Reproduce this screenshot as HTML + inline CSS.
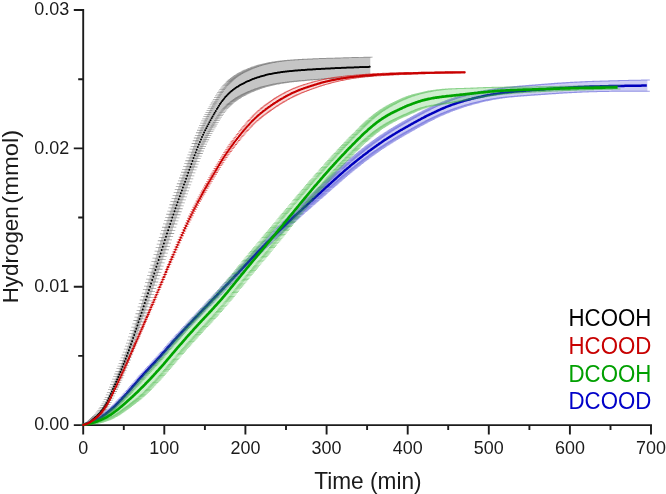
<!DOCTYPE html>
<html lang="en">
<head>
<meta charset="utf-8">
<title>Hydrogen evolution vs time</title>
<style>
html,body{margin:0;padding:0;background:#fff;}
body{width:666px;height:494px;overflow:hidden;font-family:"Liberation Sans",sans-serif;}
svg text{font-family:"Liberation Sans",sans-serif;}
</style>
</head>
<body>
<svg width="666" height="494" viewBox="0 0 666 494" style="display:block;font-family:'Liberation Sans',sans-serif">
<rect width="666" height="494" fill="#fff"/>
<g id="axes"><path d="M83.2 9V426.1" stroke="#1c1c1c" stroke-width="1.9" fill="none"/>
<path d="M82.2 425.1H652" stroke="#1c1c1c" stroke-width="1.9" fill="none"/>
<path d="M83.2 425.1v9.4M123.8 425.1v5M164.3 425.1v9.4M204.9 425.1v5M245.4 425.1v9.4M286 425.1v5M326.6 425.1v9.4M367.1 425.1v5M407.7 425.1v9.4M448.2 425.1v5M488.8 425.1v9.4M529.4 425.1v5M569.9 425.1v9.4M610.5 425.1v5M651 425.1v9.4M83.2 425.1h-9.4M83.2 355.9h-5M83.2 286.7h-9.4M83.2 217.5h-5M83.2 148.4h-9.4M83.2 79.2h-5M83.2 10h-9.4" stroke="#1c1c1c" stroke-width="1.9" fill="none"/></g>
<g id="s-black"><path d="M82.71 424.5h1.18v.6h-1.18zM83.77 424.29h1.18v.7h-1.18zM84.83 423.93h1.18v.83h-1.18zM85.89 423.46h1.18v.98h-1.18zM86.95 422.93h1.18v1.15h-1.18zM88.01 422.32h1.18v1.33h-1.18zM89.07 421.49h1.18v1.53h-1.18zM90.13 420.51h1.18v1.74h-1.18zM91.19 419.5h1.18v1.96h-1.18zM92.25 418.52h1.18v2.19h-1.18zM93.31 417.52h1.18v2.44h-1.18zM94.37 416.49h1.18v2.69h-1.18zM95.43 415.42h1.18v2.95h-1.18zM96.49 414.28h1.18v3.22h-1.18zM97.55 413.07h1.18v3.5h-1.18zM98.61 411.78h1.18v3.78h-1.18zM99.67 410.41h1.18v4.07h-1.18zM100.73 408.93h1.18v4.39h-1.18zM101.79 407.33h1.18v4.76h-1.18zM102.85 405.62h1.18v5.15h-1.18zM103.91 403.78h1.18v5.57h-1.18zM104.97 401.81h1.18v6.02h-1.18zM106.03 399.69h1.18v6.47h-1.18zM107.09 397.36h1.18v6.94h-1.18zM108.15 394.88h1.18v7.42h-1.18zM109.21 392.31h1.18v7.89h-1.18zM110.27 389.68h1.18v8.36h-1.18zM111.33 387.04h1.18v8.81h-1.18zM112.39 384.42h1.18v9.24h-1.18zM113.45 381.82h1.18v9.65h-1.18zM114.51 379.22h1.18v10.03h-1.18zM115.57 376.61h1.18v10.39h-1.18zM116.63 373.99h1.18v10.74h-1.18zM117.69 371.36h1.18v11.07h-1.18zM118.75 368.72h1.18v11.39h-1.18zM119.81 366.05h1.18v11.71h-1.18zM120.87 363.35h1.18v12.01h-1.18zM121.93 360.61h1.18v12.32h-1.18zM122.99 357.83h1.18v12.61h-1.18zM124.05 355h1.18v12.91h-1.18zM125.11 352.12h1.18v13.2h-1.18zM126.17 349.19h1.18v13.49h-1.18zM127.23 346.19h1.18v13.78h-1.18zM128.29 343.14h1.18v14.08h-1.18zM129.35 340.04h1.18v14.38h-1.18zM130.41 336.88h1.18v14.69h-1.18zM131.47 333.67h1.18v15h-1.18zM132.53 330.43h1.18v15.32h-1.18zM133.59 327.14h1.18v15.65h-1.18zM134.65 323.83h1.18v16h-1.18zM135.71 320.49h1.18v16.36h-1.18zM136.77 317.13h1.18v16.73h-1.18zM137.83 313.74h1.18v17.13h-1.18zM138.89 310.32h1.18v17.57h-1.18zM139.95 306.89h1.18v18.02h-1.18zM141.01 303.45h1.18v18.5h-1.18zM142.07 299.99h1.18v18.98h-1.18zM143.13 296.53h1.18v19.46h-1.18zM144.19 293.06h1.18v19.94h-1.18zM145.25 289.58h1.18v20.41h-1.18zM146.31 286.11h1.18v20.86h-1.18zM147.37 282.63h1.18v21.28h-1.18zM148.43 279.15h1.18v21.67h-1.18zM149.49 275.68h1.18v22.03h-1.18zM150.55 272.21h1.18v22.37h-1.18zM151.61 268.71h1.18v22.73h-1.18zM152.67 265.21h1.18v23.09h-1.18zM153.73 261.7h1.18v23.46h-1.18zM154.79 258.18h1.18v23.82h-1.18zM155.85 254.67h1.18v24.16h-1.18zM156.91 251.16h1.18v24.49h-1.18zM157.97 247.67h1.18v24.8h-1.18zM159.03 244.19h1.18v25.08h-1.18zM160.09 240.74h1.18v25.32h-1.18zM161.15 237.31h1.18v25.52h-1.18zM162.21 233.91h1.18v25.67h-1.18zM163.27 230.55h1.18v25.76h-1.18zM164.33 227.23h1.18v25.8h-1.18zM165.39 223.95h1.18v25.79h-1.18zM166.45 220.69h1.18v25.78h-1.18zM167.51 217.45h1.18v25.75h-1.18zM168.57 214.23h1.18v25.71h-1.18zM169.63 211.05h1.18v25.66h-1.18zM170.69 207.88h1.18v25.6h-1.18zM171.75 204.75h1.18v25.54h-1.18zM172.81 201.65h1.18v25.47h-1.18zM173.87 198.58h1.18v25.4h-1.18zM174.93 195.55h1.18v25.32h-1.18zM175.99 192.55h1.18v25.25h-1.18zM177.05 189.58h1.18v25.17h-1.18zM178.11 186.65h1.18v25.09h-1.18zM179.17 183.74h1.18v25.02h-1.18zM180.23 180.85h1.18v24.94h-1.18zM181.29 177.98h1.18v24.85h-1.18zM182.35 175.13h1.18v24.74h-1.18zM183.41 172.27h1.18v24.62h-1.18zM184.47 169.41h1.18v24.5h-1.18zM185.53 166.54h1.18v24.37h-1.18zM186.59 163.65h1.18v24.24h-1.18zM187.65 160.76h1.18v24.11h-1.18zM188.71 157.85h1.18v23.98h-1.18zM189.77 154.95h1.18v23.86h-1.18zM190.83 152.06h1.18v23.75h-1.18zM191.89 149.18h1.18v23.64h-1.18zM192.95 146.33h1.18v23.55h-1.18zM194.01 143.51h1.18v23.47h-1.18zM195.07 140.74h1.18v23.41h-1.18zM196.13 138.01h1.18v23.37h-1.18zM197.19 135.35h1.18v23.33h-1.18zM198.25 132.76h1.18v23.29h-1.18zM199.31 130.25h1.18v23.25h-1.18zM200.37 127.81h1.18v23.21h-1.18zM201.43 125.45h1.18v23.18h-1.18zM202.49 123.17h1.18v23.15h-1.18zM203.55 120.95h1.18v23.12h-1.18zM204.61 118.8h1.18v23.09h-1.18zM205.67 116.7h1.18v23.06h-1.18zM206.73 114.65h1.18v23.04h-1.18zM207.79 112.64h1.18v23.03h-1.18zM208.85 110.66h1.18v23.01h-1.18zM209.91 108.71h1.18v23h-1.18zM210.97 106.78h1.18v23h-1.18zM212.03 104.87h1.18v23h-1.18zM213.09 103h1.18v23h-1.18zM214.15 101.15h1.18v23h-1.18zM215.21 99.35h1.18v23h-1.18zM216.27 97.59h1.18v23h-1.18zM217.33 95.88h1.18v23h-1.18zM218.39 94.22h1.18v23h-1.18zM219.45 92.62h1.18v23h-1.18zM220.51 91.08h1.18v23h-1.18zM221.57 89.61h1.18v23h-1.18zM222.63 88.21h1.18v23h-1.18zM223.69 86.88h1.18v23h-1.18zM224.75 85.62h1.18v23h-1.18zM225.81 84.42h1.18v23h-1.18zM226.87 83.3h1.18v23.01h-1.18zM227.93 82.23h1.18v23.03h-1.18zM228.99 81.23h1.18v23.04h-1.18zM230.05 80.27h1.18v23.06h-1.18zM231.11 79.37h1.18v23.08h-1.18zM232.17 78.51h1.18v23.11h-1.18zM233.23 77.69h1.18v23.13h-1.18zM234.29 76.92h1.18v23.15h-1.18zM235.35 76.17h1.18v23.16h-1.18zM236.41 75.47h1.18v23.18h-1.18zM237.47 74.79h1.18v23.19h-1.18zM238.53 74.14h1.18v23.2h-1.18zM239.59 73.52h1.18v23.2h-1.18zM240.65 72.93h1.18v23.2h-1.18zM241.71 72.35h1.18v23.19h-1.18zM242.77 71.8h1.18v23.18h-1.18zM243.83 71.27h1.18v23.17h-1.18zM244.89 70.76h1.18v23.15h-1.18zM245.95 70.26h1.18v23.14h-1.18zM247.01 69.79h1.18v23.11h-1.18zM248.07 69.33h1.18v23.09h-1.18zM249.13 68.89h1.18v23.07h-1.18zM250.19 68.46h1.18v23.04h-1.18zM251.25 68.04h1.18v23.01h-1.18zM252.31 67.64h1.18v22.98h-1.18zM253.37 67.26h1.18v22.94h-1.18zM254.43 66.89h1.18v22.91h-1.18zM255.49 66.53h1.18v22.88h-1.18zM256.55 66.18h1.18v22.84h-1.18zM257.61 65.85h1.18v22.8h-1.18zM258.67 65.52h1.18v22.77h-1.18zM259.73 65.21h1.18v22.73h-1.18zM260.79 64.91h1.18v22.69h-1.18zM261.85 64.62h1.18v22.65h-1.18zM262.91 64.34h1.18v22.61h-1.18zM263.97 64.07h1.18v22.58h-1.18zM265.03 63.82h1.18v22.54h-1.18zM266.09 63.57h1.18v22.51h-1.18zM267.15 63.33h1.18v22.47h-1.18zM268.21 63.1h1.18v22.44h-1.18zM269.27 62.89h1.18v22.4h-1.18zM270.33 62.68h1.18v22.37h-1.18zM271.39 62.48h1.18v22.34h-1.18zM272.45 62.3h1.18v22.31h-1.18zM273.51 62.12h1.18v22.28h-1.18zM274.57 61.95h1.18v22.24h-1.18zM275.63 61.78h1.18v22.21h-1.18zM276.69 61.63h1.18v22.17h-1.18zM277.75 61.48h1.18v22.14h-1.18zM278.81 61.33h1.18v22.1h-1.18zM279.87 61.2h1.18v22.07h-1.18zM280.93 61.07h1.18v22.03h-1.18zM281.99 60.94h1.18v22h-1.18zM283.05 60.82h1.18v21.96h-1.18zM284.11 60.71h1.18v21.93h-1.18zM285.17 60.6h1.18v21.89h-1.18zM286.23 60.5h1.18v21.85h-1.18zM287.29 60.4h1.18v21.82h-1.18zM288.35 60.3h1.18v21.78h-1.18zM289.41 60.21h1.18v21.75h-1.18zM290.47 60.13h1.18v21.71h-1.18zM291.53 60.04h1.18v21.67h-1.18zM292.59 59.96h1.18v21.63h-1.18zM293.65 59.89h1.18v21.6h-1.18zM294.71 59.81h1.18v21.56h-1.18zM295.77 59.74h1.18v21.52h-1.18zM296.83 59.67h1.18v21.49h-1.18zM297.89 59.61h1.18v21.45h-1.18zM298.95 59.54h1.18v21.42h-1.18zM300.01 59.48h1.18v21.38h-1.18zM301.07 59.42h1.18v21.34h-1.18zM302.13 59.36h1.18v21.31h-1.18zM303.19 59.3h1.18v21.27h-1.18zM304.25 59.24h1.18v21.23h-1.18zM305.31 59.19h1.18v21.19h-1.18zM306.37 59.14h1.18v21.16h-1.18zM307.43 59.08h1.18v21.12h-1.18zM308.49 59.03h1.18v21.08h-1.18zM309.55 58.98h1.18v21.04h-1.18zM310.61 58.94h1.18v21h-1.18zM311.67 58.89h1.18v20.96h-1.18zM312.73 58.84h1.18v20.92h-1.18zM313.79 58.8h1.18v20.89h-1.18zM314.85 58.76h1.18v20.85h-1.18zM315.91 58.71h1.18v20.81h-1.18zM316.97 58.67h1.18v20.77h-1.18zM318.03 58.63h1.18v20.73h-1.18zM319.09 58.59h1.18v20.69h-1.18zM320.15 58.55h1.18v20.65h-1.18zM321.21 58.52h1.18v20.61h-1.18zM322.27 58.48h1.18v20.58h-1.18zM323.33 58.44h1.18v20.54h-1.18zM324.39 58.41h1.18v20.5h-1.18zM325.45 58.37h1.18v20.46h-1.18zM326.51 58.34h1.18v20.42h-1.18zM327.57 58.3h1.18v20.39h-1.18zM328.63 58.27h1.18v20.35h-1.18zM329.69 58.23h1.18v20.31h-1.18zM330.75 58.2h1.18v20.28h-1.18zM331.81 58.17h1.18v20.24h-1.18zM332.87 58.13h1.18v20.21h-1.18zM333.93 58.1h1.18v20.17h-1.18zM334.99 58.07h1.18v20.14h-1.18zM336.05 58.03h1.18v20.1h-1.18zM337.11 58h1.18v20.07h-1.18zM338.17 57.97h1.18v20.04h-1.18zM339.23 57.93h1.18v20.01h-1.18zM340.29 57.9h1.18v19.97h-1.18zM341.35 57.87h1.18v19.94h-1.18zM342.41 57.84h1.18v19.91h-1.18zM343.47 57.81h1.18v19.88h-1.18zM344.53 57.78h1.18v19.85h-1.18zM345.59 57.75h1.18v19.82h-1.18zM346.65 57.72h1.18v19.79h-1.18zM347.71 57.69h1.18v19.76h-1.18zM348.77 57.66h1.18v19.73h-1.18zM349.83 57.63h1.18v19.7h-1.18zM350.89 57.6h1.18v19.67h-1.18zM351.95 57.57h1.18v19.64h-1.18zM353.01 57.55h1.18v19.61h-1.18zM354.07 57.52h1.18v19.58h-1.18zM355.13 57.49h1.18v19.55h-1.18zM356.19 57.47h1.18v19.53h-1.18zM357.25 57.44h1.18v19.5h-1.18zM358.31 57.42h1.18v19.47h-1.18zM359.37 57.39h1.18v19.44h-1.18zM360.43 57.37h1.18v19.42h-1.18zM361.49 57.35h1.18v19.39h-1.18zM362.55 57.33h1.18v19.36h-1.18zM363.61 57.31h1.18v19.34h-1.18zM364.67 57.29h1.18v19.31h-1.18zM365.73 57.27h1.18v19.29h-1.18zM366.79 57.25h1.18v19.26h-1.18zM367.85 57.24h1.18v19.24h-1.18zM368.91 57.22h1.18v19.21h-1.18zM369.11 57.2h1.18v19.21h-1.18z" fill="#4c4c4c" fill-opacity="0.32"/>
<path d="M80.4 424.1h5.8v.8h-5.8zM80.4 424.7h5.8v.8h-5.8zM81.46 423.89h5.8v.8h-5.8zM81.46 424.58h5.8v.8h-5.8zM82.52 423.53h5.8v.8h-5.8zM82.52 424.36h5.8v.8h-5.8zM83.58 423.06h5.8v.8h-5.8zM83.58 424.05h5.8v.8h-5.8zM84.64 422.53h5.8v.8h-5.8zM84.64 423.68h5.8v.8h-5.8zM85.7 421.92h5.8v.8h-5.8zM85.7 423.25h5.8v.8h-5.8zM86.76 421.09h5.8v.8h-5.8zM86.76 422.61h5.8v.8h-5.8zM87.82 420.11h5.8v.8h-5.8zM87.82 421.85h5.8v.8h-5.8zM88.88 419.1h5.8v.8h-5.8zM88.88 421.06h5.8v.8h-5.8zM89.94 418.12h5.8v.8h-5.8zM89.94 420.31h5.8v.8h-5.8zM91 417.12h5.8v.8h-5.8zM91 419.56h5.8v.8h-5.8zM92.06 416.09h5.8v.8h-5.8zM92.06 418.78h5.8v.8h-5.8zM93.12 415.02h5.8v.8h-5.8zM93.12 417.97h5.8v.8h-5.8zM94.18 413.88h5.8v.8h-5.8zM94.18 417.1h5.8v.8h-5.8zM95.24 412.67h5.8v.8h-5.8zM95.24 416.17h5.8v.8h-5.8zM96.3 411.38h5.8v.8h-5.8zM96.3 415.17h5.8v.8h-5.8zM97.36 410.01h5.8v.8h-5.8zM97.36 414.08h5.8v.8h-5.8zM98.42 408.53h5.8v.8h-5.8zM98.42 412.92h5.8v.8h-5.8zM99.48 406.93h5.8v.8h-5.8zM99.48 411.69h5.8v.8h-5.8zM100.54 405.22h5.8v.8h-5.8zM100.54 410.37h5.8v.8h-5.8zM101.6 403.38h5.8v.8h-5.8zM101.6 408.95h5.8v.8h-5.8zM102.66 401.41h5.8v.8h-5.8zM102.66 407.42h5.8v.8h-5.8zM103.72 399.29h5.8v.8h-5.8zM103.72 405.76h5.8v.8h-5.8zM104.78 396.96h5.8v.8h-5.8zM104.78 403.9h5.8v.8h-5.8zM105.84 394.48h5.8v.8h-5.8zM105.84 401.9h5.8v.8h-5.8zM106.9 391.91h5.8v.8h-5.8zM106.9 399.8h5.8v.8h-5.8zM107.96 389.28h5.8v.8h-5.8zM107.96 397.63h5.8v.8h-5.8zM109.02 386.64h5.8v.8h-5.8zM109.02 395.45h5.8v.8h-5.8zM110.08 384.02h5.8v.8h-5.8zM110.08 393.27h5.8v.8h-5.8zM111.14 381.42h5.8v.8h-5.8zM111.14 391.08h5.8v.8h-5.8zM112.2 378.82h5.8v.8h-5.8zM112.2 388.85h5.8v.8h-5.8zM113.26 376.21h5.8v.8h-5.8zM113.26 386.61h5.8v.8h-5.8zM114.32 373.59h5.8v.8h-5.8zM114.32 384.33h5.8v.8h-5.8zM115.38 370.96h5.8v.8h-5.8zM115.38 382.04h5.8v.8h-5.8zM116.44 368.32h5.8v.8h-5.8zM116.44 379.71h5.8v.8h-5.8zM117.5 365.65h5.8v.8h-5.8zM117.5 377.35h5.8v.8h-5.8zM118.56 362.95h5.8v.8h-5.8zM118.56 374.96h5.8v.8h-5.8zM119.62 360.21h5.8v.8h-5.8zM119.62 372.52h5.8v.8h-5.8zM120.68 357.43h5.8v.8h-5.8zM120.68 370.04h5.8v.8h-5.8zM121.74 354.6h5.8v.8h-5.8zM121.74 367.51h5.8v.8h-5.8zM122.8 351.72h5.8v.8h-5.8zM122.8 364.92h5.8v.8h-5.8zM123.86 348.79h5.8v.8h-5.8zM123.86 362.28h5.8v.8h-5.8zM124.92 345.79h5.8v.8h-5.8zM124.92 359.58h5.8v.8h-5.8zM125.98 342.74h5.8v.8h-5.8zM125.98 356.82h5.8v.8h-5.8zM127.04 339.64h5.8v.8h-5.8zM127.04 354.02h5.8v.8h-5.8zM128.1 336.48h5.8v.8h-5.8zM128.1 351.16h5.8v.8h-5.8zM129.16 333.27h5.8v.8h-5.8zM129.16 348.27h5.8v.8h-5.8zM130.22 330.03h5.8v.8h-5.8zM130.22 345.35h5.8v.8h-5.8zM131.28 326.74h5.8v.8h-5.8zM131.28 342.4h5.8v.8h-5.8zM132.34 323.43h5.8v.8h-5.8zM132.34 339.43h5.8v.8h-5.8zM133.4 320.09h5.8v.8h-5.8zM133.4 336.45h5.8v.8h-5.8zM134.46 316.73h5.8v.8h-5.8zM134.46 333.46h5.8v.8h-5.8zM135.52 313.34h5.8v.8h-5.8zM135.52 330.47h5.8v.8h-5.8zM136.58 309.92h5.8v.8h-5.8zM136.58 327.49h5.8v.8h-5.8zM137.64 306.49h5.8v.8h-5.8zM137.64 324.52h5.8v.8h-5.8zM138.7 303.05h5.8v.8h-5.8zM138.7 321.54h5.8v.8h-5.8zM139.76 299.59h5.8v.8h-5.8zM139.76 318.57h5.8v.8h-5.8zM140.82 296.13h5.8v.8h-5.8zM140.82 315.59h5.8v.8h-5.8zM141.88 292.66h5.8v.8h-5.8zM141.88 312.6h5.8v.8h-5.8zM142.94 289.18h5.8v.8h-5.8zM142.94 309.59h5.8v.8h-5.8zM144 285.71h5.8v.8h-5.8zM144 306.56h5.8v.8h-5.8zM145.06 282.23h5.8v.8h-5.8zM145.06 303.51h5.8v.8h-5.8zM146.12 278.75h5.8v.8h-5.8zM146.12 300.42h5.8v.8h-5.8zM147.18 275.28h5.8v.8h-5.8zM147.18 297.31h5.8v.8h-5.8zM148.24 271.81h5.8v.8h-5.8zM148.24 294.18h5.8v.8h-5.8zM149.3 268.31h5.8v.8h-5.8zM149.3 291.04h5.8v.8h-5.8zM150.36 264.81h5.8v.8h-5.8zM150.36 287.9h5.8v.8h-5.8zM151.42 261.3h5.8v.8h-5.8zM151.42 284.75h5.8v.8h-5.8zM152.48 257.78h5.8v.8h-5.8zM152.48 281.6h5.8v.8h-5.8zM153.54 254.27h5.8v.8h-5.8zM153.54 278.43h5.8v.8h-5.8zM154.6 250.76h5.8v.8h-5.8zM154.6 275.26h5.8v.8h-5.8zM155.66 247.27h5.8v.8h-5.8zM155.66 272.07h5.8v.8h-5.8zM156.72 243.79h5.8v.8h-5.8zM156.72 268.87h5.8v.8h-5.8zM157.78 240.34h5.8v.8h-5.8zM157.78 265.65h5.8v.8h-5.8zM158.84 236.91h5.8v.8h-5.8zM158.84 262.42h5.8v.8h-5.8zM159.9 233.51h5.8v.8h-5.8zM159.9 259.18h5.8v.8h-5.8zM160.96 230.15h5.8v.8h-5.8zM160.96 255.91h5.8v.8h-5.8zM162.02 226.83h5.8v.8h-5.8zM162.02 252.63h5.8v.8h-5.8zM163.08 223.55h5.8v.8h-5.8zM163.08 249.34h5.8v.8h-5.8zM164.14 220.29h5.8v.8h-5.8zM164.14 246.06h5.8v.8h-5.8zM165.2 217.05h5.8v.8h-5.8zM165.2 242.8h5.8v.8h-5.8zM166.26 213.83h5.8v.8h-5.8zM166.26 239.54h5.8v.8h-5.8zM167.32 210.65h5.8v.8h-5.8zM167.32 236.3h5.8v.8h-5.8zM168.38 207.48h5.8v.8h-5.8zM168.38 233.09h5.8v.8h-5.8zM169.44 204.35h5.8v.8h-5.8zM169.44 229.89h5.8v.8h-5.8zM170.5 201.25h5.8v.8h-5.8zM170.5 226.72h5.8v.8h-5.8zM171.56 198.18h5.8v.8h-5.8zM171.56 223.58h5.8v.8h-5.8zM172.62 195.15h5.8v.8h-5.8zM172.62 220.47h5.8v.8h-5.8zM173.68 192.15h5.8v.8h-5.8zM173.68 217.39h5.8v.8h-5.8zM174.74 189.18h5.8v.8h-5.8zM174.74 214.35h5.8v.8h-5.8zM175.8 186.25h5.8v.8h-5.8zM175.8 211.34h5.8v.8h-5.8zM176.86 183.34h5.8v.8h-5.8zM176.86 208.35h5.8v.8h-5.8zM177.92 180.45h5.8v.8h-5.8zM177.92 205.39h5.8v.8h-5.8zM178.98 177.58h5.8v.8h-5.8zM178.98 202.43h5.8v.8h-5.8zM180.04 174.73h5.8v.8h-5.8zM180.04 199.47h5.8v.8h-5.8zM181.1 171.87h5.8v.8h-5.8zM181.1 196.5h5.8v.8h-5.8zM182.16 169.01h5.8v.8h-5.8zM182.16 193.51h5.8v.8h-5.8zM183.22 166.14h5.8v.8h-5.8zM183.22 190.51h5.8v.8h-5.8zM184.28 163.25h5.8v.8h-5.8zM184.28 187.5h5.8v.8h-5.8zM185.34 160.36h5.8v.8h-5.8zM185.34 184.47h5.8v.8h-5.8zM186.4 157.45h5.8v.8h-5.8zM186.4 181.44h5.8v.8h-5.8zM187.46 154.55h5.8v.8h-5.8zM187.46 178.41h5.8v.8h-5.8zM188.52 151.66h5.8v.8h-5.8zM188.52 175.4h5.8v.8h-5.8zM189.58 148.78h5.8v.8h-5.8zM189.58 172.42h5.8v.8h-5.8zM190.64 145.93h5.8v.8h-5.8zM190.64 169.48h5.8v.8h-5.8zM191.7 143.11h5.8v.8h-5.8zM191.7 166.59h5.8v.8h-5.8zM192.76 140.34h5.8v.8h-5.8zM192.76 163.75h5.8v.8h-5.8zM193.82 137.61h5.8v.8h-5.8zM193.82 160.98h5.8v.8h-5.8zM194.88 134.95h5.8v.8h-5.8zM194.88 158.28h5.8v.8h-5.8zM195.94 132.36h5.8v.8h-5.8zM195.94 155.65h5.8v.8h-5.8zM197 129.85h5.8v.8h-5.8zM197 153.1h5.8v.8h-5.8zM198.06 127.41h5.8v.8h-5.8zM198.06 150.62h5.8v.8h-5.8zM199.12 125.05h5.8v.8h-5.8zM199.12 148.23h5.8v.8h-5.8zM200.18 122.77h5.8v.8h-5.8zM200.18 145.91h5.8v.8h-5.8zM201.24 120.55h5.8v.8h-5.8zM201.24 143.67h5.8v.8h-5.8zM202.3 118.4h5.8v.8h-5.8zM202.3 141.49h5.8v.8h-5.8zM203.36 116.3h5.8v.8h-5.8zM203.36 139.37h5.8v.8h-5.8zM204.42 114.25h5.8v.8h-5.8zM204.42 137.3h5.8v.8h-5.8zM205.48 112.24h5.8v.8h-5.8zM205.48 135.27h5.8v.8h-5.8zM206.54 110.26h5.8v.8h-5.8zM206.54 133.27h5.8v.8h-5.8zM207.6 108.31h5.8v.8h-5.8zM207.6 131.31h5.8v.8h-5.8zM208.66 106.38h5.8v.8h-5.8zM208.66 129.38h5.8v.8h-5.8zM209.72 104.47h5.8v.8h-5.8zM209.72 127.47h5.8v.8h-5.8zM210.78 102.6h5.8v.8h-5.8zM210.78 125.6h5.8v.8h-5.8zM211.84 100.75h5.8v.8h-5.8zM211.84 123.75h5.8v.8h-5.8zM212.9 98.95h5.8v.8h-5.8zM212.9 121.95h5.8v.8h-5.8zM213.96 97.19h5.8v.8h-5.8zM213.96 120.19h5.8v.8h-5.8zM215.02 95.48h5.8v.8h-5.8zM215.02 118.48h5.8v.8h-5.8zM216.08 93.82h5.8v.8h-5.8zM216.08 116.82h5.8v.8h-5.8zM217.14 92.22h5.8v.8h-5.8zM217.14 115.22h5.8v.8h-5.8zM218.2 90.68h5.8v.8h-5.8zM218.2 113.68h5.8v.8h-5.8zM219.26 89.21h5.8v.8h-5.8zM219.26 112.21h5.8v.8h-5.8zM220.32 87.81h5.8v.8h-5.8zM220.32 110.81h5.8v.8h-5.8zM221.38 86.48h5.8v.8h-5.8zM221.38 109.48h5.8v.8h-5.8zM222.44 85.22h5.8v.8h-5.8zM222.44 108.22h5.8v.8h-5.8zM223.5 84.02h5.8v.8h-5.8zM223.5 107.03h5.8v.8h-5.8zM224.56 82.9h5.8v.8h-5.8zM224.56 105.91h5.8v.8h-5.8zM225.62 81.83h5.8v.8h-5.8zM225.62 104.86h5.8v.8h-5.8zM226.68 80.83h5.8v.8h-5.8zM226.68 103.87h5.8v.8h-5.8zM227.74 79.87h5.8v.8h-5.8zM227.74 102.94h5.8v.8h-5.8zM228.8 78.97h5.8v.8h-5.8zM228.8 102.05h5.8v.8h-5.8zM229.86 78.11h5.8v.8h-5.8zM229.86 101.22h5.8v.8h-5.8zM230.92 77.29h5.8v.8h-5.8zM230.92 100.42h5.8v.8h-5.8zM231.98 76.52h5.8v.8h-5.8zM231.98 99.66h5.8v.8h-5.8zM233.04 75.77h5.8v.8h-5.8zM233.04 98.94h5.8v.8h-5.8zM234.1 75.07h5.8v.8h-5.8zM234.1 98.25h5.8v.8h-5.8zM235.16 74.39h5.8v.8h-5.8zM235.16 97.58h5.8v.8h-5.8zM236.22 73.74h5.8v.8h-5.8zM236.22 96.94h5.8v.8h-5.8zM237.28 73.12h5.8v.8h-5.8zM237.28 96.32h5.8v.8h-5.8zM238.34 72.53h5.8v.8h-5.8zM238.34 95.72h5.8v.8h-5.8zM239.4 71.95h5.8v.8h-5.8zM239.4 95.14h5.8v.8h-5.8zM240.46 71.4h5.8v.8h-5.8zM240.46 94.58h5.8v.8h-5.8zM241.52 70.87h5.8v.8h-5.8zM241.52 94.04h5.8v.8h-5.8zM242.58 70.36h5.8v.8h-5.8zM242.58 93.51h5.8v.8h-5.8zM243.64 69.86h5.8v.8h-5.8zM243.64 93h5.8v.8h-5.8zM244.7 69.39h5.8v.8h-5.8zM244.7 92.5h5.8v.8h-5.8zM245.76 68.93h5.8v.8h-5.8zM245.76 92.02h5.8v.8h-5.8zM246.82 68.49h5.8v.8h-5.8zM246.82 91.55h5.8v.8h-5.8zM247.88 68.06h5.8v.8h-5.8zM247.88 91.09h5.8v.8h-5.8zM248.94 67.64h5.8v.8h-5.8zM248.94 90.65h5.8v.8h-5.8zM250 67.24h5.8v.8h-5.8zM250 90.22h5.8v.8h-5.8zM251.06 66.86h5.8v.8h-5.8zM251.06 89.8h5.8v.8h-5.8zM252.12 66.49h5.8v.8h-5.8zM252.12 89.4h5.8v.8h-5.8zM253.18 66.13h5.8v.8h-5.8zM253.18 89h5.8v.8h-5.8zM254.24 65.78h5.8v.8h-5.8zM254.24 88.62h5.8v.8h-5.8zM255.3 65.45h5.8v.8h-5.8zM255.3 88.25h5.8v.8h-5.8zM256.36 65.12h5.8v.8h-5.8zM256.36 87.89h5.8v.8h-5.8zM257.42 64.81h5.8v.8h-5.8zM257.42 87.54h5.8v.8h-5.8zM258.48 64.51h5.8v.8h-5.8zM258.48 87.2h5.8v.8h-5.8zM259.54 64.22h5.8v.8h-5.8zM259.54 86.87h5.8v.8h-5.8zM260.6 63.94h5.8v.8h-5.8zM260.6 86.56h5.8v.8h-5.8zM261.66 63.67h5.8v.8h-5.8zM261.66 86.25h5.8v.8h-5.8zM262.72 63.42h5.8v.8h-5.8zM262.72 85.96h5.8v.8h-5.8zM263.78 63.17h5.8v.8h-5.8zM263.78 85.67h5.8v.8h-5.8zM264.84 62.93h5.8v.8h-5.8zM264.84 85.4h5.8v.8h-5.8zM265.9 62.7h5.8v.8h-5.8zM265.9 85.14h5.8v.8h-5.8zM266.96 62.49h5.8v.8h-5.8zM266.96 84.89h5.8v.8h-5.8zM268.02 62.28h5.8v.8h-5.8zM268.02 84.65h5.8v.8h-5.8zM269.08 62.08h5.8v.8h-5.8zM269.08 84.42h5.8v.8h-5.8zM270.14 61.9h5.8v.8h-5.8zM270.14 84.2h5.8v.8h-5.8zM271.2 61.72h5.8v.8h-5.8zM271.2 83.99h5.8v.8h-5.8zM272.26 61.55h5.8v.8h-5.8zM272.26 83.79h5.8v.8h-5.8zM273.32 61.38h5.8v.8h-5.8zM273.32 83.59h5.8v.8h-5.8zM274.38 61.23h5.8v.8h-5.8zM274.38 83.4h5.8v.8h-5.8zM275.44 61.08h5.8v.8h-5.8zM275.44 83.22h5.8v.8h-5.8zM276.5 60.93h5.8v.8h-5.8zM276.5 83.04h5.8v.8h-5.8zM277.56 60.8h5.8v.8h-5.8zM277.56 82.87h5.8v.8h-5.8zM278.62 60.67h5.8v.8h-5.8zM278.62 82.7h5.8v.8h-5.8zM279.68 60.54h5.8v.8h-5.8zM279.68 82.54h5.8v.8h-5.8zM280.74 60.42h5.8v.8h-5.8zM280.74 82.39h5.8v.8h-5.8zM281.8 60.31h5.8v.8h-5.8zM281.8 82.24h5.8v.8h-5.8zM282.86 60.2h5.8v.8h-5.8zM282.86 82.09h5.8v.8h-5.8zM283.92 60.1h5.8v.8h-5.8zM283.92 81.95h5.8v.8h-5.8zM284.98 60h5.8v.8h-5.8zM284.98 81.82h5.8v.8h-5.8zM286.04 59.9h5.8v.8h-5.8zM286.04 81.69h5.8v.8h-5.8zM287.1 59.81h5.8v.8h-5.8zM287.1 81.56h5.8v.8h-5.8zM288.16 59.73h5.8v.8h-5.8zM288.16 81.44h5.8v.8h-5.8zM289.22 59.64h5.8v.8h-5.8zM289.22 81.32h5.8v.8h-5.8zM290.28 59.56h5.8v.8h-5.8zM290.28 81.2h5.8v.8h-5.8zM291.34 59.49h5.8v.8h-5.8zM291.34 81.09h5.8v.8h-5.8zM292.4 59.41h5.8v.8h-5.8zM292.4 80.97h5.8v.8h-5.8zM293.46 59.34h5.8v.8h-5.8zM293.46 80.87h5.8v.8h-5.8zM294.52 59.27h5.8v.8h-5.8zM294.52 80.76h5.8v.8h-5.8zM295.58 59.21h5.8v.8h-5.8zM295.58 80.66h5.8v.8h-5.8zM296.64 59.14h5.8v.8h-5.8zM296.64 80.56h5.8v.8h-5.8zM297.7 59.08h5.8v.8h-5.8zM297.7 80.46h5.8v.8h-5.8zM298.76 59.02h5.8v.8h-5.8zM298.76 80.36h5.8v.8h-5.8zM299.82 58.96h5.8v.8h-5.8zM299.82 80.26h5.8v.8h-5.8zM300.88 58.9h5.8v.8h-5.8zM300.88 80.17h5.8v.8h-5.8zM301.94 58.84h5.8v.8h-5.8zM301.94 80.07h5.8v.8h-5.8zM303 58.79h5.8v.8h-5.8zM303 79.98h5.8v.8h-5.8zM304.06 58.74h5.8v.8h-5.8zM304.06 79.89h5.8v.8h-5.8zM305.12 58.68h5.8v.8h-5.8zM305.12 79.8h5.8v.8h-5.8zM306.18 58.63h5.8v.8h-5.8zM306.18 79.71h5.8v.8h-5.8zM307.24 58.58h5.8v.8h-5.8zM307.24 79.62h5.8v.8h-5.8zM308.3 58.54h5.8v.8h-5.8zM308.3 79.54h5.8v.8h-5.8zM309.36 58.49h5.8v.8h-5.8zM309.36 79.45h5.8v.8h-5.8zM310.42 58.44h5.8v.8h-5.8zM310.42 79.37h5.8v.8h-5.8zM311.48 58.4h5.8v.8h-5.8zM311.48 79.28h5.8v.8h-5.8zM312.54 58.36h5.8v.8h-5.8zM312.54 79.2h5.8v.8h-5.8zM313.6 58.31h5.8v.8h-5.8zM313.6 79.12h5.8v.8h-5.8zM314.66 58.27h5.8v.8h-5.8zM314.66 79.04h5.8v.8h-5.8zM315.72 58.23h5.8v.8h-5.8zM315.72 78.96h5.8v.8h-5.8zM316.78 58.19h5.8v.8h-5.8zM316.78 78.88h5.8v.8h-5.8zM317.84 58.15h5.8v.8h-5.8zM317.84 78.81h5.8v.8h-5.8zM318.9 58.12h5.8v.8h-5.8zM318.9 78.73h5.8v.8h-5.8zM319.96 58.08h5.8v.8h-5.8zM319.96 78.65h5.8v.8h-5.8zM321.02 58.04h5.8v.8h-5.8zM321.02 78.58h5.8v.8h-5.8zM322.08 58.01h5.8v.8h-5.8zM322.08 78.51h5.8v.8h-5.8zM323.14 57.97h5.8v.8h-5.8zM323.14 78.43h5.8v.8h-5.8zM324.2 57.94h5.8v.8h-5.8zM324.2 78.36h5.8v.8h-5.8zM325.26 57.9h5.8v.8h-5.8zM325.26 78.29h5.8v.8h-5.8zM326.32 57.87h5.8v.8h-5.8zM326.32 78.22h5.8v.8h-5.8zM327.38 57.83h5.8v.8h-5.8zM327.38 78.15h5.8v.8h-5.8zM328.44 57.8h5.8v.8h-5.8zM328.44 78.08h5.8v.8h-5.8zM329.5 57.77h5.8v.8h-5.8zM329.5 78.01h5.8v.8h-5.8zM330.56 57.73h5.8v.8h-5.8zM330.56 77.94h5.8v.8h-5.8zM331.62 57.7h5.8v.8h-5.8zM331.62 77.87h5.8v.8h-5.8zM332.68 57.67h5.8v.8h-5.8zM332.68 77.8h5.8v.8h-5.8zM333.74 57.63h5.8v.8h-5.8zM333.74 77.74h5.8v.8h-5.8zM334.8 57.6h5.8v.8h-5.8zM334.8 77.67h5.8v.8h-5.8zM335.86 57.57h5.8v.8h-5.8zM335.86 77.61h5.8v.8h-5.8zM336.92 57.53h5.8v.8h-5.8zM336.92 77.54h5.8v.8h-5.8zM337.98 57.5h5.8v.8h-5.8zM337.98 77.48h5.8v.8h-5.8zM339.04 57.47h5.8v.8h-5.8zM339.04 77.41h5.8v.8h-5.8zM340.1 57.44h5.8v.8h-5.8zM340.1 77.35h5.8v.8h-5.8zM341.16 57.41h5.8v.8h-5.8zM341.16 77.29h5.8v.8h-5.8zM342.22 57.38h5.8v.8h-5.8zM342.22 77.23h5.8v.8h-5.8zM343.28 57.35h5.8v.8h-5.8zM343.28 77.17h5.8v.8h-5.8zM344.34 57.32h5.8v.8h-5.8zM344.34 77.1h5.8v.8h-5.8zM345.4 57.29h5.8v.8h-5.8zM345.4 77.05h5.8v.8h-5.8zM346.46 57.26h5.8v.8h-5.8zM346.46 76.99h5.8v.8h-5.8zM347.52 57.23h5.8v.8h-5.8zM347.52 76.93h5.8v.8h-5.8zM348.58 57.2h5.8v.8h-5.8zM348.58 76.87h5.8v.8h-5.8zM349.64 57.17h5.8v.8h-5.8zM349.64 76.81h5.8v.8h-5.8zM350.7 57.15h5.8v.8h-5.8zM350.7 76.76h5.8v.8h-5.8zM351.76 57.12h5.8v.8h-5.8zM351.76 76.7h5.8v.8h-5.8zM352.82 57.09h5.8v.8h-5.8zM352.82 76.65h5.8v.8h-5.8zM353.88 57.07h5.8v.8h-5.8zM353.88 76.59h5.8v.8h-5.8zM354.94 57.04h5.8v.8h-5.8zM354.94 76.54h5.8v.8h-5.8zM356 57.02h5.8v.8h-5.8zM356 76.49h5.8v.8h-5.8zM357.06 56.99h5.8v.8h-5.8zM357.06 76.44h5.8v.8h-5.8zM358.12 56.97h5.8v.8h-5.8zM358.12 76.39h5.8v.8h-5.8zM359.18 56.95h5.8v.8h-5.8zM359.18 76.34h5.8v.8h-5.8zM360.24 56.93h5.8v.8h-5.8zM360.24 76.29h5.8v.8h-5.8zM361.3 56.91h5.8v.8h-5.8zM361.3 76.24h5.8v.8h-5.8zM362.36 56.89h5.8v.8h-5.8zM362.36 76.2h5.8v.8h-5.8zM363.42 56.87h5.8v.8h-5.8zM363.42 76.16h5.8v.8h-5.8zM364.48 56.85h5.8v.8h-5.8zM364.48 76.11h5.8v.8h-5.8zM365.54 56.84h5.8v.8h-5.8zM365.54 76.07h5.8v.8h-5.8zM366.6 56.82h5.8v.8h-5.8zM366.6 76.03h5.8v.8h-5.8zM366.8 56.8h5.8v.8h-5.8zM366.8 76h5.8v.8h-5.8z" fill="#505050" fill-opacity="0.55"/>
<path d="M83.3 424.8h0M84.4 424.6h0M85.4 424.3h0M86.5 424h0M87.5 423.5h0M88.6 423h0M89.7 422.2h0M90.7 421.4h0M91.8 420.5h0M92.8 419.6h0M93.9 418.7h0M95 417.8h0M96 416.9h0M97.1 415.9h0M98.1 414.8h0M99.2 413.7h0M100.3 412.4h0M101.3 411.1h0M102.4 409.7h0M103.4 408.2h0M104.5 406.6h0M105.6 404.8h0M106.6 402.9h0M107.7 400.8h0M108.7 398.6h0M109.8 396.3h0M110.9 393.9h0M111.9 391.4h0M113 389h0M114 386.6h0M115.1 384.2h0M116.2 381.8h0M117.2 379.4h0M118.3 376.9h0M119.3 374.4h0M120.4 371.9h0M121.5 369.4h0M122.5 366.8h0M123.6 364.1h0M124.6 361.5h0M125.7 358.7h0M126.8 355.9h0M127.8 353.1h0M128.9 350.2h0M129.9 347.2h0M131 344.2h0M132.1 341.2h0M133.1 338.1h0M134.2 335h0M135.2 331.8h0M136.3 328.7h0M137.4 325.5h0M138.4 322.3h0M139.5 319.1h0M140.5 315.9h0M141.6 312.7h0M142.7 309.5h0M143.7 306.3h0M144.8 303h0M145.8 299.8h0M146.9 296.5h0M148 293.3h0M149 290h0M150.1 286.7h0M151.1 283.4h0M152.2 280.1h0M153.3 276.8h0M154.3 273.4h0M155.4 270.1h0M156.4 266.8h0M157.5 263.4h0M158.6 260.1h0M159.6 256.7h0M160.7 253.4h0M161.7 250.1h0M162.8 246.7h0M163.9 243.4h0M164.9 240.1h0M166 236.8h0M167 233.6h0M168.1 230.3h0M169.2 227.1h0M170.2 223.9h0M171.3 220.7h0M172.3 217.5h0M173.4 214.4h0M174.5 211.3h0M175.5 208.2h0M176.6 205.2h0M177.6 202.2h0M178.7 199.2h0M179.8 196.2h0M180.8 193.3h0M181.9 190.4h0M182.9 187.5h0M184 184.6h0M185.1 181.7h0M186.1 178.7h0M187.2 175.8h0M188.2 172.8h0M189.3 169.8h0M190.4 166.9h0M191.4 163.9h0M192.5 161h0M193.5 158.1h0M194.6 155.2h0M195.7 152.4h0M196.7 149.7h0M197.8 147h0M198.8 144.4h0M199.9 141.9h0M201 139.4h0M202 137h0M203.1 134.7h0M204.1 132.5h0M205.2 130.3h0M206.3 128.2h0M207.3 126.2h0M208.4 124.2h0M209.4 122.2h0M210.5 120.2h0M211.6 118.3h0M212.6 116.4h0M213.7 114.5h0M214.7 112.7h0M215.8 110.9h0M216.9 109.1h0M217.9 107.4h0M219 105.7h0M220 104.1h0M221.1 102.6h0M222.2 101.1h0M223.2 99.7h0M224.3 98.4h0M225.3 97.1h0M226.4 95.9h0M227.5 94.8h0M228.5 93.7h0M229.6 92.7h0M230.6 91.8h0M231.7 90.9h0M232.8 90.1h0M233.8 89.3h0M234.9 88.5h0M235.9 87.8h0M237 87.1h0M238.1 86.4h0M239.1 85.7h0M240.2 85.1h0M241.2 84.5h0M242.3 83.9h0M243.4 83.4h0M244.4 82.9h0M245.5 82.3h0M246.5 81.8h0M247.6 81.3h0M248.7 80.9h0M249.7 80.4h0M250.8 80h0M251.8 79.5h0M252.9 79.1h0M254 78.7h0M255 78.3h0M256.1 78h0M257.1 77.6h0M258.2 77.2h0M259.3 76.9h0M260.3 76.6h0M261.4 76.3h0M262.4 75.9h0M263.5 75.7h0M264.6 75.4h0M265.6 75.1h0M266.7 74.8h0M267.7 74.6h0M268.8 74.3h0M269.9 74.1h0M270.9 73.9h0M272 73.7h0M273 73.5h0M274.1 73.3h0M275.2 73.1h0M276.2 72.9h0M277.3 72.7h0M278.3 72.5h0M279.4 72.4h0M280.5 72.2h0M281.5 72.1h0M282.6 71.9h0M283.6 71.8h0M284.7 71.7h0M285.8 71.5h0M286.8 71.4h0M287.9 71.3h0M288.9 71.2h0M290 71.1h0M291.1 71h0M292.1 70.9h0M293.2 70.8h0M294.2 70.7h0M295.3 70.6h0M296.4 70.5h0M297.4 70.4h0M298.5 70.3h0M299.5 70.2h0M300.6 70.2h0M301.7 70.1h0M302.7 70h0M303.8 69.9h0M304.8 69.9h0M305.9 69.8h0M307 69.7h0M308 69.6h0M309.1 69.6h0M310.1 69.5h0M311.2 69.4h0M312.3 69.4h0M313.3 69.3h0M314.4 69.2h0M315.4 69.2h0M316.5 69.1h0M317.6 69.1h0M318.6 69h0M319.7 68.9h0M320.7 68.9h0M321.8 68.8h0M322.9 68.8h0M323.9 68.7h0M325 68.7h0M326 68.6h0M327.1 68.5h0M328.2 68.5h0M329.2 68.4h0M330.3 68.4h0M331.3 68.3h0M332.4 68.3h0M333.5 68.2h0M334.5 68.2h0M335.6 68.1h0M336.6 68.1h0M337.7 68h0M338.8 68h0M339.8 67.9h0M340.9 67.9h0M341.9 67.8h0M343 67.8h0M344.1 67.7h0M345.1 67.7h0M346.2 67.7h0M347.2 67.6h0M348.3 67.6h0M349.4 67.5h0M350.4 67.5h0M351.5 67.4h0M352.5 67.4h0M353.6 67.4h0M354.7 67.3h0M355.7 67.3h0M356.8 67.2h0M357.8 67.2h0M358.9 67.2h0M360 67.1h0M361 67.1h0M362.1 67h0M363.1 67h0M364.2 67h0M365.3 66.9h0M366.3 66.9h0M367.4 66.9h0M368.4 66.9h0M369.5 66.8h0M369.7 66.8h0" fill="none" stroke="#000000" stroke-width="2.0" stroke-linecap="round"/></g>
<g id="s-blue"><path d="M82.71 424.6h1.18v.4h-1.18zM83.77 424.26h1.18v.42h-1.18zM84.83 423.91h1.18v.45h-1.18zM85.89 423.55h1.18v.48h-1.18zM86.95 423.18h1.18v.5h-1.18zM88.01 422.79h1.18v.53h-1.18zM89.07 422.4h1.18v.56h-1.18zM90.13 421.99h1.18v.58h-1.18zM91.19 421.58h1.18v.61h-1.18zM92.25 421.16h1.18v.63h-1.18zM93.31 420.73h1.18v.66h-1.18zM94.37 420.28h1.18v.68h-1.18zM95.43 419.81h1.18v.71h-1.18zM96.49 419.3h1.18v.73h-1.18zM97.55 418.77h1.18v.76h-1.18zM98.61 418.19h1.18v.78h-1.18zM99.67 417.57h1.18v.8h-1.18zM100.73 416.88h1.18v.83h-1.18zM101.79 416.14h1.18v.85h-1.18zM102.85 415.36h1.18v.87h-1.18zM103.91 414.54h1.18v.89h-1.18zM104.97 413.7h1.18v.91h-1.18zM106.03 412.84h1.18v.94h-1.18zM107.09 411.97h1.18v.96h-1.18zM108.15 411.07h1.18v.98h-1.18zM109.21 410.15h1.18v1h-1.18zM110.27 409.2h1.18v1.02h-1.18zM111.33 408.23h1.18v1.03h-1.18zM112.39 407.25h1.18v1.05h-1.18zM113.45 406.24h1.18v1.07h-1.18zM114.51 405.21h1.18v1.09h-1.18zM115.57 404.17h1.18v1.11h-1.18zM116.63 403.11h1.18v1.12h-1.18zM117.69 402.03h1.18v1.14h-1.18zM118.75 400.93h1.18v1.16h-1.18zM119.81 399.82h1.18v1.17h-1.18zM120.87 398.69h1.18v1.19h-1.18zM121.93 397.54h1.18v1.21h-1.18zM122.99 396.38h1.18v1.22h-1.18zM124.05 395.22h1.18v1.24h-1.18zM125.11 394.04h1.18v1.25h-1.18zM126.17 392.85h1.18v1.27h-1.18zM127.23 391.65h1.18v1.28h-1.18zM128.29 390.44h1.18v1.3h-1.18zM129.35 389.23h1.18v1.31h-1.18zM130.41 388h1.18v1.33h-1.18zM131.47 386.77h1.18v1.34h-1.18zM132.53 385.54h1.18v1.36h-1.18zM133.59 384.31h1.18v1.37h-1.18zM134.65 383.08h1.18v1.39h-1.18zM135.71 381.85h1.18v1.4h-1.18zM136.77 380.62h1.18v1.42h-1.18zM137.83 379.4h1.18v1.43h-1.18zM138.89 378.19h1.18v1.45h-1.18zM139.95 376.99h1.18v1.46h-1.18zM141.01 375.79h1.18v1.48h-1.18zM142.07 374.61h1.18v1.49h-1.18zM143.13 373.43h1.18v1.51h-1.18zM144.19 372.26h1.18v1.52h-1.18zM145.25 371.1h1.18v1.54h-1.18zM146.31 369.95h1.18v1.55h-1.18zM147.37 368.8h1.18v1.57h-1.18zM148.43 367.65h1.18v1.58h-1.18zM149.49 366.51h1.18v1.6h-1.18zM150.55 365.37h1.18v1.62h-1.18zM151.61 364.23h1.18v1.63h-1.18zM152.67 363.09h1.18v1.65h-1.18zM153.73 361.94h1.18v1.67h-1.18zM154.79 360.79h1.18v1.68h-1.18zM155.85 359.63h1.18v1.7h-1.18zM156.91 358.47h1.18v1.71h-1.18zM157.97 357.29h1.18v1.73h-1.18zM159.03 356.11h1.18v1.74h-1.18zM160.09 354.93h1.18v1.76h-1.18zM161.15 353.73h1.18v1.77h-1.18zM162.21 352.53h1.18v1.79h-1.18zM163.27 351.33h1.18v1.8h-1.18zM164.33 350.12h1.18v1.82h-1.18zM165.39 348.91h1.18v1.83h-1.18zM166.45 347.7h1.18v1.85h-1.18zM167.51 346.49h1.18v1.86h-1.18zM168.57 345.27h1.18v1.88h-1.18zM169.63 344.07h1.18v1.89h-1.18zM170.69 342.86h1.18v1.91h-1.18zM171.75 341.66h1.18v1.92h-1.18zM172.81 340.46h1.18v1.94h-1.18zM173.87 339.27h1.18v1.96h-1.18zM174.93 338.08h1.18v1.97h-1.18zM175.99 336.91h1.18v1.99h-1.18zM177.05 335.73h1.18v2h-1.18zM178.11 334.56h1.18v2.02h-1.18zM179.17 333.4h1.18v2.04h-1.18zM180.23 332.24h1.18v2.05h-1.18zM181.29 331.09h1.18v2.07h-1.18zM182.35 329.94h1.18v2.09h-1.18zM183.41 328.8h1.18v2.1h-1.18zM184.47 327.65h1.18v2.12h-1.18zM185.53 326.52h1.18v2.14h-1.18zM186.59 325.38h1.18v2.16h-1.18zM187.65 324.25h1.18v2.17h-1.18zM188.71 323.11h1.18v2.19h-1.18zM189.77 321.98h1.18v2.21h-1.18zM190.83 320.86h1.18v2.23h-1.18zM191.89 319.73h1.18v2.25h-1.18zM192.95 318.6h1.18v2.27h-1.18zM194.01 317.48h1.18v2.29h-1.18zM195.07 316.35h1.18v2.31h-1.18zM196.13 315.23h1.18v2.33h-1.18zM197.19 314.11h1.18v2.35h-1.18zM198.25 312.98h1.18v2.38h-1.18zM199.31 311.86h1.18v2.4h-1.18zM200.37 310.74h1.18v2.42h-1.18zM201.43 309.62h1.18v2.44h-1.18zM202.49 308.5h1.18v2.47h-1.18zM203.55 307.38h1.18v2.49h-1.18zM204.61 306.26h1.18v2.52h-1.18zM205.67 305.13h1.18v2.54h-1.18zM206.73 304.01h1.18v2.57h-1.18zM207.79 302.89h1.18v2.59h-1.18zM208.85 301.76h1.18v2.62h-1.18zM209.91 300.64h1.18v2.64h-1.18zM210.97 299.51h1.18v2.67h-1.18zM212.03 298.39h1.18v2.7h-1.18zM213.09 297.26h1.18v2.73h-1.18zM214.15 296.13h1.18v2.76h-1.18zM215.21 295h1.18v2.78h-1.18zM216.27 293.87h1.18v2.81h-1.18zM217.33 292.74h1.18v2.84h-1.18zM218.39 291.6h1.18v2.87h-1.18zM219.45 290.47h1.18v2.91h-1.18zM220.51 289.34h1.18v2.94h-1.18zM221.57 288.2h1.18v2.97h-1.18zM222.63 287.06h1.18v3h-1.18zM223.69 285.93h1.18v3.03h-1.18zM224.75 284.79h1.18v3.07h-1.18zM225.81 283.65h1.18v3.1h-1.18zM226.87 282.51h1.18v3.14h-1.18zM227.93 281.37h1.18v3.17h-1.18zM228.99 280.24h1.18v3.21h-1.18zM230.05 279.1h1.18v3.24h-1.18zM231.11 277.96h1.18v3.28h-1.18zM232.17 276.82h1.18v3.32h-1.18zM233.23 275.68h1.18v3.35h-1.18zM234.29 274.53h1.18v3.39h-1.18zM235.35 273.39h1.18v3.43h-1.18zM236.41 272.25h1.18v3.47h-1.18zM237.47 271.11h1.18v3.51h-1.18zM238.53 269.97h1.18v3.55h-1.18zM239.59 268.83h1.18v3.59h-1.18zM240.65 267.68h1.18v3.63h-1.18zM241.71 266.54h1.18v3.68h-1.18zM242.77 265.4h1.18v3.72h-1.18zM243.83 264.25h1.18v3.76h-1.18zM244.89 263.11h1.18v3.81h-1.18zM245.95 261.96h1.18v3.85h-1.18zM247.01 260.82h1.18v3.9h-1.18zM248.07 259.68h1.18v3.94h-1.18zM249.13 258.53h1.18v3.99h-1.18zM250.19 257.39h1.18v4.04h-1.18zM251.25 256.25h1.18v4.09h-1.18zM252.31 255.11h1.18v4.14h-1.18zM253.37 253.97h1.18v4.19h-1.18zM254.43 252.83h1.18v4.25h-1.18zM255.49 251.69h1.18v4.31h-1.18zM256.55 250.56h1.18v4.37h-1.18zM257.61 249.42h1.18v4.44h-1.18zM258.67 248.29h1.18v4.51h-1.18zM259.73 247.16h1.18v4.57h-1.18zM260.79 246.04h1.18v4.64h-1.18zM261.85 244.92h1.18v4.72h-1.18zM262.91 243.8h1.18v4.79h-1.18zM263.97 242.68h1.18v4.87h-1.18zM265.03 241.57h1.18v4.94h-1.18zM266.09 240.46h1.18v5.02h-1.18zM267.15 239.36h1.18v5.1h-1.18zM268.21 238.26h1.18v5.18h-1.18zM269.27 237.17h1.18v5.26h-1.18zM270.33 236.08h1.18v5.34h-1.18zM271.39 234.99h1.18v5.43h-1.18zM272.45 233.91h1.18v5.51h-1.18zM273.51 232.83h1.18v5.6h-1.18zM274.57 231.76h1.18v5.68h-1.18zM275.63 230.69h1.18v5.77h-1.18zM276.69 229.62h1.18v5.85h-1.18zM277.75 228.56h1.18v5.94h-1.18zM278.81 227.5h1.18v6.03h-1.18zM279.87 226.44h1.18v6.11h-1.18zM280.93 225.38h1.18v6.2h-1.18zM281.99 224.33h1.18v6.28h-1.18zM283.05 223.28h1.18v6.37h-1.18zM284.11 222.24h1.18v6.46h-1.18zM285.17 221.19h1.18v6.54h-1.18zM286.23 220.15h1.18v6.63h-1.18zM287.29 219.11h1.18v6.71h-1.18zM288.35 218.08h1.18v6.79h-1.18zM289.41 217.04h1.18v6.88h-1.18zM290.47 216.01h1.18v6.96h-1.18zM291.53 214.98h1.18v7.04h-1.18zM292.59 213.96h1.18v7.12h-1.18zM293.65 212.93h1.18v7.2h-1.18zM294.71 211.91h1.18v7.28h-1.18zM295.77 210.89h1.18v7.35h-1.18zM296.83 209.87h1.18v7.43h-1.18zM297.89 208.86h1.18v7.5h-1.18zM298.95 207.84h1.18v7.57h-1.18zM300.01 206.83h1.18v7.64h-1.18zM301.07 205.82h1.18v7.71h-1.18zM302.13 204.82h1.18v7.78h-1.18zM303.19 203.81h1.18v7.85h-1.18zM304.25 202.8h1.18v7.92h-1.18zM305.31 201.8h1.18v8h-1.18zM306.37 200.79h1.18v8.07h-1.18zM307.43 199.79h1.18v8.14h-1.18zM308.49 198.79h1.18v8.22h-1.18zM309.55 197.79h1.18v8.29h-1.18zM310.61 196.78h1.18v8.37h-1.18zM311.67 195.78h1.18v8.44h-1.18zM312.73 194.78h1.18v8.52h-1.18zM313.79 193.78h1.18v8.59h-1.18zM314.85 192.78h1.18v8.67h-1.18zM315.91 191.78h1.18v8.74h-1.18zM316.97 190.78h1.18v8.81h-1.18zM318.03 189.77h1.18v8.89h-1.18zM319.09 188.77h1.18v8.96h-1.18zM320.15 187.77h1.18v9.03h-1.18zM321.21 186.77h1.18v9.11h-1.18zM322.27 185.76h1.18v9.18h-1.18zM323.33 184.76h1.18v9.25h-1.18zM324.39 183.76h1.18v9.32h-1.18zM325.45 182.75h1.18v9.39h-1.18zM326.51 181.75h1.18v9.46h-1.18zM327.57 180.75h1.18v9.53h-1.18zM328.63 179.74h1.18v9.59h-1.18zM329.69 178.74h1.18v9.66h-1.18zM330.75 177.75h1.18v9.72h-1.18zM331.81 176.75h1.18v9.79h-1.18zM332.87 175.76h1.18v9.85h-1.18zM333.93 174.76h1.18v9.91h-1.18zM334.99 173.78h1.18v9.97h-1.18zM336.05 172.79h1.18v10.03h-1.18zM337.11 171.81h1.18v10.08h-1.18zM338.17 170.84h1.18v10.14h-1.18zM339.23 169.87h1.18v10.19h-1.18zM340.29 168.91h1.18v10.24h-1.18zM341.35 167.95h1.18v10.29h-1.18zM342.41 167h1.18v10.34h-1.18zM343.47 166.05h1.18v10.39h-1.18zM344.53 165.11h1.18v10.43h-1.18zM345.59 164.18h1.18v10.47h-1.18zM346.65 163.25h1.18v10.51h-1.18zM347.71 162.34h1.18v10.55h-1.18zM348.77 161.42h1.18v10.58h-1.18zM349.83 160.52h1.18v10.61h-1.18zM350.89 159.62h1.18v10.64h-1.18zM351.95 158.73h1.18v10.68h-1.18zM353.01 157.84h1.18v10.71h-1.18zM354.07 156.96h1.18v10.74h-1.18zM355.13 156.08h1.18v10.77h-1.18zM356.19 155.21h1.18v10.8h-1.18zM357.25 154.35h1.18v10.83h-1.18zM358.31 153.49h1.18v10.86h-1.18zM359.37 152.63h1.18v10.89h-1.18zM360.43 151.78h1.18v10.93h-1.18zM361.49 150.94h1.18v10.96h-1.18zM362.55 150.1h1.18v10.99h-1.18zM363.61 149.27h1.18v11.01h-1.18zM364.67 148.44h1.18v11.04h-1.18zM365.73 147.62h1.18v11.07h-1.18zM366.79 146.81h1.18v11.1h-1.18zM367.85 146h1.18v11.13h-1.18zM368.91 145.19h1.18v11.16h-1.18zM369.97 144.39h1.18v11.18h-1.18zM371.03 143.6h1.18v11.21h-1.18zM372.09 142.82h1.18v11.23h-1.18zM373.15 142.04h1.18v11.26h-1.18zM374.21 141.26h1.18v11.28h-1.18zM375.27 140.5h1.18v11.31h-1.18zM376.33 139.74h1.18v11.33h-1.18zM377.39 138.99h1.18v11.35h-1.18zM378.45 138.24h1.18v11.37h-1.18zM379.51 137.5h1.18v11.39h-1.18zM380.57 136.77h1.18v11.41h-1.18zM381.63 136.04h1.18v11.43h-1.18zM382.69 135.32h1.18v11.45h-1.18zM383.75 134.61h1.18v11.47h-1.18zM384.81 133.91h1.18v11.48h-1.18zM385.87 133.21h1.18v11.5h-1.18zM386.93 132.52h1.18v11.51h-1.18zM387.99 131.83h1.18v11.53h-1.18zM389.05 131.15h1.18v11.54h-1.18zM390.11 130.48h1.18v11.55h-1.18zM391.17 129.82h1.18v11.56h-1.18zM392.23 129.16h1.18v11.57h-1.18zM393.29 128.51h1.18v11.58h-1.18zM394.35 127.86h1.18v11.59h-1.18zM395.41 127.22h1.18v11.59h-1.18zM396.47 126.59h1.18v11.59h-1.18zM397.53 125.96h1.18v11.6h-1.18zM398.59 125.33h1.18v11.6h-1.18zM399.65 124.72h1.18v11.6h-1.18zM400.71 124.1h1.18v11.6h-1.18zM401.77 123.49h1.18v11.6h-1.18zM402.83 122.89h1.18v11.6h-1.18zM403.89 122.29h1.18v11.59h-1.18zM404.95 121.69h1.18v11.59h-1.18zM406.01 121.09h1.18v11.58h-1.18zM407.07 120.5h1.18v11.58h-1.18zM408.13 119.91h1.18v11.57h-1.18zM409.19 119.32h1.18v11.57h-1.18zM410.25 118.73h1.18v11.56h-1.18zM411.31 118.15h1.18v11.55h-1.18zM412.37 117.56h1.18v11.54h-1.18zM413.43 116.98h1.18v11.53h-1.18zM414.49 116.4h1.18v11.52h-1.18zM415.55 115.82h1.18v11.51h-1.18zM416.61 115.25h1.18v11.5h-1.18zM417.67 114.67h1.18v11.49h-1.18zM418.73 114.11h1.18v11.48h-1.18zM419.79 113.54h1.18v11.46h-1.18zM420.85 112.98h1.18v11.45h-1.18zM421.91 112.42h1.18v11.44h-1.18zM422.97 111.87h1.18v11.42h-1.18zM424.03 111.32h1.18v11.41h-1.18zM425.09 110.77h1.18v11.4h-1.18zM426.15 110.23h1.18v11.38h-1.18zM427.21 109.7h1.18v11.37h-1.18zM428.27 109.17h1.18v11.35h-1.18zM429.33 108.65h1.18v11.33h-1.18zM430.39 108.14h1.18v11.32h-1.18zM431.45 107.63h1.18v11.3h-1.18zM432.51 107.12h1.18v11.28h-1.18zM433.57 106.63h1.18v11.27h-1.18zM434.63 106.14h1.18v11.25h-1.18zM435.69 105.65h1.18v11.23h-1.18zM436.75 105.18h1.18v11.21h-1.18zM437.81 104.71h1.18v11.2h-1.18zM438.87 104.24h1.18v11.18h-1.18zM439.93 103.79h1.18v11.16h-1.18zM440.99 103.34h1.18v11.14h-1.18zM442.05 102.89h1.18v11.13h-1.18zM443.11 102.46h1.18v11.11h-1.18zM444.17 102.03h1.18v11.09h-1.18zM445.23 101.61h1.18v11.07h-1.18zM446.29 101.2h1.18v11.05h-1.18zM447.35 100.79h1.18v11.03h-1.18zM448.41 100.39h1.18v11.02h-1.18zM449.47 100h1.18v11h-1.18zM450.53 99.62h1.18v10.98h-1.18zM451.59 99.25h1.18v10.96h-1.18zM452.65 98.88h1.18v10.94h-1.18zM453.71 98.52h1.18v10.91h-1.18zM454.77 98.17h1.18v10.88h-1.18zM455.83 97.83h1.18v10.85h-1.18zM456.89 97.49h1.18v10.82h-1.18zM457.95 97.17h1.18v10.79h-1.18zM459.01 96.85h1.18v10.76h-1.18zM460.07 96.53h1.18v10.73h-1.18zM461.13 96.23h1.18v10.69h-1.18zM462.19 95.93h1.18v10.65h-1.18zM463.25 95.63h1.18v10.62h-1.18zM464.31 95.35h1.18v10.58h-1.18zM465.37 95.07h1.18v10.54h-1.18zM466.43 94.79h1.18v10.5h-1.18zM467.49 94.52h1.18v10.46h-1.18zM468.55 94.26h1.18v10.42h-1.18zM469.61 94h1.18v10.38h-1.18zM470.67 93.75h1.18v10.34h-1.18zM471.73 93.5h1.18v10.3h-1.18zM472.79 93.25h1.18v10.26h-1.18zM473.85 93.02h1.18v10.22h-1.18zM474.91 92.78h1.18v10.18h-1.18zM475.97 92.55h1.18v10.14h-1.18zM477.03 92.32h1.18v10.1h-1.18zM478.09 92.1h1.18v10.06h-1.18zM479.15 91.88h1.18v10.02h-1.18zM480.21 91.66h1.18v9.98h-1.18zM481.27 91.45h1.18v9.95h-1.18zM482.33 91.24h1.18v9.91h-1.18zM483.39 91.04h1.18v9.88h-1.18zM484.45 90.84h1.18v9.85h-1.18zM485.51 90.64h1.18v9.82h-1.18zM486.57 90.45h1.18v9.79h-1.18zM487.63 90.26h1.18v9.76h-1.18zM488.69 90.08h1.18v9.74h-1.18zM489.75 89.9h1.18v9.71h-1.18zM490.81 89.72h1.18v9.69h-1.18zM491.87 89.55h1.18v9.67h-1.18zM492.93 89.38h1.18v9.65h-1.18zM493.99 89.22h1.18v9.64h-1.18zM495.05 89.06h1.18v9.62h-1.18zM496.11 88.9h1.18v9.61h-1.18zM497.17 88.75h1.18v9.61h-1.18zM498.23 88.6h1.18v9.6h-1.18zM499.29 88.46h1.18v9.6h-1.18zM500.35 88.32h1.18v9.6h-1.18zM501.41 88.18h1.18v9.6h-1.18zM502.47 88.04h1.18v9.6h-1.18zM503.53 87.91h1.18v9.61h-1.18zM504.59 87.79h1.18v9.61h-1.18zM505.65 87.66h1.18v9.62h-1.18zM506.71 87.54h1.18v9.63h-1.18zM507.77 87.42h1.18v9.63h-1.18zM508.83 87.31h1.18v9.64h-1.18zM509.89 87.19h1.18v9.65h-1.18zM510.95 87.08h1.18v9.66h-1.18zM512.01 86.97h1.18v9.67h-1.18zM513.07 86.87h1.18v9.68h-1.18zM514.13 86.76h1.18v9.69h-1.18zM515.19 86.66h1.18v9.71h-1.18zM516.25 86.56h1.18v9.72h-1.18zM517.31 86.46h1.18v9.73h-1.18zM518.37 86.36h1.18v9.75h-1.18zM519.43 86.26h1.18v9.76h-1.18zM520.49 86.17h1.18v9.77h-1.18zM521.55 86.07h1.18v9.79h-1.18zM522.61 85.98h1.18v9.8h-1.18zM523.67 85.88h1.18v9.82h-1.18zM524.73 85.79h1.18v9.83h-1.18zM525.79 85.7h1.18v9.84h-1.18zM526.85 85.61h1.18v9.86h-1.18zM527.91 85.52h1.18v9.87h-1.18zM528.97 85.44h1.18v9.89h-1.18zM530.03 85.35h1.18v9.9h-1.18zM531.09 85.26h1.18v9.91h-1.18zM532.15 85.18h1.18v9.93h-1.18zM533.21 85.09h1.18v9.94h-1.18zM534.27 85h1.18v9.95h-1.18zM535.33 84.92h1.18v9.96h-1.18zM536.39 84.84h1.18v9.97h-1.18zM537.45 84.75h1.18v9.98h-1.18zM538.51 84.67h1.18v9.99h-1.18zM539.57 84.59h1.18v10h-1.18zM540.63 84.5h1.18v10.01h-1.18zM541.69 84.42h1.18v10.02h-1.18zM542.75 84.34h1.18v10.03h-1.18zM543.81 84.26h1.18v10.03h-1.18zM544.87 84.17h1.18v10.04h-1.18zM545.93 84.09h1.18v10.05h-1.18zM546.99 84.01h1.18v10.06h-1.18zM548.05 83.93h1.18v10.06h-1.18zM549.11 83.85h1.18v10.07h-1.18zM550.17 83.77h1.18v10.08h-1.18zM551.23 83.69h1.18v10.08h-1.18zM552.29 83.61h1.18v10.09h-1.18zM553.35 83.53h1.18v10.1h-1.18zM554.41 83.45h1.18v10.1h-1.18zM555.47 83.38h1.18v10.11h-1.18zM556.53 83.3h1.18v10.12h-1.18zM557.59 83.22h1.18v10.12h-1.18zM558.65 83.15h1.18v10.13h-1.18zM559.71 83.07h1.18v10.13h-1.18zM560.77 83h1.18v10.14h-1.18zM561.83 82.93h1.18v10.15h-1.18zM562.89 82.86h1.18v10.15h-1.18zM563.95 82.79h1.18v10.16h-1.18zM565.01 82.72h1.18v10.16h-1.18zM566.07 82.65h1.18v10.17h-1.18zM567.13 82.59h1.18v10.18h-1.18zM568.19 82.52h1.18v10.18h-1.18zM569.25 82.46h1.18v10.19h-1.18zM570.31 82.39h1.18v10.19h-1.18zM571.37 82.33h1.18v10.2h-1.18zM572.43 82.27h1.18v10.2h-1.18zM573.49 82.22h1.18v10.21h-1.18zM574.55 82.16h1.18v10.22h-1.18zM575.61 82.1h1.18v10.22h-1.18zM576.67 82.05h1.18v10.23h-1.18zM577.73 82h1.18v10.24h-1.18zM578.79 81.94h1.18v10.24h-1.18zM579.85 81.89h1.18v10.25h-1.18zM580.91 81.85h1.18v10.26h-1.18zM581.97 81.8h1.18v10.26h-1.18zM583.03 81.75h1.18v10.27h-1.18zM584.09 81.71h1.18v10.28h-1.18zM585.15 81.66h1.18v10.28h-1.18zM586.21 81.62h1.18v10.29h-1.18zM587.27 81.57h1.18v10.3h-1.18zM588.33 81.53h1.18v10.31h-1.18zM589.39 81.49h1.18v10.31h-1.18zM590.45 81.45h1.18v10.32h-1.18zM591.51 81.41h1.18v10.33h-1.18zM592.57 81.37h1.18v10.34h-1.18zM593.63 81.34h1.18v10.35h-1.18zM594.69 81.3h1.18v10.36h-1.18zM595.75 81.26h1.18v10.37h-1.18zM596.81 81.23h1.18v10.38h-1.18zM597.87 81.2h1.18v10.39h-1.18zM598.93 81.16h1.18v10.4h-1.18zM599.99 81.13h1.18v10.41h-1.18zM601.05 81.1h1.18v10.42h-1.18zM602.11 81.06h1.18v10.43h-1.18zM603.17 81.03h1.18v10.44h-1.18zM604.23 81h1.18v10.45h-1.18zM605.29 80.97h1.18v10.46h-1.18zM606.35 80.94h1.18v10.48h-1.18zM607.41 80.91h1.18v10.49h-1.18zM608.47 80.88h1.18v10.5h-1.18zM609.53 80.85h1.18v10.52h-1.18zM610.59 80.82h1.18v10.53h-1.18zM611.65 80.79h1.18v10.55h-1.18zM612.71 80.77h1.18v10.56h-1.18zM613.77 80.74h1.18v10.58h-1.18zM614.83 80.71h1.18v10.6h-1.18zM615.89 80.68h1.18v10.61h-1.18zM616.95 80.65h1.18v10.63h-1.18zM618.01 80.63h1.18v10.65h-1.18zM619.07 80.6h1.18v10.66h-1.18zM620.13 80.57h1.18v10.68h-1.18zM621.19 80.54h1.18v10.7h-1.18zM622.25 80.52h1.18v10.72h-1.18zM623.31 80.49h1.18v10.74h-1.18zM624.37 80.46h1.18v10.76h-1.18zM625.43 80.44h1.18v10.78h-1.18zM626.49 80.41h1.18v10.8h-1.18zM627.55 80.39h1.18v10.82h-1.18zM628.61 80.36h1.18v10.84h-1.18zM629.67 80.34h1.18v10.86h-1.18zM630.73 80.31h1.18v10.88h-1.18zM631.79 80.29h1.18v10.9h-1.18zM632.85 80.27h1.18v10.92h-1.18zM633.91 80.24h1.18v10.94h-1.18zM634.97 80.22h1.18v10.96h-1.18zM636.03 80.2h1.18v10.98h-1.18zM637.09 80.18h1.18v11h-1.18zM638.15 80.16h1.18v11.03h-1.18zM639.21 80.14h1.18v11.05h-1.18zM640.27 80.12h1.18v11.07h-1.18zM641.33 80.1h1.18v11.09h-1.18zM642.39 80.08h1.18v11.11h-1.18zM643.45 80.06h1.18v11.14h-1.18zM644.51 80.04h1.18v11.16h-1.18zM645.57 80.02h1.18v11.18h-1.18zM646.21 80h1.18v11.2h-1.18z" fill="#4848d8" fill-opacity="0.27"/>
<path d="M80.3 424.15h6v.9h-6zM80.3 424.55h6v.9h-6zM81.36 423.81h6v.9h-6zM81.36 424.24h6v.9h-6zM82.42 423.46h6v.9h-6zM82.42 423.91h6v.9h-6zM83.48 423.1h6v.9h-6zM83.48 423.58h6v.9h-6zM84.54 422.73h6v.9h-6zM84.54 423.23h6v.9h-6zM85.6 422.34h6v.9h-6zM85.6 422.87h6v.9h-6zM86.66 421.95h6v.9h-6zM86.66 422.5h6v.9h-6zM87.72 421.54h6v.9h-6zM87.72 422.13h6v.9h-6zM88.78 421.13h6v.9h-6zM88.78 421.74h6v.9h-6zM89.84 420.71h6v.9h-6zM89.84 421.34h6v.9h-6zM90.9 420.28h6v.9h-6zM90.9 420.94h6v.9h-6zM91.96 419.83h6v.9h-6zM91.96 420.51h6v.9h-6zM93.02 419.36h6v.9h-6zM93.02 420.06h6v.9h-6zM94.08 418.85h6v.9h-6zM94.08 419.59h6v.9h-6zM95.14 418.32h6v.9h-6zM95.14 419.07h6v.9h-6zM96.2 417.74h6v.9h-6zM96.2 418.52h6v.9h-6zM97.26 417.12h6v.9h-6zM97.26 417.92h6v.9h-6zM98.32 416.43h6v.9h-6zM98.32 417.26h6v.9h-6zM99.38 415.69h6v.9h-6zM99.38 416.54h6v.9h-6zM100.44 414.91h6v.9h-6zM100.44 415.78h6v.9h-6zM101.5 414.09h6v.9h-6zM101.5 414.98h6v.9h-6zM102.56 413.25h6v.9h-6zM102.56 414.17h6v.9h-6zM103.62 412.39h6v.9h-6zM103.62 413.33h6v.9h-6zM104.68 411.52h6v.9h-6zM104.68 412.47h6v.9h-6zM105.74 410.62h6v.9h-6zM105.74 411.6h6v.9h-6zM106.8 409.7h6v.9h-6zM106.8 410.69h6v.9h-6zM107.86 408.75h6v.9h-6zM107.86 409.77h6v.9h-6zM108.92 407.78h6v.9h-6zM108.92 408.82h6v.9h-6zM109.98 406.8h6v.9h-6zM109.98 407.85h6v.9h-6zM111.04 405.79h6v.9h-6zM111.04 406.86h6v.9h-6zM112.1 404.76h6v.9h-6zM112.1 405.85h6v.9h-6zM113.16 403.72h6v.9h-6zM113.16 404.82h6v.9h-6zM114.22 402.66h6v.9h-6zM114.22 403.78h6v.9h-6zM115.28 401.58h6v.9h-6zM115.28 402.72h6v.9h-6zM116.34 400.48h6v.9h-6zM116.34 401.64h6v.9h-6zM117.4 399.37h6v.9h-6zM117.4 400.54h6v.9h-6zM118.46 398.24h6v.9h-6zM118.46 399.43h6v.9h-6zM119.52 397.09h6v.9h-6zM119.52 398.29h6v.9h-6zM120.58 395.93h6v.9h-6zM120.58 397.15h6v.9h-6zM121.64 394.77h6v.9h-6zM121.64 396h6v.9h-6zM122.7 393.59h6v.9h-6zM122.7 394.84h6v.9h-6zM123.76 392.4h6v.9h-6zM123.76 393.67h6v.9h-6zM124.82 391.2h6v.9h-6zM124.82 392.49h6v.9h-6zM125.88 389.99h6v.9h-6zM125.88 391.29h6v.9h-6zM126.94 388.78h6v.9h-6zM126.94 390.09h6v.9h-6zM128 387.55h6v.9h-6zM128 388.88h6v.9h-6zM129.06 386.32h6v.9h-6zM129.06 387.67h6v.9h-6zM130.12 385.09h6v.9h-6zM130.12 386.45h6v.9h-6zM131.18 383.86h6v.9h-6zM131.18 385.23h6v.9h-6zM132.24 382.63h6v.9h-6zM132.24 384.01h6v.9h-6zM133.3 381.4h6v.9h-6zM133.3 382.8h6v.9h-6zM134.36 380.17h6v.9h-6zM134.36 381.59h6v.9h-6zM135.42 378.95h6v.9h-6zM135.42 380.38h6v.9h-6zM136.48 377.74h6v.9h-6zM136.48 379.19h6v.9h-6zM137.54 376.54h6v.9h-6zM137.54 378h6v.9h-6zM138.6 375.34h6v.9h-6zM138.6 376.82h6v.9h-6zM139.66 374.16h6v.9h-6zM139.66 375.65h6v.9h-6zM140.72 372.98h6v.9h-6zM140.72 374.48h6v.9h-6zM141.78 371.81h6v.9h-6zM141.78 373.33h6v.9h-6zM142.84 370.65h6v.9h-6zM142.84 372.19h6v.9h-6zM143.9 369.5h6v.9h-6zM143.9 371.05h6v.9h-6zM144.96 368.35h6v.9h-6zM144.96 369.92h6v.9h-6zM146.02 367.2h6v.9h-6zM146.02 368.79h6v.9h-6zM147.08 366.06h6v.9h-6zM147.08 367.66h6v.9h-6zM148.14 364.92h6v.9h-6zM148.14 366.54h6v.9h-6zM149.2 363.78h6v.9h-6zM149.2 365.41h6v.9h-6zM150.26 362.64h6v.9h-6zM150.26 364.29h6v.9h-6zM151.32 361.49h6v.9h-6zM151.32 363.16h6v.9h-6zM152.38 360.34h6v.9h-6zM152.38 362.02h6v.9h-6zM153.44 359.18h6v.9h-6zM153.44 360.88h6v.9h-6zM154.5 358.02h6v.9h-6zM154.5 359.73h6v.9h-6zM155.56 356.84h6v.9h-6zM155.56 358.57h6v.9h-6zM156.62 355.66h6v.9h-6zM156.62 357.41h6v.9h-6zM157.68 354.48h6v.9h-6zM157.68 356.24h6v.9h-6zM158.74 353.28h6v.9h-6zM158.74 355.06h6v.9h-6zM159.8 352.08h6v.9h-6zM159.8 353.87h6v.9h-6zM160.86 350.88h6v.9h-6zM160.86 352.68h6v.9h-6zM161.92 349.67h6v.9h-6zM161.92 351.49h6v.9h-6zM162.98 348.46h6v.9h-6zM162.98 350.29h6v.9h-6zM164.04 347.25h6v.9h-6zM164.04 349.1h6v.9h-6zM165.1 346.04h6v.9h-6zM165.1 347.9h6v.9h-6zM166.16 344.82h6v.9h-6zM166.16 346.7h6v.9h-6zM167.22 343.62h6v.9h-6zM167.22 345.51h6v.9h-6zM168.28 342.41h6v.9h-6zM168.28 344.32h6v.9h-6zM169.34 341.21h6v.9h-6zM169.34 343.13h6v.9h-6zM170.4 340.01h6v.9h-6zM170.4 341.95h6v.9h-6zM171.46 338.82h6v.9h-6zM171.46 340.78h6v.9h-6zM172.52 337.63h6v.9h-6zM172.52 339.61h6v.9h-6zM173.58 336.46h6v.9h-6zM173.58 338.44h6v.9h-6zM174.64 335.28h6v.9h-6zM174.64 337.28h6v.9h-6zM175.7 334.11h6v.9h-6zM175.7 336.13h6v.9h-6zM176.76 332.95h6v.9h-6zM176.76 334.99h6v.9h-6zM177.82 331.79h6v.9h-6zM177.82 333.84h6v.9h-6zM178.88 330.64h6v.9h-6zM178.88 332.71h6v.9h-6zM179.94 329.49h6v.9h-6zM179.94 331.58h6v.9h-6zM181 328.35h6v.9h-6zM181 330.45h6v.9h-6zM182.06 327.2h6v.9h-6zM182.06 329.32h6v.9h-6zM183.12 326.07h6v.9h-6zM183.12 328.2h6v.9h-6zM184.18 324.93h6v.9h-6zM184.18 327.09h6v.9h-6zM185.24 323.8h6v.9h-6zM185.24 325.97h6v.9h-6zM186.3 322.66h6v.9h-6zM186.3 324.86h6v.9h-6zM187.36 321.53h6v.9h-6zM187.36 323.75h6v.9h-6zM188.42 320.41h6v.9h-6zM188.42 322.64h6v.9h-6zM189.48 319.28h6v.9h-6zM189.48 321.53h6v.9h-6zM190.54 318.15h6v.9h-6zM190.54 320.42h6v.9h-6zM191.6 317.03h6v.9h-6zM191.6 319.32h6v.9h-6zM192.66 315.9h6v.9h-6zM192.66 318.21h6v.9h-6zM193.72 314.78h6v.9h-6zM193.72 317.11h6v.9h-6zM194.78 313.66h6v.9h-6zM194.78 316.01h6v.9h-6zM195.84 312.53h6v.9h-6zM195.84 314.91h6v.9h-6zM196.9 311.41h6v.9h-6zM196.9 313.81h6v.9h-6zM197.96 310.29h6v.9h-6zM197.96 312.71h6v.9h-6zM199.02 309.17h6v.9h-6zM199.02 311.61h6v.9h-6zM200.08 308.05h6v.9h-6zM200.08 310.52h6v.9h-6zM201.14 306.93h6v.9h-6zM201.14 309.42h6v.9h-6zM202.2 305.81h6v.9h-6zM202.2 308.32h6v.9h-6zM203.26 304.68h6v.9h-6zM203.26 307.22h6v.9h-6zM204.32 303.56h6v.9h-6zM204.32 306.13h6v.9h-6zM205.38 302.44h6v.9h-6zM205.38 305.03h6v.9h-6zM206.44 301.31h6v.9h-6zM206.44 303.93h6v.9h-6zM207.5 300.19h6v.9h-6zM207.5 302.83h6v.9h-6zM208.56 299.06h6v.9h-6zM208.56 301.73h6v.9h-6zM209.62 297.94h6v.9h-6zM209.62 300.64h6v.9h-6zM210.68 296.81h6v.9h-6zM210.68 299.54h6v.9h-6zM211.74 295.68h6v.9h-6zM211.74 298.43h6v.9h-6zM212.8 294.55h6v.9h-6zM212.8 297.33h6v.9h-6zM213.86 293.42h6v.9h-6zM213.86 296.23h6v.9h-6zM214.92 292.29h6v.9h-6zM214.92 295.13h6v.9h-6zM215.98 291.15h6v.9h-6zM215.98 294.03h6v.9h-6zM217.04 290.02h6v.9h-6zM217.04 292.93h6v.9h-6zM218.1 288.89h6v.9h-6zM218.1 291.82h6v.9h-6zM219.16 287.75h6v.9h-6zM219.16 290.72h6v.9h-6zM220.22 286.61h6v.9h-6zM220.22 289.61h6v.9h-6zM221.28 285.48h6v.9h-6zM221.28 288.51h6v.9h-6zM222.34 284.34h6v.9h-6zM222.34 287.41h6v.9h-6zM223.4 283.2h6v.9h-6zM223.4 286.3h6v.9h-6zM224.46 282.06h6v.9h-6zM224.46 285.2h6v.9h-6zM225.52 280.92h6v.9h-6zM225.52 284.1h6v.9h-6zM226.58 279.79h6v.9h-6zM226.58 282.99h6v.9h-6zM227.64 278.65h6v.9h-6zM227.64 281.89h6v.9h-6zM228.7 277.51h6v.9h-6zM228.7 280.78h6v.9h-6zM229.76 276.37h6v.9h-6zM229.76 279.68h6v.9h-6zM230.82 275.23h6v.9h-6zM230.82 278.58h6v.9h-6zM231.88 274.08h6v.9h-6zM231.88 277.48h6v.9h-6zM232.94 272.94h6v.9h-6zM232.94 276.37h6v.9h-6zM234 271.8h6v.9h-6zM234 275.27h6v.9h-6zM235.06 270.66h6v.9h-6zM235.06 274.17h6v.9h-6zM236.12 269.52h6v.9h-6zM236.12 273.07h6v.9h-6zM237.18 268.38h6v.9h-6zM237.18 271.97h6v.9h-6zM238.24 267.23h6v.9h-6zM238.24 270.87h6v.9h-6zM239.3 266.09h6v.9h-6zM239.3 269.76h6v.9h-6zM240.36 264.95h6v.9h-6zM240.36 268.66h6v.9h-6zM241.42 263.8h6v.9h-6zM241.42 267.56h6v.9h-6zM242.48 262.66h6v.9h-6zM242.48 266.46h6v.9h-6zM243.54 261.51h6v.9h-6zM243.54 265.36h6v.9h-6zM244.6 260.37h6v.9h-6zM244.6 264.27h6v.9h-6zM245.66 259.23h6v.9h-6zM245.66 263.17h6v.9h-6zM246.72 258.08h6v.9h-6zM246.72 262.07h6v.9h-6zM247.78 256.94h6v.9h-6zM247.78 260.98h6v.9h-6zM248.84 255.8h6v.9h-6zM248.84 259.89h6v.9h-6zM249.9 254.66h6v.9h-6zM249.9 258.8h6v.9h-6zM250.96 253.52h6v.9h-6zM250.96 257.71h6v.9h-6zM252.02 252.38h6v.9h-6zM252.02 256.63h6v.9h-6zM253.08 251.24h6v.9h-6zM253.08 255.55h6v.9h-6zM254.14 250.11h6v.9h-6zM254.14 254.48h6v.9h-6zM255.2 248.97h6v.9h-6zM255.2 253.41h6v.9h-6zM256.26 247.84h6v.9h-6zM256.26 252.35h6v.9h-6zM257.32 246.71h6v.9h-6zM257.32 251.29h6v.9h-6zM258.38 245.59h6v.9h-6zM258.38 250.23h6v.9h-6zM259.44 244.47h6v.9h-6zM259.44 249.18h6v.9h-6zM260.5 243.35h6v.9h-6zM260.5 248.14h6v.9h-6zM261.56 242.23h6v.9h-6zM261.56 247.1h6v.9h-6zM262.62 241.12h6v.9h-6zM262.62 246.06h6v.9h-6zM263.68 240.01h6v.9h-6zM263.68 245.03h6v.9h-6zM264.74 238.91h6v.9h-6zM264.74 244.01h6v.9h-6zM265.8 237.81h6v.9h-6zM265.8 242.99h6v.9h-6zM266.86 236.72h6v.9h-6zM266.86 241.98h6v.9h-6zM267.92 235.63h6v.9h-6zM267.92 240.97h6v.9h-6zM268.98 234.54h6v.9h-6zM268.98 239.97h6v.9h-6zM270.04 233.46h6v.9h-6zM270.04 238.97h6v.9h-6zM271.1 232.38h6v.9h-6zM271.1 237.98h6v.9h-6zM272.16 231.31h6v.9h-6zM272.16 236.99h6v.9h-6zM273.22 230.24h6v.9h-6zM273.22 236h6v.9h-6zM274.28 229.17h6v.9h-6zM274.28 235.02h6v.9h-6zM275.34 228.11h6v.9h-6zM275.34 234.05h6v.9h-6zM276.4 227.05h6v.9h-6zM276.4 233.07h6v.9h-6zM277.46 225.99h6v.9h-6zM277.46 232.1h6v.9h-6zM278.52 224.93h6v.9h-6zM278.52 231.13h6v.9h-6zM279.58 223.88h6v.9h-6zM279.58 230.17h6v.9h-6zM280.64 222.83h6v.9h-6zM280.64 229.21h6v.9h-6zM281.7 221.79h6v.9h-6zM281.7 228.24h6v.9h-6zM282.76 220.74h6v.9h-6zM282.76 227.29h6v.9h-6zM283.82 219.7h6v.9h-6zM283.82 226.33h6v.9h-6zM284.88 218.66h6v.9h-6zM284.88 225.38h6v.9h-6zM285.94 217.63h6v.9h-6zM285.94 224.42h6v.9h-6zM287 216.59h6v.9h-6zM287 223.47h6v.9h-6zM288.06 215.56h6v.9h-6zM288.06 222.52h6v.9h-6zM289.12 214.53h6v.9h-6zM289.12 221.57h6v.9h-6zM290.18 213.51h6v.9h-6zM290.18 220.63h6v.9h-6zM291.24 212.48h6v.9h-6zM291.24 219.68h6v.9h-6zM292.3 211.46h6v.9h-6zM292.3 218.74h6v.9h-6zM293.36 210.44h6v.9h-6zM293.36 217.79h6v.9h-6zM294.42 209.42h6v.9h-6zM294.42 216.85h6v.9h-6zM295.48 208.41h6v.9h-6zM295.48 215.91h6v.9h-6zM296.54 207.39h6v.9h-6zM296.54 214.96h6v.9h-6zM297.6 206.38h6v.9h-6zM297.6 214.02h6v.9h-6zM298.66 205.37h6v.9h-6zM298.66 213.08h6v.9h-6zM299.72 204.37h6v.9h-6zM299.72 212.15h6v.9h-6zM300.78 203.36h6v.9h-6zM300.78 211.21h6v.9h-6zM301.84 202.35h6v.9h-6zM301.84 210.28h6v.9h-6zM302.9 201.35h6v.9h-6zM302.9 209.35h6v.9h-6zM303.96 200.34h6v.9h-6zM303.96 208.42h6v.9h-6zM305.02 199.34h6v.9h-6zM305.02 207.49h6v.9h-6zM306.08 198.34h6v.9h-6zM306.08 206.56h6v.9h-6zM307.14 197.34h6v.9h-6zM307.14 205.63h6v.9h-6zM308.2 196.33h6v.9h-6zM308.2 204.7h6v.9h-6zM309.26 195.33h6v.9h-6zM309.26 203.78h6v.9h-6zM310.32 194.33h6v.9h-6zM310.32 202.85h6v.9h-6zM311.38 193.33h6v.9h-6zM311.38 201.92h6v.9h-6zM312.44 192.33h6v.9h-6zM312.44 201h6v.9h-6zM313.5 191.33h6v.9h-6zM313.5 200.07h6v.9h-6zM314.56 190.33h6v.9h-6zM314.56 199.14h6v.9h-6zM315.62 189.32h6v.9h-6zM315.62 198.21h6v.9h-6zM316.68 188.32h6v.9h-6zM316.68 197.28h6v.9h-6zM317.74 187.32h6v.9h-6zM317.74 196.35h6v.9h-6zM318.8 186.32h6v.9h-6zM318.8 195.42h6v.9h-6zM319.86 185.31h6v.9h-6zM319.86 194.49h6v.9h-6zM320.92 184.31h6v.9h-6zM320.92 193.56h6v.9h-6zM321.98 183.31h6v.9h-6zM321.98 192.63h6v.9h-6zM323.04 182.3h6v.9h-6zM323.04 191.69h6v.9h-6zM324.1 181.3h6v.9h-6zM324.1 190.76h6v.9h-6zM325.16 180.3h6v.9h-6zM325.16 189.82h6v.9h-6zM326.22 179.29h6v.9h-6zM326.22 188.89h6v.9h-6zM327.28 178.29h6v.9h-6zM327.28 187.95h6v.9h-6zM328.34 177.3h6v.9h-6zM328.34 187.02h6v.9h-6zM329.4 176.3h6v.9h-6zM329.4 186.09h6v.9h-6zM330.46 175.31h6v.9h-6zM330.46 185.16h6v.9h-6zM331.52 174.31h6v.9h-6zM331.52 184.23h6v.9h-6zM332.58 173.33h6v.9h-6zM332.58 183.3h6v.9h-6zM333.64 172.34h6v.9h-6zM333.64 182.37h6v.9h-6zM334.7 171.36h6v.9h-6zM334.7 181.45h6v.9h-6zM335.76 170.39h6v.9h-6zM335.76 180.53h6v.9h-6zM336.82 169.42h6v.9h-6zM336.82 179.61h6v.9h-6zM337.88 168.46h6v.9h-6zM337.88 178.7h6v.9h-6zM338.94 167.5h6v.9h-6zM338.94 177.79h6v.9h-6zM340 166.55h6v.9h-6zM340 176.89h6v.9h-6zM341.06 165.6h6v.9h-6zM341.06 175.99h6v.9h-6zM342.12 164.66h6v.9h-6zM342.12 175.09h6v.9h-6zM343.18 163.73h6v.9h-6zM343.18 174.2h6v.9h-6zM344.24 162.8h6v.9h-6zM344.24 173.31h6v.9h-6zM345.3 161.89h6v.9h-6zM345.3 172.43h6v.9h-6zM346.36 160.97h6v.9h-6zM346.36 171.55h6v.9h-6zM347.42 160.07h6v.9h-6zM347.42 170.68h6v.9h-6zM348.48 159.17h6v.9h-6zM348.48 169.82h6v.9h-6zM349.54 158.28h6v.9h-6zM349.54 168.95h6v.9h-6zM350.6 157.39h6v.9h-6zM350.6 168.1h6v.9h-6zM351.66 156.51h6v.9h-6zM351.66 167.25h6v.9h-6zM352.72 155.63h6v.9h-6zM352.72 166.4h6v.9h-6zM353.78 154.76h6v.9h-6zM353.78 165.56h6v.9h-6zM354.84 153.9h6v.9h-6zM354.84 164.73h6v.9h-6zM355.9 153.04h6v.9h-6zM355.9 163.9h6v.9h-6zM356.96 152.18h6v.9h-6zM356.96 163.08h6v.9h-6zM358.02 151.33h6v.9h-6zM358.02 162.26h6v.9h-6zM359.08 150.49h6v.9h-6zM359.08 161.45h6v.9h-6zM360.14 149.65h6v.9h-6zM360.14 160.64h6v.9h-6zM361.2 148.82h6v.9h-6zM361.2 159.83h6v.9h-6zM362.26 147.99h6v.9h-6zM362.26 159.04h6v.9h-6zM363.32 147.17h6v.9h-6zM363.32 158.24h6v.9h-6zM364.38 146.36h6v.9h-6zM364.38 157.46h6v.9h-6zM365.44 145.55h6v.9h-6zM365.44 156.67h6v.9h-6zM366.5 144.74h6v.9h-6zM366.5 155.9h6v.9h-6zM367.56 143.94h6v.9h-6zM367.56 155.13h6v.9h-6zM368.62 143.15h6v.9h-6zM368.62 154.36h6v.9h-6zM369.68 142.37h6v.9h-6zM369.68 153.6h6v.9h-6zM370.74 141.59h6v.9h-6zM370.74 152.85h6v.9h-6zM371.8 140.81h6v.9h-6zM371.8 152.1h6v.9h-6zM372.86 140.05h6v.9h-6zM372.86 151.35h6v.9h-6zM373.92 139.29h6v.9h-6zM373.92 150.62h6v.9h-6zM374.98 138.54h6v.9h-6zM374.98 149.89h6v.9h-6zM376.04 137.79h6v.9h-6zM376.04 149.16h6v.9h-6zM377.1 137.05h6v.9h-6zM377.1 148.44h6v.9h-6zM378.16 136.32h6v.9h-6zM378.16 147.73h6v.9h-6zM379.22 135.59h6v.9h-6zM379.22 147.02h6v.9h-6zM380.28 134.87h6v.9h-6zM380.28 146.32h6v.9h-6zM381.34 134.16h6v.9h-6zM381.34 145.63h6v.9h-6zM382.4 133.46h6v.9h-6zM382.4 144.94h6v.9h-6zM383.46 132.76h6v.9h-6zM383.46 144.26h6v.9h-6zM384.52 132.07h6v.9h-6zM384.52 143.58h6v.9h-6zM385.58 131.38h6v.9h-6zM385.58 142.91h6v.9h-6zM386.64 130.7h6v.9h-6zM386.64 142.24h6v.9h-6zM387.7 130.03h6v.9h-6zM387.7 141.58h6v.9h-6zM388.76 129.37h6v.9h-6zM388.76 140.93h6v.9h-6zM389.82 128.71h6v.9h-6zM389.82 140.28h6v.9h-6zM390.88 128.06h6v.9h-6zM390.88 139.63h6v.9h-6zM391.94 127.41h6v.9h-6zM391.94 138.99h6v.9h-6zM393 126.77h6v.9h-6zM393 138.36h6v.9h-6zM394.06 126.14h6v.9h-6zM394.06 137.73h6v.9h-6zM395.12 125.51h6v.9h-6zM395.12 137.1h6v.9h-6zM396.18 124.88h6v.9h-6zM396.18 136.48h6v.9h-6zM397.24 124.27h6v.9h-6zM397.24 135.87h6v.9h-6zM398.3 123.65h6v.9h-6zM398.3 135.25h6v.9h-6zM399.36 123.04h6v.9h-6zM399.36 134.64h6v.9h-6zM400.42 122.44h6v.9h-6zM400.42 134.03h6v.9h-6zM401.48 121.84h6v.9h-6zM401.48 133.43h6v.9h-6zM402.54 121.24h6v.9h-6zM402.54 132.83h6v.9h-6zM403.6 120.64h6v.9h-6zM403.6 132.23h6v.9h-6zM404.66 120.05h6v.9h-6zM404.66 131.63h6v.9h-6zM405.72 119.46h6v.9h-6zM405.72 131.03h6v.9h-6zM406.78 118.87h6v.9h-6zM406.78 130.43h6v.9h-6zM407.84 118.28h6v.9h-6zM407.84 129.84h6v.9h-6zM408.9 117.7h6v.9h-6zM408.9 129.25h6v.9h-6zM409.96 117.11h6v.9h-6zM409.96 128.65h6v.9h-6zM411.02 116.53h6v.9h-6zM411.02 128.06h6v.9h-6zM412.08 115.95h6v.9h-6zM412.08 127.47h6v.9h-6zM413.14 115.37h6v.9h-6zM413.14 126.88h6v.9h-6zM414.2 114.8h6v.9h-6zM414.2 126.3h6v.9h-6zM415.26 114.22h6v.9h-6zM415.26 125.71h6v.9h-6zM416.32 113.66h6v.9h-6zM416.32 125.13h6v.9h-6zM417.38 113.09h6v.9h-6zM417.38 124.55h6v.9h-6zM418.44 112.53h6v.9h-6zM418.44 123.98h6v.9h-6zM419.5 111.97h6v.9h-6zM419.5 123.41h6v.9h-6zM420.56 111.42h6v.9h-6zM420.56 122.84h6v.9h-6zM421.62 110.87h6v.9h-6zM421.62 122.28h6v.9h-6zM422.68 110.32h6v.9h-6zM422.68 121.72h6v.9h-6zM423.74 109.78h6v.9h-6zM423.74 121.16h6v.9h-6zM424.8 109.25h6v.9h-6zM424.8 120.62h6v.9h-6zM425.86 108.72h6v.9h-6zM425.86 120.07h6v.9h-6zM426.92 108.2h6v.9h-6zM426.92 119.54h6v.9h-6zM427.98 107.69h6v.9h-6zM427.98 119h6v.9h-6zM429.04 107.18h6v.9h-6zM429.04 118.48h6v.9h-6zM430.1 106.67h6v.9h-6zM430.1 117.96h6v.9h-6zM431.16 106.18h6v.9h-6zM431.16 117.44h6v.9h-6zM432.22 105.69h6v.9h-6zM432.22 116.94h6v.9h-6zM433.28 105.2h6v.9h-6zM433.28 116.44h6v.9h-6zM434.34 104.73h6v.9h-6zM434.34 115.94h6v.9h-6zM435.4 104.26h6v.9h-6zM435.4 115.45h6v.9h-6zM436.46 103.79h6v.9h-6zM436.46 114.97h6v.9h-6zM437.52 103.34h6v.9h-6zM437.52 114.5h6v.9h-6zM438.58 102.89h6v.9h-6zM438.58 114.03h6v.9h-6zM439.64 102.44h6v.9h-6zM439.64 113.57h6v.9h-6zM440.7 102.01h6v.9h-6zM440.7 113.12h6v.9h-6zM441.76 101.58h6v.9h-6zM441.76 112.67h6v.9h-6zM442.82 101.16h6v.9h-6zM442.82 112.23h6v.9h-6zM443.88 100.75h6v.9h-6zM443.88 111.8h6v.9h-6zM444.94 100.34h6v.9h-6zM444.94 111.38h6v.9h-6zM446 99.94h6v.9h-6zM446 110.96h6v.9h-6zM447.06 99.55h6v.9h-6zM447.06 110.55h6v.9h-6zM448.12 99.17h6v.9h-6zM448.12 110.15h6v.9h-6zM449.18 98.8h6v.9h-6zM449.18 109.76h6v.9h-6zM450.24 98.43h6v.9h-6zM450.24 109.37h6v.9h-6zM451.3 98.07h6v.9h-6zM451.3 108.98h6v.9h-6zM452.36 97.72h6v.9h-6zM452.36 108.61h6v.9h-6zM453.42 97.38h6v.9h-6zM453.42 108.23h6v.9h-6zM454.48 97.04h6v.9h-6zM454.48 107.87h6v.9h-6zM455.54 96.72h6v.9h-6zM455.54 107.51h6v.9h-6zM456.6 96.4h6v.9h-6zM456.6 107.16h6v.9h-6zM457.66 96.08h6v.9h-6zM457.66 106.81h6v.9h-6zM458.72 95.78h6v.9h-6zM458.72 106.47h6v.9h-6zM459.78 95.48h6v.9h-6zM459.78 106.13h6v.9h-6zM460.84 95.18h6v.9h-6zM460.84 105.8h6v.9h-6zM461.9 94.9h6v.9h-6zM461.9 105.47h6v.9h-6zM462.96 94.62h6v.9h-6zM462.96 105.16h6v.9h-6zM464.02 94.34h6v.9h-6zM464.02 104.84h6v.9h-6zM465.08 94.07h6v.9h-6zM465.08 104.53h6v.9h-6zM466.14 93.81h6v.9h-6zM466.14 104.23h6v.9h-6zM467.2 93.55h6v.9h-6zM467.2 103.93h6v.9h-6zM468.26 93.3h6v.9h-6zM468.26 103.64h6v.9h-6zM469.32 93.05h6v.9h-6zM469.32 103.35h6v.9h-6zM470.38 92.8h6v.9h-6zM470.38 103.06h6v.9h-6zM471.44 92.57h6v.9h-6zM471.44 102.78h6v.9h-6zM472.5 92.33h6v.9h-6zM472.5 102.51h6v.9h-6zM473.56 92.1h6v.9h-6zM473.56 102.24h6v.9h-6zM474.62 91.87h6v.9h-6zM474.62 101.97h6v.9h-6zM475.68 91.65h6v.9h-6zM475.68 101.71h6v.9h-6zM476.74 91.43h6v.9h-6zM476.74 101.45h6v.9h-6zM477.8 91.21h6v.9h-6zM477.8 101.2h6v.9h-6zM478.86 91h6v.9h-6zM478.86 100.95h6v.9h-6zM479.92 90.79h6v.9h-6zM479.92 100.71h6v.9h-6zM480.98 90.59h6v.9h-6zM480.98 100.47h6v.9h-6zM482.04 90.39h6v.9h-6zM482.04 100.24h6v.9h-6zM483.1 90.19h6v.9h-6zM483.1 100.01h6v.9h-6zM484.16 90h6v.9h-6zM484.16 99.79h6v.9h-6zM485.22 89.81h6v.9h-6zM485.22 99.57h6v.9h-6zM486.28 89.63h6v.9h-6zM486.28 99.36h6v.9h-6zM487.34 89.45h6v.9h-6zM487.34 99.16h6v.9h-6zM488.4 89.27h6v.9h-6zM488.4 98.96h6v.9h-6zM489.46 89.1h6v.9h-6zM489.46 98.77h6v.9h-6zM490.52 88.93h6v.9h-6zM490.52 98.58h6v.9h-6zM491.58 88.77h6v.9h-6zM491.58 98.41h6v.9h-6zM492.64 88.61h6v.9h-6zM492.64 98.23h6v.9h-6zM493.7 88.45h6v.9h-6zM493.7 98.07h6v.9h-6zM494.76 88.3h6v.9h-6zM494.76 97.91h6v.9h-6zM495.82 88.15h6v.9h-6zM495.82 97.75h6v.9h-6zM496.88 88.01h6v.9h-6zM496.88 97.61h6v.9h-6zM497.94 87.87h6v.9h-6zM497.94 97.47h6v.9h-6zM499 87.73h6v.9h-6zM499 97.33h6v.9h-6zM500.06 87.59h6v.9h-6zM500.06 97.2h6v.9h-6zM501.12 87.46h6v.9h-6zM501.12 97.07h6v.9h-6zM502.18 87.34h6v.9h-6zM502.18 96.95h6v.9h-6zM503.24 87.21h6v.9h-6zM503.24 96.83h6v.9h-6zM504.3 87.09h6v.9h-6zM504.3 96.72h6v.9h-6zM505.36 86.97h6v.9h-6zM505.36 96.61h6v.9h-6zM506.42 86.86h6v.9h-6zM506.42 96.5h6v.9h-6zM507.48 86.74h6v.9h-6zM507.48 96.39h6v.9h-6zM508.54 86.63h6v.9h-6zM508.54 96.29h6v.9h-6zM509.6 86.52h6v.9h-6zM509.6 96.19h6v.9h-6zM510.66 86.42h6v.9h-6zM510.66 96.1h6v.9h-6zM511.72 86.31h6v.9h-6zM511.72 96.01h6v.9h-6zM512.78 86.21h6v.9h-6zM512.78 95.91h6v.9h-6zM513.84 86.11h6v.9h-6zM513.84 95.83h6v.9h-6zM514.9 86.01h6v.9h-6zM514.9 95.74h6v.9h-6zM515.96 85.91h6v.9h-6zM515.96 95.65h6v.9h-6zM517.02 85.81h6v.9h-6zM517.02 95.57h6v.9h-6zM518.08 85.72h6v.9h-6zM518.08 95.49h6v.9h-6zM519.14 85.62h6v.9h-6zM519.14 95.41h6v.9h-6zM520.2 85.53h6v.9h-6zM520.2 95.33h6v.9h-6zM521.26 85.43h6v.9h-6zM521.26 95.25h6v.9h-6zM522.32 85.34h6v.9h-6zM522.32 95.17h6v.9h-6zM523.38 85.25h6v.9h-6zM523.38 95.1h6v.9h-6zM524.44 85.16h6v.9h-6zM524.44 95.02h6v.9h-6zM525.5 85.07h6v.9h-6zM525.5 94.95h6v.9h-6zM526.56 84.99h6v.9h-6zM526.56 94.87h6v.9h-6zM527.62 84.9h6v.9h-6zM527.62 94.8h6v.9h-6zM528.68 84.81h6v.9h-6zM528.68 94.73h6v.9h-6zM529.74 84.73h6v.9h-6zM529.74 94.65h6v.9h-6zM530.8 84.64h6v.9h-6zM530.8 94.58h6v.9h-6zM531.86 84.55h6v.9h-6zM531.86 94.51h6v.9h-6zM532.92 84.47h6v.9h-6zM532.92 94.43h6v.9h-6zM533.98 84.39h6v.9h-6zM533.98 94.36h6v.9h-6zM535.04 84.3h6v.9h-6zM535.04 94.28h6v.9h-6zM536.1 84.22h6v.9h-6zM536.1 94.21h6v.9h-6zM537.16 84.14h6v.9h-6zM537.16 94.14h6v.9h-6zM538.22 84.05h6v.9h-6zM538.22 94.06h6v.9h-6zM539.28 83.97h6v.9h-6zM539.28 93.99h6v.9h-6zM540.34 83.89h6v.9h-6zM540.34 93.91h6v.9h-6zM541.4 83.81h6v.9h-6zM541.4 93.84h6v.9h-6zM542.46 83.72h6v.9h-6zM542.46 93.76h6v.9h-6zM543.52 83.64h6v.9h-6zM543.52 93.69h6v.9h-6zM544.58 83.56h6v.9h-6zM544.58 93.62h6v.9h-6zM545.64 83.48h6v.9h-6zM545.64 93.54h6v.9h-6zM546.7 83.4h6v.9h-6zM546.7 93.47h6v.9h-6zM547.76 83.32h6v.9h-6zM547.76 93.4h6v.9h-6zM548.82 83.24h6v.9h-6zM548.82 93.32h6v.9h-6zM549.88 83.16h6v.9h-6zM549.88 93.25h6v.9h-6zM550.94 83.08h6v.9h-6zM550.94 93.18h6v.9h-6zM552 83h6v.9h-6zM552 93.11h6v.9h-6zM553.06 82.93h6v.9h-6zM553.06 93.03h6v.9h-6zM554.12 82.85h6v.9h-6zM554.12 92.96h6v.9h-6zM555.18 82.77h6v.9h-6zM555.18 92.89h6v.9h-6zM556.24 82.7h6v.9h-6zM556.24 92.83h6v.9h-6zM557.3 82.62h6v.9h-6zM557.3 92.76h6v.9h-6zM558.36 82.55h6v.9h-6zM558.36 92.69h6v.9h-6zM559.42 82.48h6v.9h-6zM559.42 92.62h6v.9h-6zM560.48 82.41h6v.9h-6zM560.48 92.56h6v.9h-6zM561.54 82.34h6v.9h-6zM561.54 92.5h6v.9h-6zM562.6 82.27h6v.9h-6zM562.6 92.43h6v.9h-6zM563.66 82.2h6v.9h-6zM563.66 92.37h6v.9h-6zM564.72 82.14h6v.9h-6zM564.72 92.31h6v.9h-6zM565.78 82.07h6v.9h-6zM565.78 92.25h6v.9h-6zM566.84 82.01h6v.9h-6zM566.84 92.19h6v.9h-6zM567.9 81.94h6v.9h-6zM567.9 92.14h6v.9h-6zM568.96 81.88h6v.9h-6zM568.96 92.08h6v.9h-6zM570.02 81.82h6v.9h-6zM570.02 92.03h6v.9h-6zM571.08 81.77h6v.9h-6zM571.08 91.98h6v.9h-6zM572.14 81.71h6v.9h-6zM572.14 91.93h6v.9h-6zM573.2 81.65h6v.9h-6zM573.2 91.88h6v.9h-6zM574.26 81.6h6v.9h-6zM574.26 91.83h6v.9h-6zM575.32 81.55h6v.9h-6zM575.32 91.78h6v.9h-6zM576.38 81.49h6v.9h-6zM576.38 91.74h6v.9h-6zM577.44 81.44h6v.9h-6zM577.44 91.69h6v.9h-6zM578.5 81.4h6v.9h-6zM578.5 91.65h6v.9h-6zM579.56 81.35h6v.9h-6zM579.56 91.61h6v.9h-6zM580.62 81.3h6v.9h-6zM580.62 91.57h6v.9h-6zM581.68 81.26h6v.9h-6zM581.68 91.53h6v.9h-6zM582.74 81.21h6v.9h-6zM582.74 91.49h6v.9h-6zM583.8 81.17h6v.9h-6zM583.8 91.46h6v.9h-6zM584.86 81.12h6v.9h-6zM584.86 91.42h6v.9h-6zM585.92 81.08h6v.9h-6zM585.92 91.39h6v.9h-6zM586.98 81.04h6v.9h-6zM586.98 91.36h6v.9h-6zM588.04 81h6v.9h-6zM588.04 91.32h6v.9h-6zM589.1 80.96h6v.9h-6zM589.1 91.29h6v.9h-6zM590.16 80.92h6v.9h-6zM590.16 91.26h6v.9h-6zM591.22 80.89h6v.9h-6zM591.22 91.23h6v.9h-6zM592.28 80.85h6v.9h-6zM592.28 91.21h6v.9h-6zM593.34 80.81h6v.9h-6zM593.34 91.18h6v.9h-6zM594.4 80.78h6v.9h-6zM594.4 91.16h6v.9h-6zM595.46 80.75h6v.9h-6zM595.46 91.13h6v.9h-6zM596.52 80.71h6v.9h-6zM596.52 91.11h6v.9h-6zM597.58 80.68h6v.9h-6zM597.58 91.08h6v.9h-6zM598.64 80.65h6v.9h-6zM598.64 91.06h6v.9h-6zM599.7 80.61h6v.9h-6zM599.7 91.04h6v.9h-6zM600.76 80.58h6v.9h-6zM600.76 91.02h6v.9h-6zM601.82 80.55h6v.9h-6zM601.82 91h6v.9h-6zM602.88 80.52h6v.9h-6zM602.88 90.99h6v.9h-6zM603.94 80.49h6v.9h-6zM603.94 90.97h6v.9h-6zM605 80.46h6v.9h-6zM605 90.95h6v.9h-6zM606.06 80.43h6v.9h-6zM606.06 90.94h6v.9h-6zM607.12 80.4h6v.9h-6zM607.12 90.92h6v.9h-6zM608.18 80.37h6v.9h-6zM608.18 90.91h6v.9h-6zM609.24 80.34h6v.9h-6zM609.24 90.89h6v.9h-6zM610.3 80.32h6v.9h-6zM610.3 90.88h6v.9h-6zM611.36 80.29h6v.9h-6zM611.36 90.87h6v.9h-6zM612.42 80.26h6v.9h-6zM612.42 90.86h6v.9h-6zM613.48 80.23h6v.9h-6zM613.48 90.84h6v.9h-6zM614.54 80.2h6v.9h-6zM614.54 90.83h6v.9h-6zM615.6 80.18h6v.9h-6zM615.6 90.82h6v.9h-6zM616.66 80.15h6v.9h-6zM616.66 90.81h6v.9h-6zM617.72 80.12h6v.9h-6zM617.72 90.8h6v.9h-6zM618.78 80.09h6v.9h-6zM618.78 90.79h6v.9h-6zM619.84 80.07h6v.9h-6zM619.84 90.79h6v.9h-6zM620.9 80.04h6v.9h-6zM620.9 90.78h6v.9h-6zM621.96 80.01h6v.9h-6zM621.96 90.77h6v.9h-6zM623.02 79.99h6v.9h-6zM623.02 90.76h6v.9h-6zM624.08 79.96h6v.9h-6zM624.08 90.76h6v.9h-6zM625.14 79.94h6v.9h-6zM625.14 90.75h6v.9h-6zM626.2 79.91h6v.9h-6zM626.2 90.75h6v.9h-6zM627.26 79.89h6v.9h-6zM627.26 90.74h6v.9h-6zM628.32 79.86h6v.9h-6zM628.32 90.74h6v.9h-6zM629.38 79.84h6v.9h-6zM629.38 90.74h6v.9h-6zM630.44 79.82h6v.9h-6zM630.44 90.74h6v.9h-6zM631.5 79.79h6v.9h-6zM631.5 90.73h6v.9h-6zM632.56 79.77h6v.9h-6zM632.56 90.73h6v.9h-6zM633.62 79.75h6v.9h-6zM633.62 90.73h6v.9h-6zM634.68 79.73h6v.9h-6zM634.68 90.73h6v.9h-6zM635.74 79.71h6v.9h-6zM635.74 90.73h6v.9h-6zM636.8 79.69h6v.9h-6zM636.8 90.73h6v.9h-6zM637.86 79.67h6v.9h-6zM637.86 90.74h6v.9h-6zM638.92 79.65h6v.9h-6zM638.92 90.74h6v.9h-6zM639.98 79.63h6v.9h-6zM639.98 90.74h6v.9h-6zM641.04 79.61h6v.9h-6zM641.04 90.74h6v.9h-6zM642.1 79.59h6v.9h-6zM642.1 90.75h6v.9h-6zM643.16 79.57h6v.9h-6zM643.16 90.75h6v.9h-6zM643.8 79.55h6v.9h-6zM643.8 90.75h6v.9h-6z" fill="#3c3cd0" fill-opacity="0.5"/>
<path d="M83.3 424.8 L84.4 424.5 L85.4 424.1 L86.5 423.8 L87.5 423.4 L88.6 423.1 L89.7 422.7 L90.7 422.3 L91.8 421.9 L92.8 421.5 L93.9 421.1 L95 420.6 L96 420.2 L97.1 419.7 L98.1 419.1 L99.2 418.6 L100.3 418 L101.3 417.3 L102.4 416.6 L103.4 415.8 L104.5 415 L105.6 414.2 L106.6 413.3 L107.7 412.4 L108.7 411.6 L109.8 410.6 L110.9 409.7 L111.9 408.8 L113 407.8 L114 406.8 L115.1 405.8 L116.2 404.7 L117.2 403.7 L118.3 402.6 L119.3 401.5 L120.4 400.4 L121.5 399.3 L122.5 398.1 L123.6 397 L124.6 395.8 L125.7 394.7 L126.8 393.5 L127.8 392.3 L128.9 391.1 L129.9 389.9 L131 388.7 L132.1 387.4 L133.1 386.2 L134.2 385 L135.2 383.8 L136.3 382.5 L137.4 381.3 L138.4 380.1 L139.5 378.9 L140.5 377.7 L141.6 376.5 L142.7 375.4 L143.7 374.2 L144.8 373 L145.8 371.9 L146.9 370.7 L148 369.6 L149 368.4 L150.1 367.3 L151.1 366.2 L152.2 365 L153.3 363.9 L154.3 362.8 L155.4 361.6 L156.4 360.5 L157.5 359.3 L158.6 358.2 L159.6 357 L160.7 355.8 L161.7 354.6 L162.8 353.4 L163.9 352.2 L164.9 351 L166 349.8 L167 348.6 L168.1 347.4 L169.2 346.2 L170.2 345 L171.3 343.8 L172.3 342.6 L173.4 341.4 L174.5 340.2 L175.5 339.1 L176.6 337.9 L177.6 336.7 L178.7 335.6 L179.8 334.4 L180.8 333.3 L181.9 332.1 L182.9 331 L184 329.8 L185.1 328.7 L186.1 327.6 L187.2 326.5 L188.2 325.3 L189.3 324.2 L190.4 323.1 L191.4 322 L192.5 320.9 L193.5 319.7 L194.6 318.6 L195.7 317.5 L196.7 316.4 L197.8 315.3 L198.8 314.2 L199.9 313.1 L201 312 L202 310.8 L203.1 309.7 L204.1 308.6 L205.2 307.5 L206.3 306.4 L207.3 305.3 L208.4 304.2 L209.4 303.1 L210.5 302 L211.6 300.8 L212.6 299.7 L213.7 298.6 L214.7 297.5 L215.8 296.4 L216.9 295.3 L217.9 294.2 L219 293 L220 291.9 L221.1 290.8 L222.2 289.7 L223.2 288.6 L224.3 287.4 L225.3 286.3 L226.4 285.2 L227.5 284.1 L228.5 283 L229.6 281.8 L230.6 280.7 L231.7 279.6 L232.8 278.5 L233.8 277.4 L234.9 276.2 L235.9 275.1 L237 274 L238.1 272.9 L239.1 271.7 L240.2 270.6 L241.2 269.5 L242.3 268.4 L243.4 267.3 L244.4 266.1 L245.5 265 L246.5 263.9 L247.6 262.8 L248.7 261.6 L249.7 260.5 L250.8 259.4 L251.8 258.3 L252.9 257.2 L254 256.1 L255 255 L256.1 253.8 L257.1 252.7 L258.2 251.6 L259.3 250.5 L260.3 249.4 L261.4 248.4 L262.4 247.3 L263.5 246.2 L264.6 245.1 L265.6 244 L266.7 243 L267.7 241.9 L268.8 240.9 L269.9 239.8 L270.9 238.8 L272 237.7 L273 236.7 L274.1 235.6 L275.2 234.6 L276.2 233.6 L277.3 232.5 L278.3 231.5 L279.4 230.5 L280.5 229.5 L281.5 228.5 L282.6 227.5 L283.6 226.5 L284.7 225.5 L285.8 224.5 L286.8 223.5 L287.9 222.5 L288.9 221.5 L290 220.5 L291.1 219.5 L292.1 218.5 L293.2 217.5 L294.2 216.5 L295.3 215.5 L296.4 214.6 L297.4 213.6 L298.5 212.6 L299.5 211.6 L300.6 210.7 L301.7 209.7 L302.7 208.7 L303.8 207.7 L304.8 206.8 L305.9 205.8 L307 204.8 L308 203.9 L309.1 202.9 L310.1 201.9 L311.2 201 L312.3 200 L313.3 199 L314.4 198.1 L315.4 197.1 L316.5 196.1 L317.6 195.2 L318.6 194.2 L319.7 193.3 L320.7 192.3 L321.8 191.3 L322.9 190.4 L323.9 189.4 L325 188.4 L326 187.4 L327.1 186.5 L328.2 185.5 L329.2 184.5 L330.3 183.6 L331.3 182.6 L332.4 181.6 L333.5 180.7 L334.5 179.7 L335.6 178.8 L336.6 177.8 L337.7 176.9 L338.8 175.9 L339.8 175 L340.9 174 L341.9 173.1 L343 172.2 L344.1 171.2 L345.1 170.3 L346.2 169.4 L347.2 168.5 L348.3 167.6 L349.4 166.7 L350.4 165.8 L351.5 164.9 L352.5 164.1 L353.6 163.2 L354.7 162.3 L355.7 161.5 L356.8 160.6 L357.8 159.8 L358.9 158.9 L360 158.1 L361 157.2 L362.1 156.4 L363.1 155.6 L364.2 154.8 L365.3 154 L366.3 153.2 L367.4 152.4 L368.4 151.6 L369.5 150.8 L370.6 150 L371.6 149.2 L372.7 148.4 L373.7 147.7 L374.8 146.9 L375.9 146.2 L376.9 145.4 L378 144.7 L379 143.9 L380.1 143.2 L381.2 142.5 L382.2 141.8 L383.3 141 L384.3 140.3 L385.4 139.6 L386.5 139 L387.5 138.3 L388.6 137.6 L389.6 136.9 L390.7 136.3 L391.8 135.6 L392.8 134.9 L393.9 134.3 L394.9 133.7 L396 133 L397.1 132.4 L398.1 131.8 L399.2 131.1 L400.2 130.5 L401.3 129.9 L402.4 129.3 L403.4 128.7 L404.5 128.1 L405.5 127.5 L406.6 126.9 L407.7 126.3 L408.7 125.7 L409.8 125.1 L410.8 124.5 L411.9 123.9 L413 123.3 L414 122.7 L415.1 122.2 L416.1 121.6 L417.2 121 L418.3 120.4 L419.3 119.8 L420.4 119.3 L421.4 118.7 L422.5 118.1 L423.6 117.6 L424.6 117 L425.7 116.5 L426.7 115.9 L427.8 115.4 L428.9 114.8 L429.9 114.3 L431 113.8 L432 113.3 L433.1 112.8 L434.2 112.3 L435.2 111.8 L436.3 111.3 L437.3 110.8 L438.4 110.3 L439.5 109.8 L440.5 109.4 L441.6 108.9 L442.6 108.5 L443.7 108 L444.8 107.6 L445.8 107.1 L446.9 106.7 L447.9 106.3 L449 105.9 L450.1 105.5 L451.1 105.1 L452.2 104.7 L453.2 104.3 L454.3 104 L455.4 103.6 L456.4 103.3 L457.5 102.9 L458.5 102.6 L459.6 102.2 L460.7 101.9 L461.7 101.6 L462.8 101.3 L463.8 100.9 L464.9 100.6 L466 100.3 L467 100 L468.1 99.8 L469.1 99.5 L470.2 99.2 L471.3 98.9 L472.3 98.6 L473.4 98.4 L474.4 98.1 L475.5 97.9 L476.6 97.6 L477.6 97.4 L478.7 97.1 L479.7 96.9 L480.8 96.7 L481.9 96.4 L482.9 96.2 L484 96 L485 95.8 L486.1 95.6 L487.2 95.3 L488.2 95.1 L489.3 94.9 L490.3 94.8 L491.4 94.6 L492.5 94.4 L493.5 94.2 L494.6 94 L495.6 93.9 L496.7 93.7 L497.8 93.6 L498.8 93.4 L499.9 93.3 L500.9 93.1 L502 93 L503.1 92.8 L504.1 92.7 L505.2 92.6 L506.2 92.5 L507.3 92.4 L508.4 92.2 L509.4 92.1 L510.5 92 L511.5 91.9 L512.6 91.8 L513.7 91.7 L514.7 91.6 L515.8 91.5 L516.8 91.4 L517.9 91.3 L519 91.2 L520 91.1 L521.1 91.1 L522.1 91 L523.2 90.9 L524.3 90.8 L525.3 90.7 L526.4 90.6 L527.4 90.5 L528.5 90.5 L529.6 90.4 L530.6 90.3 L531.7 90.2 L532.7 90.1 L533.8 90.1 L534.9 90 L535.9 89.9 L537 89.8 L538 89.7 L539.1 89.7 L540.2 89.6 L541.2 89.5 L542.3 89.4 L543.3 89.4 L544.4 89.3 L545.5 89.2 L546.5 89.1 L547.6 89 L548.6 89 L549.7 88.9 L550.8 88.8 L551.8 88.7 L552.9 88.7 L553.9 88.6 L555 88.5 L556.1 88.4 L557.1 88.4 L558.2 88.3 L559.2 88.2 L560.3 88.1 L561.4 88.1 L562.4 88 L563.5 87.9 L564.5 87.9 L565.6 87.8 L566.7 87.7 L567.7 87.7 L568.8 87.6 L569.8 87.6 L570.9 87.5 L572 87.4 L573 87.4 L574.1 87.3 L575.1 87.3 L576.2 87.2 L577.3 87.2 L578.3 87.1 L579.4 87.1 L580.4 87 L581.5 87 L582.6 86.9 L583.6 86.9 L584.7 86.8 L585.7 86.8 L586.8 86.8 L587.9 86.7 L588.9 86.7 L590 86.6 L591 86.6 L592.1 86.6 L593.2 86.5 L594.2 86.5 L595.3 86.5 L596.3 86.4 L597.4 86.4 L598.5 86.4 L599.5 86.4 L600.6 86.3 L601.6 86.3 L602.7 86.3 L603.8 86.3 L604.8 86.2 L605.9 86.2 L606.9 86.2 L608 86.2 L609.1 86.1 L610.1 86.1 L611.2 86.1 L612.2 86.1 L613.3 86 L614.4 86 L615.4 86 L616.5 86 L617.5 86 L618.6 85.9 L619.7 85.9 L620.7 85.9 L621.8 85.9 L622.8 85.9 L623.9 85.9 L625 85.8 L626 85.8 L627.1 85.8 L628.1 85.8 L629.2 85.8 L630.3 85.8 L631.3 85.8 L632.4 85.7 L633.4 85.7 L634.5 85.7 L635.6 85.7 L636.6 85.7 L637.7 85.7 L638.7 85.7 L639.8 85.7 L640.9 85.7 L641.9 85.6 L643 85.6 L644 85.6 L645.1 85.6 L646.2 85.6 L646.8 85.6" fill="none" stroke="#0000bc" stroke-width="2.5" stroke-linejoin="round" stroke-linecap="butt"/></g>
<g id="s-green"><path d="M82.71 424.5h1.18v.6h-1.18zM83.77 424.26h1.18v.74h-1.18zM84.83 423.99h1.18v.92h-1.18zM85.89 423.7h1.18v1.1h-1.18zM86.95 423.39h1.18v1.29h-1.18zM88.01 423.06h1.18v1.49h-1.18zM89.07 422.72h1.18v1.69h-1.18zM90.13 422.36h1.18v1.9h-1.18zM91.19 421.99h1.18v2.12h-1.18zM92.25 421.61h1.18v2.34h-1.18zM93.31 421.19h1.18v2.57h-1.18zM94.37 420.75h1.18v2.81h-1.18zM95.43 420.28h1.18v3.05h-1.18zM96.49 419.79h1.18v3.3h-1.18zM97.55 419.28h1.18v3.55h-1.18zM98.61 418.74h1.18v3.8h-1.18zM99.67 418.19h1.18v4.06h-1.18zM100.73 417.61h1.18v4.34h-1.18zM101.79 417h1.18v4.63h-1.18zM102.85 416.35h1.18v4.94h-1.18zM103.91 415.67h1.18v5.26h-1.18zM104.97 414.95h1.18v5.59h-1.18zM106.03 414.2h1.18v5.93h-1.18zM107.09 413.42h1.18v6.28h-1.18zM108.15 412.61h1.18v6.63h-1.18zM109.21 411.76h1.18v6.99h-1.18zM110.27 410.88h1.18v7.36h-1.18zM111.33 409.98h1.18v7.73h-1.18zM112.39 409.05h1.18v8.09h-1.18zM113.45 408.1h1.18v8.46h-1.18zM114.51 407.14h1.18v8.82h-1.18zM115.57 406.15h1.18v9.18h-1.18zM116.63 405.15h1.18v9.53h-1.18zM117.69 404.14h1.18v9.87h-1.18zM118.75 403.11h1.18v10.21h-1.18zM119.81 402.07h1.18v10.53h-1.18zM120.87 401.01h1.18v10.85h-1.18zM121.93 399.95h1.18v11.15h-1.18zM122.99 398.87h1.18v11.46h-1.18zM124.05 397.79h1.18v11.78h-1.18zM125.11 396.69h1.18v12.1h-1.18zM126.17 395.58h1.18v12.43h-1.18zM127.23 394.46h1.18v12.77h-1.18zM128.29 393.33h1.18v13.11h-1.18zM129.35 392.19h1.18v13.45h-1.18zM130.41 391.04h1.18v13.79h-1.18zM131.47 389.89h1.18v14.13h-1.18zM132.53 388.74h1.18v14.47h-1.18zM133.59 387.58h1.18v14.79h-1.18zM134.65 386.42h1.18v15.12h-1.18zM135.71 385.26h1.18v15.43h-1.18zM136.77 384.1h1.18v15.74h-1.18zM137.83 382.94h1.18v16.03h-1.18zM138.89 381.77h1.18v16.31h-1.18zM139.95 380.6h1.18v16.57h-1.18zM141.01 379.43h1.18v16.82h-1.18zM142.07 378.26h1.18v17.05h-1.18zM143.13 377.08h1.18v17.26h-1.18zM144.19 375.91h1.18v17.44h-1.18zM145.25 374.74h1.18v17.61h-1.18zM146.31 373.57h1.18v17.75h-1.18zM147.37 372.41h1.18v17.86h-1.18zM148.43 371.25h1.18v17.95h-1.18zM149.49 370.1h1.18v18h-1.18zM150.55 368.94h1.18v18.05h-1.18zM151.61 367.79h1.18v18.09h-1.18zM152.67 366.62h1.18v18.13h-1.18zM153.73 365.45h1.18v18.17h-1.18zM154.79 364.28h1.18v18.2h-1.18zM155.85 363.1h1.18v18.24h-1.18zM156.91 361.91h1.18v18.28h-1.18zM157.97 360.71h1.18v18.31h-1.18zM159.03 359.51h1.18v18.35h-1.18zM160.09 358.3h1.18v18.38h-1.18zM161.15 357.08h1.18v18.42h-1.18zM162.21 355.86h1.18v18.45h-1.18zM163.27 354.62h1.18v18.48h-1.18zM164.33 353.38h1.18v18.51h-1.18zM165.39 352.14h1.18v18.54h-1.18zM166.45 350.88h1.18v18.57h-1.18zM167.51 349.63h1.18v18.59h-1.18zM168.57 348.37h1.18v18.62h-1.18zM169.63 347.11h1.18v18.65h-1.18zM170.69 345.85h1.18v18.67h-1.18zM171.75 344.59h1.18v18.7h-1.18zM172.81 343.32h1.18v18.72h-1.18zM173.87 342.07h1.18v18.74h-1.18zM174.93 340.81h1.18v18.76h-1.18zM175.99 339.56h1.18v18.78h-1.18zM177.05 338.31h1.18v18.8h-1.18zM178.11 337.06h1.18v18.82h-1.18zM179.17 335.82h1.18v18.84h-1.18zM180.23 334.58h1.18v18.85h-1.18zM181.29 333.35h1.18v18.87h-1.18zM182.35 332.12h1.18v18.88h-1.18zM183.41 330.9h1.18v18.9h-1.18zM184.47 329.68h1.18v18.91h-1.18zM185.53 328.47h1.18v18.92h-1.18zM186.59 327.26h1.18v18.93h-1.18zM187.65 326.06h1.18v18.95h-1.18zM188.71 324.86h1.18v18.95h-1.18zM189.77 323.67h1.18v18.96h-1.18zM190.83 322.48h1.18v18.97h-1.18zM191.89 321.3h1.18v18.98h-1.18zM192.95 320.12h1.18v18.98h-1.18zM194.01 318.95h1.18v18.99h-1.18zM195.07 317.79h1.18v18.99h-1.18zM196.13 316.63h1.18v19h-1.18zM197.19 315.47h1.18v19h-1.18zM198.25 314.32h1.18v19h-1.18zM199.31 313.18h1.18v19h-1.18zM200.37 312.04h1.18v19h-1.18zM201.43 310.9h1.18v19h-1.18zM202.49 309.76h1.18v19h-1.18zM203.55 308.63h1.18v19h-1.18zM204.61 307.49h1.18v19h-1.18zM205.67 306.36h1.18v19h-1.18zM206.73 305.23h1.18v19h-1.18zM207.79 304.09h1.18v19h-1.18zM208.85 302.95h1.18v19h-1.18zM209.91 301.81h1.18v19h-1.18zM210.97 300.67h1.18v19h-1.18zM212.03 299.52h1.18v19h-1.18zM213.09 298.36h1.18v19h-1.18zM214.15 297.2h1.18v19h-1.18zM215.21 296.03h1.18v19h-1.18zM216.27 294.85h1.18v19h-1.18zM217.33 293.66h1.18v19h-1.18zM218.39 292.47h1.18v19h-1.18zM219.45 291.26h1.18v19h-1.18zM220.51 290.05h1.18v19h-1.18zM221.57 288.83h1.18v19h-1.18zM222.63 287.6h1.18v19h-1.18zM223.69 286.35h1.18v19h-1.18zM224.75 285.1h1.18v19h-1.18zM225.81 283.84h1.18v19h-1.18zM226.87 282.58h1.18v19h-1.18zM227.93 281.3h1.18v19h-1.18zM228.99 280.02h1.18v19h-1.18zM230.05 278.73h1.18v19h-1.18zM231.11 277.44h1.18v19h-1.18zM232.17 276.14h1.18v19h-1.18zM233.23 274.84h1.18v19h-1.18zM234.29 273.53h1.18v19h-1.18zM235.35 272.23h1.18v19h-1.18zM236.41 270.92h1.18v19h-1.18zM237.47 269.61h1.18v19h-1.18zM238.53 268.3h1.18v19h-1.18zM239.59 266.99h1.18v19h-1.18zM240.65 265.68h1.18v19h-1.18zM241.71 264.38h1.18v19h-1.18zM242.77 263.08h1.18v19h-1.18zM243.83 261.78h1.18v19h-1.18zM244.89 260.48h1.18v19h-1.18zM245.95 259.19h1.18v19h-1.18zM247.01 257.9h1.18v19h-1.18zM248.07 256.61h1.18v19h-1.18zM249.13 255.33h1.18v19h-1.18zM250.19 254.05h1.18v19h-1.18zM251.25 252.77h1.18v19h-1.18zM252.31 251.5h1.18v19h-1.18zM253.37 250.23h1.18v19h-1.18zM254.43 248.96h1.18v19h-1.18zM255.49 247.69h1.18v19h-1.18zM256.55 246.42h1.18v19h-1.18zM257.61 245.15h1.18v19h-1.18zM258.67 243.89h1.18v19h-1.18zM259.73 242.62h1.18v19h-1.18zM260.79 241.36h1.18v19h-1.18zM261.85 240.1h1.18v18.99h-1.18zM262.91 238.83h1.18v18.98h-1.18zM263.97 237.57h1.18v18.97h-1.18zM265.03 236.31h1.18v18.96h-1.18zM266.09 235.05h1.18v18.94h-1.18zM267.15 233.79h1.18v18.92h-1.18zM268.21 232.52h1.18v18.9h-1.18zM269.27 231.26h1.18v18.87h-1.18zM270.33 230h1.18v18.85h-1.18zM271.39 228.73h1.18v18.82h-1.18zM272.45 227.47h1.18v18.79h-1.18zM273.51 226.2h1.18v18.75h-1.18zM274.57 224.94h1.18v18.72h-1.18zM275.63 223.67h1.18v18.68h-1.18zM276.69 222.4h1.18v18.64h-1.18zM277.75 221.13h1.18v18.6h-1.18zM278.81 219.86h1.18v18.56h-1.18zM279.87 218.59h1.18v18.51h-1.18zM280.93 217.32h1.18v18.47h-1.18zM281.99 216.05h1.18v18.42h-1.18zM283.05 214.78h1.18v18.37h-1.18zM284.11 213.51h1.18v18.32h-1.18zM285.17 212.24h1.18v18.27h-1.18zM286.23 210.97h1.18v18.21h-1.18zM287.29 209.7h1.18v18.16h-1.18zM288.35 208.43h1.18v18.11h-1.18zM289.41 207.16h1.18v18.05h-1.18zM290.47 205.89h1.18v17.99h-1.18zM291.53 204.62h1.18v17.94h-1.18zM292.59 203.35h1.18v17.88h-1.18zM293.65 202.08h1.18v17.82h-1.18zM294.71 200.82h1.18v17.76h-1.18zM295.77 199.55h1.18v17.7h-1.18zM296.83 198.29h1.18v17.64h-1.18zM297.89 197.02h1.18v17.59h-1.18zM298.95 195.76h1.18v17.53h-1.18zM300.01 194.5h1.18v17.47h-1.18zM301.07 193.24h1.18v17.41h-1.18zM302.13 191.99h1.18v17.35h-1.18zM303.19 190.73h1.18v17.29h-1.18zM304.25 189.48h1.18v17.23h-1.18zM305.31 188.24h1.18v17.17h-1.18zM306.37 186.99h1.18v17.11h-1.18zM307.43 185.75h1.18v17.05h-1.18zM308.49 184.51h1.18v17h-1.18zM309.55 183.28h1.18v16.94h-1.18zM310.61 182.05h1.18v16.89h-1.18zM311.67 180.82h1.18v16.83h-1.18zM312.73 179.6h1.18v16.78h-1.18zM313.79 178.38h1.18v16.73h-1.18zM314.85 177.17h1.18v16.67h-1.18zM315.91 175.95h1.18v16.62h-1.18zM316.97 174.74h1.18v16.58h-1.18zM318.03 173.54h1.18v16.53h-1.18zM319.09 172.33h1.18v16.48h-1.18zM320.15 171.13h1.18v16.44h-1.18zM321.21 169.93h1.18v16.4h-1.18zM322.27 168.74h1.18v16.35h-1.18zM323.33 167.55h1.18v16.31h-1.18zM324.39 166.36h1.18v16.28h-1.18zM325.45 165.17h1.18v16.24h-1.18zM326.51 163.99h1.18v16.21h-1.18zM327.57 162.81h1.18v16.18h-1.18zM328.63 161.63h1.18v16.15h-1.18zM329.69 160.46h1.18v16.12h-1.18zM330.75 159.29h1.18v16.1h-1.18zM331.81 158.12h1.18v16.08h-1.18zM332.87 156.96h1.18v16.06h-1.18zM333.93 155.8h1.18v16.04h-1.18zM334.99 154.65h1.18v16.03h-1.18zM336.05 153.5h1.18v16.02h-1.18zM337.11 152.35h1.18v16.01h-1.18zM338.17 151.21h1.18v16h-1.18zM339.23 150.07h1.18v16h-1.18zM340.29 148.93h1.18v16h-1.18zM341.35 147.8h1.18v16.01h-1.18zM342.41 146.68h1.18v16.02h-1.18zM343.47 145.55h1.18v16.03h-1.18zM344.53 144.43h1.18v16.04h-1.18zM345.59 143.31h1.18v16.06h-1.18zM346.65 142.2h1.18v16.09h-1.18zM347.71 141.09h1.18v16.11h-1.18zM348.77 139.99h1.18v16.14h-1.18zM349.83 138.88h1.18v16.17h-1.18zM350.89 137.78h1.18v16.2h-1.18zM351.95 136.69h1.18v16.23h-1.18zM353.01 135.6h1.18v16.27h-1.18zM354.07 134.51h1.18v16.3h-1.18zM355.13 133.42h1.18v16.34h-1.18zM356.19 132.35h1.18v16.38h-1.18zM357.25 131.27h1.18v16.42h-1.18zM358.31 130.21h1.18v16.46h-1.18zM359.37 129.15h1.18v16.5h-1.18zM360.43 128.1h1.18v16.54h-1.18zM361.49 127.05h1.18v16.58h-1.18zM362.55 126.02h1.18v16.62h-1.18zM363.61 125h1.18v16.66h-1.18zM364.67 123.99h1.18v16.69h-1.18zM365.73 122.99h1.18v16.73h-1.18zM366.79 122h1.18v16.76h-1.18zM367.85 121.04h1.18v16.8h-1.18zM368.91 120.08h1.18v16.83h-1.18zM369.97 119.15h1.18v16.86h-1.18zM371.03 118.23h1.18v16.89h-1.18zM372.09 117.33h1.18v16.91h-1.18zM373.15 116.46h1.18v16.93h-1.18zM374.21 115.6h1.18v16.95h-1.18zM375.27 114.76h1.18v16.97h-1.18zM376.33 113.95h1.18v16.98h-1.18zM377.39 113.16h1.18v16.99h-1.18zM378.45 112.39h1.18v17h-1.18zM379.51 111.64h1.18v17h-1.18zM380.57 110.91h1.18v17h-1.18zM381.63 110.2h1.18v17h-1.18zM382.69 109.51h1.18v17h-1.18zM383.75 108.83h1.18v17h-1.18zM384.81 108.18h1.18v17h-1.18zM385.87 107.54h1.18v17h-1.18zM386.93 106.91h1.18v17h-1.18zM387.99 106.3h1.18v17h-1.18zM389.05 105.71h1.18v17h-1.18zM390.11 105.13h1.18v17h-1.18zM391.17 104.56h1.18v17h-1.18zM392.23 104h1.18v17h-1.18zM393.29 103.45h1.18v17h-1.18zM394.35 102.92h1.18v17h-1.18zM395.41 102.39h1.18v17h-1.18zM396.47 101.87h1.18v17h-1.18zM397.53 101.36h1.18v17h-1.18zM398.59 100.86h1.18v17h-1.18zM399.65 100.37h1.18v17h-1.18zM400.71 99.88h1.18v17h-1.18zM401.77 99.4h1.18v17h-1.18zM402.83 98.94h1.18v17h-1.18zM403.89 98.47h1.18v17h-1.18zM404.95 98.02h1.18v17h-1.18zM406.01 97.59h1.18v16.97h-1.18zM407.07 97.18h1.18v16.92h-1.18zM408.13 96.78h1.18v16.84h-1.18zM409.19 96.4h1.18v16.75h-1.18zM410.25 96.04h1.18v16.64h-1.18zM411.31 95.7h1.18v16.52h-1.18zM412.37 95.37h1.18v16.39h-1.18zM413.43 95.05h1.18v16.25h-1.18zM414.49 94.74h1.18v16.1h-1.18zM415.55 94.45h1.18v15.96h-1.18zM416.61 94.16h1.18v15.81h-1.18zM417.67 93.89h1.18v15.67h-1.18zM418.73 93.62h1.18v15.53h-1.18zM419.79 93.36h1.18v15.4h-1.18zM420.85 93.11h1.18v15.28h-1.18zM421.91 92.86h1.18v15.17h-1.18zM422.97 92.61h1.18v15.09h-1.18zM424.03 92.37h1.18v15.02h-1.18zM425.09 92.13h1.18v14.97h-1.18zM426.15 91.9h1.18v14.93h-1.18zM427.21 91.68h1.18v14.89h-1.18zM428.27 91.47h1.18v14.85h-1.18zM429.33 91.27h1.18v14.82h-1.18zM430.39 91.07h1.18v14.8h-1.18zM431.45 90.89h1.18v14.77h-1.18zM432.51 90.71h1.18v14.75h-1.18zM433.57 90.54h1.18v14.72h-1.18zM434.63 90.38h1.18v14.7h-1.18zM435.69 90.23h1.18v14.68h-1.18zM436.75 90.09h1.18v14.65h-1.18zM437.81 89.95h1.18v14.63h-1.18zM438.87 89.82h1.18v14.6h-1.18zM439.93 89.7h1.18v14.57h-1.18zM440.99 89.58h1.18v14.54h-1.18zM442.05 89.47h1.18v14.5h-1.18zM443.11 89.36h1.18v14.46h-1.18zM444.17 89.26h1.18v14.41h-1.18zM445.23 89.17h1.18v14.36h-1.18zM446.29 89.08h1.18v14.29h-1.18zM447.35 89.01h1.18v14.2h-1.18zM448.41 88.94h1.18v14.1h-1.18zM449.47 88.88h1.18v13.99h-1.18zM450.53 88.82h1.18v13.87h-1.18zM451.59 88.78h1.18v13.74h-1.18zM452.65 88.73h1.18v13.6h-1.18zM453.71 88.69h1.18v13.45h-1.18zM454.77 88.66h1.18v13.29h-1.18zM455.83 88.62h1.18v13.13h-1.18zM456.89 88.59h1.18v12.96h-1.18zM457.95 88.56h1.18v12.79h-1.18zM459.01 88.53h1.18v12.62h-1.18zM460.07 88.5h1.18v12.45h-1.18zM461.13 88.47h1.18v12.27h-1.18zM462.19 88.44h1.18v12.1h-1.18zM463.25 88.41h1.18v11.92h-1.18zM464.31 88.38h1.18v11.75h-1.18zM465.37 88.35h1.18v11.58h-1.18zM466.43 88.31h1.18v11.42h-1.18zM467.49 88.27h1.18v11.27h-1.18zM468.55 88.23h1.18v11.12h-1.18zM469.61 88.19h1.18v10.97h-1.18zM470.67 88.14h1.18v10.83h-1.18zM471.73 88.09h1.18v10.69h-1.18zM472.79 88.05h1.18v10.54h-1.18zM473.85 88.01h1.18v10.4h-1.18zM474.91 87.96h1.18v10.25h-1.18zM475.97 87.92h1.18v10.1h-1.18zM477.03 87.88h1.18v9.95h-1.18zM478.09 87.84h1.18v9.8h-1.18zM479.15 87.8h1.18v9.65h-1.18zM480.21 87.76h1.18v9.5h-1.18zM481.27 87.72h1.18v9.35h-1.18zM482.33 87.68h1.18v9.21h-1.18zM483.39 87.64h1.18v9.06h-1.18zM484.45 87.61h1.18v8.91h-1.18zM485.51 87.57h1.18v8.77h-1.18zM486.57 87.54h1.18v8.63h-1.18zM487.63 87.5h1.18v8.49h-1.18zM488.69 87.47h1.18v8.35h-1.18zM489.75 87.44h1.18v8.22h-1.18zM490.81 87.41h1.18v8.09h-1.18zM491.87 87.38h1.18v7.96h-1.18zM492.93 87.35h1.18v7.84h-1.18zM493.99 87.32h1.18v7.72h-1.18zM495.05 87.3h1.18v7.61h-1.18zM496.11 87.27h1.18v7.5h-1.18zM497.17 87.25h1.18v7.4h-1.18zM498.23 87.22h1.18v7.3h-1.18zM499.29 87.2h1.18v7.21h-1.18zM500.35 87.17h1.18v7.12h-1.18zM501.41 87.15h1.18v7.04h-1.18zM502.47 87.13h1.18v6.95h-1.18zM503.53 87.11h1.18v6.87h-1.18zM504.59 87.1h1.18v6.78h-1.18zM505.65 87.08h1.18v6.7h-1.18zM506.71 87.07h1.18v6.62h-1.18zM507.77 87.06h1.18v6.54h-1.18zM508.83 87.05h1.18v6.46h-1.18zM509.89 87.04h1.18v6.38h-1.18zM510.95 87.03h1.18v6.3h-1.18zM512.01 87.03h1.18v6.23h-1.18zM513.07 87.02h1.18v6.15h-1.18zM514.13 87.01h1.18v6.08h-1.18zM515.19 87.01h1.18v6.01h-1.18zM516.25 87h1.18v5.94h-1.18zM517.31 87h1.18v5.87h-1.18zM518.37 86.99h1.18v5.8h-1.18zM519.43 86.99h1.18v5.73h-1.18zM520.49 86.98h1.18v5.67h-1.18zM521.55 86.98h1.18v5.61h-1.18zM522.61 86.97h1.18v5.54h-1.18zM523.67 86.97h1.18v5.48h-1.18zM524.73 86.96h1.18v5.43h-1.18zM525.79 86.95h1.18v5.37h-1.18zM526.85 86.95h1.18v5.31h-1.18zM527.91 86.94h1.18v5.26h-1.18zM528.97 86.93h1.18v5.21h-1.18zM530.03 86.92h1.18v5.16h-1.18zM531.09 86.91h1.18v5.11h-1.18zM532.15 86.9h1.18v5.07h-1.18zM533.21 86.89h1.18v5.02h-1.18zM534.27 86.87h1.18v4.98h-1.18zM535.33 86.86h1.18v4.94h-1.18zM536.39 86.84h1.18v4.9h-1.18zM537.45 86.83h1.18v4.86h-1.18zM538.51 86.81h1.18v4.83h-1.18zM539.57 86.79h1.18v4.8h-1.18zM540.63 86.77h1.18v4.76h-1.18zM541.69 86.75h1.18v4.73h-1.18zM542.75 86.73h1.18v4.71h-1.18zM543.81 86.71h1.18v4.68h-1.18zM544.87 86.69h1.18v4.65h-1.18zM545.93 86.67h1.18v4.62h-1.18zM546.99 86.65h1.18v4.6h-1.18zM548.05 86.62h1.18v4.57h-1.18zM549.11 86.6h1.18v4.55h-1.18zM550.17 86.58h1.18v4.53h-1.18zM551.23 86.55h1.18v4.51h-1.18zM552.29 86.53h1.18v4.48h-1.18zM553.35 86.51h1.18v4.46h-1.18zM554.41 86.48h1.18v4.44h-1.18zM555.47 86.46h1.18v4.42h-1.18zM556.53 86.44h1.18v4.4h-1.18zM557.59 86.41h1.18v4.38h-1.18zM558.65 86.39h1.18v4.37h-1.18zM559.71 86.36h1.18v4.35h-1.18zM560.77 86.34h1.18v4.33h-1.18zM561.83 86.32h1.18v4.31h-1.18zM562.89 86.3h1.18v4.29h-1.18zM563.95 86.27h1.18v4.28h-1.18zM565.01 86.25h1.18v4.26h-1.18zM566.07 86.23h1.18v4.24h-1.18zM567.13 86.21h1.18v4.22h-1.18zM568.19 86.19h1.18v4.2h-1.18zM569.25 86.17h1.18v4.19h-1.18zM570.31 86.15h1.18v4.17h-1.18zM571.37 86.13h1.18v4.15h-1.18zM572.43 86.11h1.18v4.13h-1.18zM573.49 86.1h1.18v4.11h-1.18zM574.55 86.08h1.18v4.09h-1.18zM575.61 86.06h1.18v4.07h-1.18zM576.67 86.05h1.18v4.05h-1.18zM577.73 86.03h1.18v4.03h-1.18zM578.79 86.02h1.18v4.01h-1.18zM579.85 86.01h1.18v3.99h-1.18zM580.91 86h1.18v3.97h-1.18zM581.97 85.98h1.18v3.95h-1.18zM583.03 85.97h1.18v3.93h-1.18zM584.09 85.96h1.18v3.9h-1.18zM585.15 85.95h1.18v3.88h-1.18zM586.21 85.94h1.18v3.86h-1.18zM587.27 85.93h1.18v3.84h-1.18zM588.33 85.92h1.18v3.82h-1.18zM589.39 85.91h1.18v3.79h-1.18zM590.45 85.9h1.18v3.77h-1.18zM591.51 85.9h1.18v3.75h-1.18zM592.57 85.89h1.18v3.73h-1.18zM593.63 85.88h1.18v3.71h-1.18zM594.69 85.87h1.18v3.68h-1.18zM595.75 85.87h1.18v3.66h-1.18zM596.81 85.86h1.18v3.64h-1.18zM597.87 85.85h1.18v3.62h-1.18zM598.93 85.85h1.18v3.59h-1.18zM599.99 85.84h1.18v3.57h-1.18zM601.05 85.84h1.18v3.55h-1.18zM602.11 85.83h1.18v3.53h-1.18zM603.17 85.83h1.18v3.5h-1.18zM604.23 85.82h1.18v3.48h-1.18zM605.29 85.82h1.18v3.46h-1.18zM606.35 85.81h1.18v3.44h-1.18zM607.41 85.81h1.18v3.41h-1.18zM608.47 85.81h1.18v3.39h-1.18zM609.53 85.81h1.18v3.37h-1.18zM610.59 85.8h1.18v3.35h-1.18zM611.65 85.8h1.18v3.32h-1.18zM612.71 85.8h1.18v3.3h-1.18zM613.77 85.8h1.18v3.28h-1.18zM614.83 85.8h1.18v3.26h-1.18zM615.89 85.8h1.18v3.23h-1.18zM616.91 85.79h1.18v3.21h-1.18z" fill="#40bc40" fill-opacity="0.26"/>
<path d="M80.3 424.05h6v.9h-6zM80.3 424.65h6v.9h-6zM81.36 423.81h6v.9h-6zM81.36 424.55h6v.9h-6zM82.42 423.54h6v.9h-6zM82.42 424.46h6v.9h-6zM83.48 423.25h6v.9h-6zM83.48 424.35h6v.9h-6zM84.54 422.94h6v.9h-6zM84.54 424.23h6v.9h-6zM85.6 422.61h6v.9h-6zM85.6 424.1h6v.9h-6zM86.66 422.27h6v.9h-6zM86.66 423.96h6v.9h-6zM87.72 421.91h6v.9h-6zM87.72 423.82h6v.9h-6zM88.78 421.54h6v.9h-6zM88.78 423.67h6v.9h-6zM89.84 421.16h6v.9h-6zM89.84 423.5h6v.9h-6zM90.9 420.74h6v.9h-6zM90.9 423.32h6v.9h-6zM91.96 420.3h6v.9h-6zM91.96 423.11h6v.9h-6zM93.02 419.83h6v.9h-6zM93.02 422.88h6v.9h-6zM94.08 419.34h6v.9h-6zM94.08 422.63h6v.9h-6zM95.14 418.83h6v.9h-6zM95.14 422.37h6v.9h-6zM96.2 418.29h6v.9h-6zM96.2 422.1h6v.9h-6zM97.26 417.74h6v.9h-6zM97.26 421.81h6v.9h-6zM98.32 417.16h6v.9h-6zM98.32 421.5h6v.9h-6zM99.38 416.55h6v.9h-6zM99.38 421.18h6v.9h-6zM100.44 415.9h6v.9h-6zM100.44 420.84h6v.9h-6zM101.5 415.22h6v.9h-6zM101.5 420.47h6v.9h-6zM102.56 414.5h6v.9h-6zM102.56 420.09h6v.9h-6zM103.62 413.75h6v.9h-6zM103.62 419.68h6v.9h-6zM104.68 412.97h6v.9h-6zM104.68 419.25h6v.9h-6zM105.74 412.16h6v.9h-6zM105.74 418.79h6v.9h-6zM106.8 411.31h6v.9h-6zM106.8 418.3h6v.9h-6zM107.86 410.43h6v.9h-6zM107.86 417.79h6v.9h-6zM108.92 409.53h6v.9h-6zM108.92 417.25h6v.9h-6zM109.98 408.6h6v.9h-6zM109.98 416.69h6v.9h-6zM111.04 407.65h6v.9h-6zM111.04 416.11h6v.9h-6zM112.1 406.69h6v.9h-6zM112.1 415.51h6v.9h-6zM113.16 405.7h6v.9h-6zM113.16 414.88h6v.9h-6zM114.22 404.7h6v.9h-6zM114.22 414.23h6v.9h-6zM115.28 403.69h6v.9h-6zM115.28 413.56h6v.9h-6zM116.34 402.66h6v.9h-6zM116.34 412.87h6v.9h-6zM117.4 401.62h6v.9h-6zM117.4 412.15h6v.9h-6zM118.46 400.56h6v.9h-6zM118.46 411.41h6v.9h-6zM119.52 399.5h6v.9h-6zM119.52 410.65h6v.9h-6zM120.58 398.42h6v.9h-6zM120.58 409.88h6v.9h-6zM121.64 397.34h6v.9h-6zM121.64 409.12h6v.9h-6zM122.7 396.24h6v.9h-6zM122.7 408.34h6v.9h-6zM123.76 395.13h6v.9h-6zM123.76 407.57h6v.9h-6zM124.82 394.01h6v.9h-6zM124.82 406.78h6v.9h-6zM125.88 392.88h6v.9h-6zM125.88 405.99h6v.9h-6zM126.94 391.74h6v.9h-6zM126.94 405.19h6v.9h-6zM128 390.59h6v.9h-6zM128 404.38h6v.9h-6zM129.06 389.44h6v.9h-6zM129.06 403.57h6v.9h-6zM130.12 388.29h6v.9h-6zM130.12 402.75h6v.9h-6zM131.18 387.13h6v.9h-6zM131.18 401.93h6v.9h-6zM132.24 385.97h6v.9h-6zM132.24 401.09h6v.9h-6zM133.3 384.81h6v.9h-6zM133.3 400.25h6v.9h-6zM134.36 383.65h6v.9h-6zM134.36 399.39h6v.9h-6zM135.42 382.49h6v.9h-6zM135.42 398.51h6v.9h-6zM136.48 381.32h6v.9h-6zM136.48 397.63h6v.9h-6zM137.54 380.15h6v.9h-6zM137.54 396.72h6v.9h-6zM138.6 378.98h6v.9h-6zM138.6 395.8h6v.9h-6zM139.66 377.81h6v.9h-6zM139.66 394.85h6v.9h-6zM140.72 376.63h6v.9h-6zM140.72 393.89h6v.9h-6zM141.78 375.46h6v.9h-6zM141.78 392.9h6v.9h-6zM142.84 374.29h6v.9h-6zM142.84 391.9h6v.9h-6zM143.9 373.12h6v.9h-6zM143.9 390.87h6v.9h-6zM144.96 371.96h6v.9h-6zM144.96 389.82h6v.9h-6zM146.02 370.8h6v.9h-6zM146.02 388.74h6v.9h-6zM147.08 369.65h6v.9h-6zM147.08 387.65h6v.9h-6zM148.14 368.49h6v.9h-6zM148.14 386.54h6v.9h-6zM149.2 367.34h6v.9h-6zM149.2 385.42h6v.9h-6zM150.26 366.17h6v.9h-6zM150.26 384.3h6v.9h-6zM151.32 365h6v.9h-6zM151.32 383.17h6v.9h-6zM152.38 363.83h6v.9h-6zM152.38 382.03h6v.9h-6zM153.44 362.65h6v.9h-6zM153.44 380.89h6v.9h-6zM154.5 361.46h6v.9h-6zM154.5 379.74h6v.9h-6zM155.56 360.26h6v.9h-6zM155.56 378.58h6v.9h-6zM156.62 359.06h6v.9h-6zM156.62 377.41h6v.9h-6zM157.68 357.85h6v.9h-6zM157.68 376.23h6v.9h-6zM158.74 356.63h6v.9h-6zM158.74 375.05h6v.9h-6zM159.8 355.41h6v.9h-6zM159.8 373.86h6v.9h-6zM160.86 354.17h6v.9h-6zM160.86 372.65h6v.9h-6zM161.92 352.93h6v.9h-6zM161.92 371.44h6v.9h-6zM162.98 351.69h6v.9h-6zM162.98 370.23h6v.9h-6zM164.04 350.43h6v.9h-6zM164.04 369h6v.9h-6zM165.1 349.18h6v.9h-6zM165.1 367.77h6v.9h-6zM166.16 347.92h6v.9h-6zM166.16 366.54h6v.9h-6zM167.22 346.66h6v.9h-6zM167.22 365.31h6v.9h-6zM168.28 345.4h6v.9h-6zM168.28 364.07h6v.9h-6zM169.34 344.14h6v.9h-6zM169.34 362.83h6v.9h-6zM170.4 342.87h6v.9h-6zM170.4 361.59h6v.9h-6zM171.46 341.62h6v.9h-6zM171.46 360.36h6v.9h-6zM172.52 340.36h6v.9h-6zM172.52 359.12h6v.9h-6zM173.58 339.11h6v.9h-6zM173.58 357.89h6v.9h-6zM174.64 337.86h6v.9h-6zM174.64 356.66h6v.9h-6zM175.7 336.61h6v.9h-6zM175.7 355.43h6v.9h-6zM176.76 335.37h6v.9h-6zM176.76 354.21h6v.9h-6zM177.82 334.13h6v.9h-6zM177.82 352.99h6v.9h-6zM178.88 332.9h6v.9h-6zM178.88 351.77h6v.9h-6zM179.94 331.67h6v.9h-6zM179.94 350.56h6v.9h-6zM181 330.45h6v.9h-6zM181 349.35h6v.9h-6zM182.06 329.23h6v.9h-6zM182.06 348.14h6v.9h-6zM183.12 328.02h6v.9h-6zM183.12 346.94h6v.9h-6zM184.18 326.81h6v.9h-6zM184.18 345.74h6v.9h-6zM185.24 325.61h6v.9h-6zM185.24 344.55h6v.9h-6zM186.3 324.41h6v.9h-6zM186.3 343.36h6v.9h-6zM187.36 323.22h6v.9h-6zM187.36 342.18h6v.9h-6zM188.42 322.03h6v.9h-6zM188.42 341h6v.9h-6zM189.48 320.85h6v.9h-6zM189.48 339.83h6v.9h-6zM190.54 319.67h6v.9h-6zM190.54 338.66h6v.9h-6zM191.6 318.5h6v.9h-6zM191.6 337.49h6v.9h-6zM192.66 317.34h6v.9h-6zM192.66 336.33h6v.9h-6zM193.72 316.18h6v.9h-6zM193.72 335.17h6v.9h-6zM194.78 315.02h6v.9h-6zM194.78 334.02h6v.9h-6zM195.84 313.87h6v.9h-6zM195.84 332.87h6v.9h-6zM196.9 312.73h6v.9h-6zM196.9 331.73h6v.9h-6zM197.96 311.59h6v.9h-6zM197.96 330.59h6v.9h-6zM199.02 310.45h6v.9h-6zM199.02 329.45h6v.9h-6zM200.08 309.31h6v.9h-6zM200.08 328.31h6v.9h-6zM201.14 308.18h6v.9h-6zM201.14 327.18h6v.9h-6zM202.2 307.04h6v.9h-6zM202.2 326.04h6v.9h-6zM203.26 305.91h6v.9h-6zM203.26 324.91h6v.9h-6zM204.32 304.78h6v.9h-6zM204.32 323.78h6v.9h-6zM205.38 303.64h6v.9h-6zM205.38 322.64h6v.9h-6zM206.44 302.5h6v.9h-6zM206.44 321.5h6v.9h-6zM207.5 301.36h6v.9h-6zM207.5 320.36h6v.9h-6zM208.56 300.22h6v.9h-6zM208.56 319.22h6v.9h-6zM209.62 299.07h6v.9h-6zM209.62 318.07h6v.9h-6zM210.68 297.91h6v.9h-6zM210.68 316.91h6v.9h-6zM211.74 296.75h6v.9h-6zM211.74 315.75h6v.9h-6zM212.8 295.58h6v.9h-6zM212.8 314.58h6v.9h-6zM213.86 294.4h6v.9h-6zM213.86 313.4h6v.9h-6zM214.92 293.21h6v.9h-6zM214.92 312.21h6v.9h-6zM215.98 292.02h6v.9h-6zM215.98 311.02h6v.9h-6zM217.04 290.81h6v.9h-6zM217.04 309.81h6v.9h-6zM218.1 289.6h6v.9h-6zM218.1 308.6h6v.9h-6zM219.16 288.38h6v.9h-6zM219.16 307.38h6v.9h-6zM220.22 287.15h6v.9h-6zM220.22 306.15h6v.9h-6zM221.28 285.9h6v.9h-6zM221.28 304.9h6v.9h-6zM222.34 284.65h6v.9h-6zM222.34 303.65h6v.9h-6zM223.4 283.39h6v.9h-6zM223.4 302.39h6v.9h-6zM224.46 282.13h6v.9h-6zM224.46 301.13h6v.9h-6zM225.52 280.85h6v.9h-6zM225.52 299.85h6v.9h-6zM226.58 279.57h6v.9h-6zM226.58 298.57h6v.9h-6zM227.64 278.28h6v.9h-6zM227.64 297.28h6v.9h-6zM228.7 276.99h6v.9h-6zM228.7 295.99h6v.9h-6zM229.76 275.69h6v.9h-6zM229.76 294.69h6v.9h-6zM230.82 274.39h6v.9h-6zM230.82 293.39h6v.9h-6zM231.88 273.08h6v.9h-6zM231.88 292.08h6v.9h-6zM232.94 271.78h6v.9h-6zM232.94 290.78h6v.9h-6zM234 270.47h6v.9h-6zM234 289.47h6v.9h-6zM235.06 269.16h6v.9h-6zM235.06 288.16h6v.9h-6zM236.12 267.85h6v.9h-6zM236.12 286.85h6v.9h-6zM237.18 266.54h6v.9h-6zM237.18 285.54h6v.9h-6zM238.24 265.23h6v.9h-6zM238.24 284.23h6v.9h-6zM239.3 263.93h6v.9h-6zM239.3 282.93h6v.9h-6zM240.36 262.63h6v.9h-6zM240.36 281.63h6v.9h-6zM241.42 261.33h6v.9h-6zM241.42 280.33h6v.9h-6zM242.48 260.03h6v.9h-6zM242.48 279.03h6v.9h-6zM243.54 258.74h6v.9h-6zM243.54 277.74h6v.9h-6zM244.6 257.45h6v.9h-6zM244.6 276.45h6v.9h-6zM245.66 256.16h6v.9h-6zM245.66 275.16h6v.9h-6zM246.72 254.88h6v.9h-6zM246.72 273.88h6v.9h-6zM247.78 253.6h6v.9h-6zM247.78 272.6h6v.9h-6zM248.84 252.32h6v.9h-6zM248.84 271.32h6v.9h-6zM249.9 251.05h6v.9h-6zM249.9 270.05h6v.9h-6zM250.96 249.78h6v.9h-6zM250.96 268.78h6v.9h-6zM252.02 248.51h6v.9h-6zM252.02 267.51h6v.9h-6zM253.08 247.24h6v.9h-6zM253.08 266.24h6v.9h-6zM254.14 245.97h6v.9h-6zM254.14 264.97h6v.9h-6zM255.2 244.7h6v.9h-6zM255.2 263.7h6v.9h-6zM256.26 243.44h6v.9h-6zM256.26 262.44h6v.9h-6zM257.32 242.17h6v.9h-6zM257.32 261.17h6v.9h-6zM258.38 240.91h6v.9h-6zM258.38 259.91h6v.9h-6zM259.44 239.65h6v.9h-6zM259.44 258.64h6v.9h-6zM260.5 238.38h6v.9h-6zM260.5 257.37h6v.9h-6zM261.56 237.12h6v.9h-6zM261.56 256.09h6v.9h-6zM262.62 235.86h6v.9h-6zM262.62 254.82h6v.9h-6zM263.68 234.6h6v.9h-6zM263.68 253.54h6v.9h-6zM264.74 233.34h6v.9h-6zM264.74 252.26h6v.9h-6zM265.8 232.07h6v.9h-6zM265.8 250.97h6v.9h-6zM266.86 230.81h6v.9h-6zM266.86 249.69h6v.9h-6zM267.92 229.55h6v.9h-6zM267.92 248.4h6v.9h-6zM268.98 228.28h6v.9h-6zM268.98 247.1h6v.9h-6zM270.04 227.02h6v.9h-6zM270.04 245.81h6v.9h-6zM271.1 225.75h6v.9h-6zM271.1 244.51h6v.9h-6zM272.16 224.49h6v.9h-6zM272.16 243.2h6v.9h-6zM273.22 223.22h6v.9h-6zM273.22 241.9h6v.9h-6zM274.28 221.95h6v.9h-6zM274.28 240.59h6v.9h-6zM275.34 220.68h6v.9h-6zM275.34 239.28h6v.9h-6zM276.4 219.41h6v.9h-6zM276.4 237.97h6v.9h-6zM277.46 218.14h6v.9h-6zM277.46 236.65h6v.9h-6zM278.52 216.87h6v.9h-6zM278.52 235.34h6v.9h-6zM279.58 215.6h6v.9h-6zM279.58 234.02h6v.9h-6zM280.64 214.33h6v.9h-6zM280.64 232.7h6v.9h-6zM281.7 213.06h6v.9h-6zM281.7 231.38h6v.9h-6zM282.76 211.79h6v.9h-6zM282.76 230.06h6v.9h-6zM283.82 210.52h6v.9h-6zM283.82 228.73h6v.9h-6zM284.88 209.25h6v.9h-6zM284.88 227.41h6v.9h-6zM285.94 207.98h6v.9h-6zM285.94 226.08h6v.9h-6zM287 206.71h6v.9h-6zM287 224.76h6v.9h-6zM288.06 205.44h6v.9h-6zM288.06 223.43h6v.9h-6zM289.12 204.17h6v.9h-6zM289.12 222.11h6v.9h-6zM290.18 202.9h6v.9h-6zM290.18 220.78h6v.9h-6zM291.24 201.63h6v.9h-6zM291.24 219.46h6v.9h-6zM292.3 200.37h6v.9h-6zM292.3 218.13h6v.9h-6zM293.36 199.1h6v.9h-6zM293.36 216.81h6v.9h-6zM294.42 197.84h6v.9h-6zM294.42 215.48h6v.9h-6zM295.48 196.57h6v.9h-6zM295.48 214.16h6v.9h-6zM296.54 195.31h6v.9h-6zM296.54 212.84h6v.9h-6zM297.6 194.05h6v.9h-6zM297.6 211.52h6v.9h-6zM298.66 192.79h6v.9h-6zM298.66 210.2h6v.9h-6zM299.72 191.54h6v.9h-6zM299.72 208.88h6v.9h-6zM300.78 190.28h6v.9h-6zM300.78 207.57h6v.9h-6zM301.84 189.03h6v.9h-6zM301.84 206.26h6v.9h-6zM302.9 187.79h6v.9h-6zM302.9 204.96h6v.9h-6zM303.96 186.54h6v.9h-6zM303.96 203.66h6v.9h-6zM305.02 185.3h6v.9h-6zM305.02 202.36h6v.9h-6zM306.08 184.06h6v.9h-6zM306.08 201.06h6v.9h-6zM307.14 182.83h6v.9h-6zM307.14 199.77h6v.9h-6zM308.2 181.6h6v.9h-6zM308.2 198.49h6v.9h-6zM309.26 180.37h6v.9h-6zM309.26 197.21h6v.9h-6zM310.32 179.15h6v.9h-6zM310.32 195.93h6v.9h-6zM311.38 177.93h6v.9h-6zM311.38 194.66h6v.9h-6zM312.44 176.72h6v.9h-6zM312.44 193.39h6v.9h-6zM313.5 175.5h6v.9h-6zM313.5 192.13h6v.9h-6zM314.56 174.29h6v.9h-6zM314.56 190.87h6v.9h-6zM315.62 173.09h6v.9h-6zM315.62 189.61h6v.9h-6zM316.68 171.88h6v.9h-6zM316.68 188.36h6v.9h-6zM317.74 170.68h6v.9h-6zM317.74 187.12h6v.9h-6zM318.8 169.48h6v.9h-6zM318.8 185.88h6v.9h-6zM319.86 168.29h6v.9h-6zM319.86 184.64h6v.9h-6zM320.92 167.1h6v.9h-6zM320.92 183.41h6v.9h-6zM321.98 165.91h6v.9h-6zM321.98 182.18h6v.9h-6zM323.04 164.72h6v.9h-6zM323.04 180.96h6v.9h-6zM324.1 163.54h6v.9h-6zM324.1 179.75h6v.9h-6zM325.16 162.36h6v.9h-6zM325.16 178.54h6v.9h-6zM326.22 161.18h6v.9h-6zM326.22 177.33h6v.9h-6zM327.28 160.01h6v.9h-6zM327.28 176.13h6v.9h-6zM328.34 158.84h6v.9h-6zM328.34 174.94h6v.9h-6zM329.4 157.67h6v.9h-6zM329.4 173.75h6v.9h-6zM330.46 156.51h6v.9h-6zM330.46 172.57h6v.9h-6zM331.52 155.35h6v.9h-6zM331.52 171.39h6v.9h-6zM332.58 154.2h6v.9h-6zM332.58 170.22h6v.9h-6zM333.64 153.05h6v.9h-6zM333.64 169.06h6v.9h-6zM334.7 151.9h6v.9h-6zM334.7 167.91h6v.9h-6zM335.76 150.76h6v.9h-6zM335.76 166.76h6v.9h-6zM336.82 149.62h6v.9h-6zM336.82 165.62h6v.9h-6zM337.88 148.48h6v.9h-6zM337.88 164.49h6v.9h-6zM338.94 147.35h6v.9h-6zM338.94 163.36h6v.9h-6zM340 146.23h6v.9h-6zM340 162.24h6v.9h-6zM341.06 145.1h6v.9h-6zM341.06 161.13h6v.9h-6zM342.12 143.98h6v.9h-6zM342.12 160.03h6v.9h-6zM343.18 142.86h6v.9h-6zM343.18 158.93h6v.9h-6zM344.24 141.75h6v.9h-6zM344.24 157.84h6v.9h-6zM345.3 140.64h6v.9h-6zM345.3 156.75h6v.9h-6zM346.36 139.54h6v.9h-6zM346.36 155.67h6v.9h-6zM347.42 138.43h6v.9h-6zM347.42 154.6h6v.9h-6zM348.48 137.33h6v.9h-6zM348.48 153.53h6v.9h-6zM349.54 136.24h6v.9h-6zM349.54 152.47h6v.9h-6zM350.6 135.15h6v.9h-6zM350.6 151.41h6v.9h-6zM351.66 134.06h6v.9h-6zM351.66 150.36h6v.9h-6zM352.72 132.97h6v.9h-6zM352.72 149.32h6v.9h-6zM353.78 131.9h6v.9h-6zM353.78 148.28h6v.9h-6zM354.84 130.82h6v.9h-6zM354.84 147.24h6v.9h-6zM355.9 129.76h6v.9h-6zM355.9 146.22h6v.9h-6zM356.96 128.7h6v.9h-6zM356.96 145.2h6v.9h-6zM358.02 127.65h6v.9h-6zM358.02 144.18h6v.9h-6zM359.08 126.6h6v.9h-6zM359.08 143.18h6v.9h-6zM360.14 125.57h6v.9h-6zM360.14 142.19h6v.9h-6zM361.2 124.55h6v.9h-6zM361.2 141.2h6v.9h-6zM362.26 123.54h6v.9h-6zM362.26 140.23h6v.9h-6zM363.32 122.54h6v.9h-6zM363.32 139.27h6v.9h-6zM364.38 121.55h6v.9h-6zM364.38 138.32h6v.9h-6zM365.44 120.59h6v.9h-6zM365.44 137.38h6v.9h-6zM366.5 119.63h6v.9h-6zM366.5 136.46h6v.9h-6zM367.56 118.7h6v.9h-6zM367.56 135.56h6v.9h-6zM368.62 117.78h6v.9h-6zM368.62 134.67h6v.9h-6zM369.68 116.88h6v.9h-6zM369.68 133.8h6v.9h-6zM370.74 116.01h6v.9h-6zM370.74 132.94h6v.9h-6zM371.8 115.15h6v.9h-6zM371.8 132.1h6v.9h-6zM372.86 114.31h6v.9h-6zM372.86 131.28h6v.9h-6zM373.92 113.5h6v.9h-6zM373.92 130.48h6v.9h-6zM374.98 112.71h6v.9h-6zM374.98 129.7h6v.9h-6zM376.04 111.94h6v.9h-6zM376.04 128.93h6v.9h-6zM377.1 111.19h6v.9h-6zM377.1 128.19h6v.9h-6zM378.16 110.46h6v.9h-6zM378.16 127.46h6v.9h-6zM379.22 109.75h6v.9h-6zM379.22 126.75h6v.9h-6zM380.28 109.06h6v.9h-6zM380.28 126.06h6v.9h-6zM381.34 108.38h6v.9h-6zM381.34 125.38h6v.9h-6zM382.4 107.73h6v.9h-6zM382.4 124.73h6v.9h-6zM383.46 107.09h6v.9h-6zM383.46 124.09h6v.9h-6zM384.52 106.46h6v.9h-6zM384.52 123.46h6v.9h-6zM385.58 105.85h6v.9h-6zM385.58 122.85h6v.9h-6zM386.64 105.26h6v.9h-6zM386.64 122.26h6v.9h-6zM387.7 104.68h6v.9h-6zM387.7 121.68h6v.9h-6zM388.76 104.11h6v.9h-6zM388.76 121.11h6v.9h-6zM389.82 103.55h6v.9h-6zM389.82 120.55h6v.9h-6zM390.88 103h6v.9h-6zM390.88 120h6v.9h-6zM391.94 102.47h6v.9h-6zM391.94 119.47h6v.9h-6zM393 101.94h6v.9h-6zM393 118.94h6v.9h-6zM394.06 101.42h6v.9h-6zM394.06 118.42h6v.9h-6zM395.12 100.91h6v.9h-6zM395.12 117.91h6v.9h-6zM396.18 100.41h6v.9h-6zM396.18 117.41h6v.9h-6zM397.24 99.92h6v.9h-6zM397.24 116.92h6v.9h-6zM398.3 99.43h6v.9h-6zM398.3 116.43h6v.9h-6zM399.36 98.95h6v.9h-6zM399.36 115.95h6v.9h-6zM400.42 98.49h6v.9h-6zM400.42 115.49h6v.9h-6zM401.48 98.02h6v.9h-6zM401.48 115.02h6v.9h-6zM402.54 97.57h6v.9h-6zM402.54 114.57h6v.9h-6zM403.6 97.14h6v.9h-6zM403.6 114.11h6v.9h-6zM404.66 96.73h6v.9h-6zM404.66 113.64h6v.9h-6zM405.72 96.33h6v.9h-6zM405.72 113.17h6v.9h-6zM406.78 95.95h6v.9h-6zM406.78 112.71h6v.9h-6zM407.84 95.59h6v.9h-6zM407.84 112.24h6v.9h-6zM408.9 95.25h6v.9h-6zM408.9 111.77h6v.9h-6zM409.96 94.92h6v.9h-6zM409.96 111.31h6v.9h-6zM411.02 94.6h6v.9h-6zM411.02 110.85h6v.9h-6zM412.08 94.29h6v.9h-6zM412.08 110.4h6v.9h-6zM413.14 94h6v.9h-6zM413.14 109.95h6v.9h-6zM414.2 93.71h6v.9h-6zM414.2 109.52h6v.9h-6zM415.26 93.44h6v.9h-6zM415.26 109.1h6v.9h-6zM416.32 93.17h6v.9h-6zM416.32 108.7h6v.9h-6zM417.38 92.91h6v.9h-6zM417.38 108.31h6v.9h-6zM418.44 92.66h6v.9h-6zM418.44 107.93h6v.9h-6zM419.5 92.41h6v.9h-6zM419.5 107.58h6v.9h-6zM420.56 92.16h6v.9h-6zM420.56 107.25h6v.9h-6zM421.62 91.92h6v.9h-6zM421.62 106.94h6v.9h-6zM422.68 91.68h6v.9h-6zM422.68 106.65h6v.9h-6zM423.74 91.45h6v.9h-6zM423.74 106.38h6v.9h-6zM424.8 91.23h6v.9h-6zM424.8 106.12h6v.9h-6zM425.86 91.02h6v.9h-6zM425.86 105.87h6v.9h-6zM426.92 90.82h6v.9h-6zM426.92 105.64h6v.9h-6zM427.98 90.62h6v.9h-6zM427.98 105.42h6v.9h-6zM429.04 90.44h6v.9h-6zM429.04 105.21h6v.9h-6zM430.1 90.26h6v.9h-6zM430.1 105.01h6v.9h-6zM431.16 90.09h6v.9h-6zM431.16 104.82h6v.9h-6zM432.22 89.93h6v.9h-6zM432.22 104.63h6v.9h-6zM433.28 89.78h6v.9h-6zM433.28 104.46h6v.9h-6zM434.34 89.64h6v.9h-6zM434.34 104.29h6v.9h-6zM435.4 89.5h6v.9h-6zM435.4 104.13h6v.9h-6zM436.46 89.37h6v.9h-6zM436.46 103.97h6v.9h-6zM437.52 89.25h6v.9h-6zM437.52 103.82h6v.9h-6zM438.58 89.13h6v.9h-6zM438.58 103.66h6v.9h-6zM439.64 89.02h6v.9h-6zM439.64 103.52h6v.9h-6zM440.7 88.91h6v.9h-6zM440.7 103.37h6v.9h-6zM441.76 88.81h6v.9h-6zM441.76 103.22h6v.9h-6zM442.82 88.72h6v.9h-6zM442.82 103.07h6v.9h-6zM443.88 88.63h6v.9h-6zM443.88 102.92h6v.9h-6zM444.94 88.56h6v.9h-6zM444.94 102.76h6v.9h-6zM446 88.49h6v.9h-6zM446 102.59h6v.9h-6zM447.06 88.43h6v.9h-6zM447.06 102.42h6v.9h-6zM448.12 88.37h6v.9h-6zM448.12 102.24h6v.9h-6zM449.18 88.33h6v.9h-6zM449.18 102.06h6v.9h-6zM450.24 88.28h6v.9h-6zM450.24 101.88h6v.9h-6zM451.3 88.24h6v.9h-6zM451.3 101.69h6v.9h-6zM452.36 88.21h6v.9h-6zM452.36 101.5h6v.9h-6zM453.42 88.17h6v.9h-6zM453.42 101.3h6v.9h-6zM454.48 88.14h6v.9h-6zM454.48 101.1h6v.9h-6zM455.54 88.11h6v.9h-6zM455.54 100.9h6v.9h-6zM456.6 88.08h6v.9h-6zM456.6 100.7h6v.9h-6zM457.66 88.05h6v.9h-6zM457.66 100.5h6v.9h-6zM458.72 88.02h6v.9h-6zM458.72 100.29h6v.9h-6zM459.78 87.99h6v.9h-6zM459.78 100.09h6v.9h-6zM460.84 87.96h6v.9h-6zM460.84 99.89h6v.9h-6zM461.9 87.93h6v.9h-6zM461.9 99.68h6v.9h-6zM462.96 87.9h6v.9h-6zM462.96 99.48h6v.9h-6zM464.02 87.86h6v.9h-6zM464.02 99.29h6v.9h-6zM465.08 87.82h6v.9h-6zM465.08 99.09h6v.9h-6zM466.14 87.78h6v.9h-6zM466.14 98.9h6v.9h-6zM467.2 87.74h6v.9h-6zM467.2 98.71h6v.9h-6zM468.26 87.69h6v.9h-6zM468.26 98.52h6v.9h-6zM469.32 87.64h6v.9h-6zM469.32 98.33h6v.9h-6zM470.38 87.6h6v.9h-6zM470.38 98.14h6v.9h-6zM471.44 87.56h6v.9h-6zM471.44 97.95h6v.9h-6zM472.5 87.51h6v.9h-6zM472.5 97.76h6v.9h-6zM473.56 87.47h6v.9h-6zM473.56 97.57h6v.9h-6zM474.62 87.43h6v.9h-6zM474.62 97.38h6v.9h-6zM475.68 87.39h6v.9h-6zM475.68 97.19h6v.9h-6zM476.74 87.35h6v.9h-6zM476.74 97h6v.9h-6zM477.8 87.31h6v.9h-6zM477.8 96.81h6v.9h-6zM478.86 87.27h6v.9h-6zM478.86 96.62h6v.9h-6zM479.92 87.23h6v.9h-6zM479.92 96.44h6v.9h-6zM480.98 87.19h6v.9h-6zM480.98 96.25h6v.9h-6zM482.04 87.16h6v.9h-6zM482.04 96.07h6v.9h-6zM483.1 87.12h6v.9h-6zM483.1 95.89h6v.9h-6zM484.16 87.09h6v.9h-6zM484.16 95.71h6v.9h-6zM485.22 87.05h6v.9h-6zM485.22 95.54h6v.9h-6zM486.28 87.02h6v.9h-6zM486.28 95.37h6v.9h-6zM487.34 86.99h6v.9h-6zM487.34 95.21h6v.9h-6zM488.4 86.96h6v.9h-6zM488.4 95.05h6v.9h-6zM489.46 86.93h6v.9h-6zM489.46 94.89h6v.9h-6zM490.52 86.9h6v.9h-6zM490.52 94.74h6v.9h-6zM491.58 86.87h6v.9h-6zM491.58 94.6h6v.9h-6zM492.64 86.85h6v.9h-6zM492.64 94.46h6v.9h-6zM493.7 86.82h6v.9h-6zM493.7 94.32h6v.9h-6zM494.76 86.8h6v.9h-6zM494.76 94.2h6v.9h-6zM495.82 86.77h6v.9h-6zM495.82 94.07h6v.9h-6zM496.88 86.75h6v.9h-6zM496.88 93.96h6v.9h-6zM497.94 86.72h6v.9h-6zM497.94 93.84h6v.9h-6zM499 86.7h6v.9h-6zM499 93.74h6v.9h-6zM500.06 86.68h6v.9h-6zM500.06 93.63h6v.9h-6zM501.12 86.66h6v.9h-6zM501.12 93.53h6v.9h-6zM502.18 86.65h6v.9h-6zM502.18 93.43h6v.9h-6zM503.24 86.63h6v.9h-6zM503.24 93.33h6v.9h-6zM504.3 86.62h6v.9h-6zM504.3 93.24h6v.9h-6zM505.36 86.61h6v.9h-6zM505.36 93.15h6v.9h-6zM506.42 86.6h6v.9h-6zM506.42 93.06h6v.9h-6zM507.48 86.59h6v.9h-6zM507.48 92.97h6v.9h-6zM508.54 86.58h6v.9h-6zM508.54 92.89h6v.9h-6zM509.6 86.58h6v.9h-6zM509.6 92.8h6v.9h-6zM510.66 86.57h6v.9h-6zM510.66 92.72h6v.9h-6zM511.72 86.56h6v.9h-6zM511.72 92.64h6v.9h-6zM512.78 86.56h6v.9h-6zM512.78 92.57h6v.9h-6zM513.84 86.55h6v.9h-6zM513.84 92.49h6v.9h-6zM514.9 86.55h6v.9h-6zM514.9 92.42h6v.9h-6zM515.96 86.54h6v.9h-6zM515.96 92.34h6v.9h-6zM517.02 86.54h6v.9h-6zM517.02 92.27h6v.9h-6zM518.08 86.53h6v.9h-6zM518.08 92.2h6v.9h-6zM519.14 86.53h6v.9h-6zM519.14 92.13h6v.9h-6zM520.2 86.52h6v.9h-6zM520.2 92.07h6v.9h-6zM521.26 86.52h6v.9h-6zM521.26 92h6v.9h-6zM522.32 86.51h6v.9h-6zM522.32 91.94h6v.9h-6zM523.38 86.5h6v.9h-6zM523.38 91.87h6v.9h-6zM524.44 86.5h6v.9h-6zM524.44 91.81h6v.9h-6zM525.5 86.49h6v.9h-6zM525.5 91.75h6v.9h-6zM526.56 86.48h6v.9h-6zM526.56 91.69h6v.9h-6zM527.62 86.47h6v.9h-6zM527.62 91.63h6v.9h-6zM528.68 86.46h6v.9h-6zM528.68 91.57h6v.9h-6zM529.74 86.45h6v.9h-6zM529.74 91.51h6v.9h-6zM530.8 86.44h6v.9h-6zM530.8 91.46h6v.9h-6zM531.86 86.42h6v.9h-6zM531.86 91.4h6v.9h-6zM532.92 86.41h6v.9h-6zM532.92 91.35h6v.9h-6zM533.98 86.39h6v.9h-6zM533.98 91.29h6v.9h-6zM535.04 86.38h6v.9h-6zM535.04 91.24h6v.9h-6zM536.1 86.36h6v.9h-6zM536.1 91.19h6v.9h-6zM537.16 86.34h6v.9h-6zM537.16 91.14h6v.9h-6zM538.22 86.32h6v.9h-6zM538.22 91.09h6v.9h-6zM539.28 86.3h6v.9h-6zM539.28 91.04h6v.9h-6zM540.34 86.28h6v.9h-6zM540.34 90.99h6v.9h-6zM541.4 86.26h6v.9h-6zM541.4 90.94h6v.9h-6zM542.46 86.24h6v.9h-6zM542.46 90.89h6v.9h-6zM543.52 86.22h6v.9h-6zM543.52 90.84h6v.9h-6zM544.58 86.2h6v.9h-6zM544.58 90.8h6v.9h-6zM545.64 86.17h6v.9h-6zM545.64 90.75h6v.9h-6zM546.7 86.15h6v.9h-6zM546.7 90.7h6v.9h-6zM547.76 86.13h6v.9h-6zM547.76 90.66h6v.9h-6zM548.82 86.1h6v.9h-6zM548.82 90.61h6v.9h-6zM549.88 86.08h6v.9h-6zM549.88 90.57h6v.9h-6zM550.94 86.06h6v.9h-6zM550.94 90.52h6v.9h-6zM552 86.03h6v.9h-6zM552 90.48h6v.9h-6zM553.06 86.01h6v.9h-6zM553.06 90.43h6v.9h-6zM554.12 85.99h6v.9h-6zM554.12 90.39h6v.9h-6zM555.18 85.96h6v.9h-6zM555.18 90.35h6v.9h-6zM556.24 85.94h6v.9h-6zM556.24 90.3h6v.9h-6zM557.3 85.91h6v.9h-6zM557.3 90.26h6v.9h-6zM558.36 85.89h6v.9h-6zM558.36 90.22h6v.9h-6zM559.42 85.87h6v.9h-6zM559.42 90.18h6v.9h-6zM560.48 85.85h6v.9h-6zM560.48 90.14h6v.9h-6zM561.54 85.82h6v.9h-6zM561.54 90.1h6v.9h-6zM562.6 85.8h6v.9h-6zM562.6 90.06h6v.9h-6zM563.66 85.78h6v.9h-6zM563.66 90.02h6v.9h-6zM564.72 85.76h6v.9h-6zM564.72 89.98h6v.9h-6zM565.78 85.74h6v.9h-6zM565.78 89.94h6v.9h-6zM566.84 85.72h6v.9h-6zM566.84 89.91h6v.9h-6zM567.9 85.7h6v.9h-6zM567.9 89.87h6v.9h-6zM568.96 85.68h6v.9h-6zM568.96 89.83h6v.9h-6zM570.02 85.66h6v.9h-6zM570.02 89.8h6v.9h-6zM571.08 85.65h6v.9h-6zM571.08 89.76h6v.9h-6zM572.14 85.63h6v.9h-6zM572.14 89.72h6v.9h-6zM573.2 85.61h6v.9h-6zM573.2 89.69h6v.9h-6zM574.26 85.6h6v.9h-6zM574.26 89.65h6v.9h-6zM575.32 85.58h6v.9h-6zM575.32 89.62h6v.9h-6zM576.38 85.57h6v.9h-6zM576.38 89.58h6v.9h-6zM577.44 85.56h6v.9h-6zM577.44 89.55h6v.9h-6zM578.5 85.55h6v.9h-6zM578.5 89.52h6v.9h-6zM579.56 85.53h6v.9h-6zM579.56 89.48h6v.9h-6zM580.62 85.52h6v.9h-6zM580.62 89.45h6v.9h-6zM581.68 85.51h6v.9h-6zM581.68 89.42h6v.9h-6zM582.74 85.5h6v.9h-6zM582.74 89.38h6v.9h-6zM583.8 85.49h6v.9h-6zM583.8 89.35h6v.9h-6zM584.86 85.48h6v.9h-6zM584.86 89.32h6v.9h-6zM585.92 85.47h6v.9h-6zM585.92 89.29h6v.9h-6zM586.98 85.46h6v.9h-6zM586.98 89.26h6v.9h-6zM588.04 85.45h6v.9h-6zM588.04 89.23h6v.9h-6zM589.1 85.45h6v.9h-6zM589.1 89.2h6v.9h-6zM590.16 85.44h6v.9h-6zM590.16 89.16h6v.9h-6zM591.22 85.43h6v.9h-6zM591.22 89.13h6v.9h-6zM592.28 85.42h6v.9h-6zM592.28 89.11h6v.9h-6zM593.34 85.42h6v.9h-6zM593.34 89.08h6v.9h-6zM594.4 85.41h6v.9h-6zM594.4 89.05h6v.9h-6zM595.46 85.4h6v.9h-6zM595.46 89.02h6v.9h-6zM596.52 85.4h6v.9h-6zM596.52 88.99h6v.9h-6zM597.58 85.39h6v.9h-6zM597.58 88.96h6v.9h-6zM598.64 85.39h6v.9h-6zM598.64 88.93h6v.9h-6zM599.7 85.38h6v.9h-6zM599.7 88.91h6v.9h-6zM600.76 85.38h6v.9h-6zM600.76 88.88h6v.9h-6zM601.82 85.37h6v.9h-6zM601.82 88.85h6v.9h-6zM602.88 85.37h6v.9h-6zM602.88 88.83h6v.9h-6zM603.94 85.36h6v.9h-6zM603.94 88.8h6v.9h-6zM605 85.36h6v.9h-6zM605 88.78h6v.9h-6zM606.06 85.36h6v.9h-6zM606.06 88.75h6v.9h-6zM607.12 85.36h6v.9h-6zM607.12 88.73h6v.9h-6zM608.18 85.35h6v.9h-6zM608.18 88.7h6v.9h-6zM609.24 85.35h6v.9h-6zM609.24 88.68h6v.9h-6zM610.3 85.35h6v.9h-6zM610.3 88.65h6v.9h-6zM611.36 85.35h6v.9h-6zM611.36 88.63h6v.9h-6zM612.42 85.35h6v.9h-6zM612.42 88.6h6v.9h-6zM613.48 85.35h6v.9h-6zM613.48 88.58h6v.9h-6zM614.5 85.34h6v.9h-6zM614.5 88.56h6v.9h-6z" fill="#30b030" fill-opacity="0.5"/>
<path d="M83.3 424.8 L84.4 424.6 L85.4 424.4 L86.5 424.2 L87.5 424 L88.6 423.8 L89.7 423.6 L90.7 423.3 L91.8 423.1 L92.8 422.8 L93.9 422.5 L95 422.2 L96 421.8 L97.1 421.4 L98.1 421 L99.2 420.6 L100.3 420.2 L101.3 419.8 L102.4 419.3 L103.4 418.8 L104.5 418.3 L105.6 417.7 L106.6 417.2 L107.7 416.6 L108.7 415.9 L109.8 415.3 L110.9 414.6 L111.9 413.8 L113 413.1 L114 412.3 L115.1 411.5 L116.2 410.7 L117.2 409.9 L118.3 409.1 L119.3 408.2 L120.4 407.3 L121.5 406.4 L122.5 405.5 L123.6 404.6 L124.6 403.7 L125.7 402.7 L126.8 401.8 L127.8 400.8 L128.9 399.9 L129.9 398.9 L131 397.9 L132.1 397 L133.1 396 L134.2 395 L135.2 394 L136.3 393 L137.4 392 L138.4 391 L139.5 389.9 L140.5 388.9 L141.6 387.8 L142.7 386.8 L143.7 385.7 L144.8 384.6 L145.8 383.5 L146.9 382.4 L148 381.3 L149 380.2 L150.1 379.1 L151.1 378 L152.2 376.8 L153.3 375.7 L154.3 374.5 L155.4 373.4 L156.4 372.2 L157.5 371 L158.6 369.9 L159.6 368.7 L160.7 367.5 L161.7 366.3 L162.8 365.1 L163.9 363.9 L164.9 362.6 L166 361.4 L167 360.2 L168.1 358.9 L169.2 357.7 L170.2 356.4 L171.3 355.2 L172.3 353.9 L173.4 352.7 L174.5 351.4 L175.5 350.2 L176.6 348.9 L177.6 347.7 L178.7 346.5 L179.8 345.2 L180.8 344 L181.9 342.8 L182.9 341.6 L184 340.3 L185.1 339.1 L186.1 337.9 L187.2 336.7 L188.2 335.5 L189.3 334.3 L190.4 333.1 L191.4 332 L192.5 330.8 L193.5 329.6 L194.6 328.4 L195.7 327.3 L196.7 326.1 L197.8 325 L198.8 323.8 L199.9 322.7 L201 321.5 L202 320.4 L203.1 319.3 L204.1 318.1 L205.2 317 L206.3 315.9 L207.3 314.7 L208.4 313.6 L209.4 312.5 L210.5 311.3 L211.6 310.2 L212.6 309 L213.7 307.9 L214.7 306.7 L215.8 305.5 L216.9 304.3 L217.9 303.2 L219 302 L220 300.8 L221.1 299.6 L222.2 298.3 L223.2 297.1 L224.3 295.9 L225.3 294.6 L226.4 293.3 L227.5 292.1 L228.5 290.8 L229.6 289.5 L230.6 288.2 L231.7 286.9 L232.8 285.6 L233.8 284.3 L234.9 283 L235.9 281.7 L237 280.4 L238.1 279.1 L239.1 277.8 L240.2 276.5 L241.2 275.2 L242.3 273.9 L243.4 272.6 L244.4 271.3 L245.5 270 L246.5 268.7 L247.6 267.4 L248.7 266.1 L249.7 264.8 L250.8 263.6 L251.8 262.3 L252.9 261 L254 259.7 L255 258.5 L256.1 257.2 L257.1 255.9 L258.2 254.7 L259.3 253.4 L260.3 252.1 L261.4 250.9 L262.4 249.6 L263.5 248.3 L264.6 247.1 L265.6 245.8 L266.7 244.5 L267.7 243.2 L268.8 242 L269.9 240.7 L270.9 239.4 L272 238.1 L273 236.9 L274.1 235.6 L275.2 234.3 L276.2 233 L277.3 231.7 L278.3 230.4 L279.4 229.1 L280.5 227.8 L281.5 226.6 L282.6 225.3 L283.6 224 L284.7 222.7 L285.8 221.4 L286.8 220.1 L287.9 218.8 L288.9 217.5 L290 216.2 L291.1 214.9 L292.1 213.6 L293.2 212.3 L294.2 211 L295.3 209.7 L296.4 208.4 L297.4 207.1 L298.5 205.8 L299.5 204.5 L300.6 203.2 L301.7 201.9 L302.7 200.7 L303.8 199.4 L304.8 198.1 L305.9 196.8 L307 195.5 L308 194.3 L309.1 193 L310.1 191.8 L311.2 190.5 L312.3 189.2 L313.3 188 L314.4 186.7 L315.4 185.5 L316.5 184.3 L317.6 183 L318.6 181.8 L319.7 180.6 L320.7 179.4 L321.8 178.1 L322.9 176.9 L323.9 175.7 L325 174.5 L326 173.3 L327.1 172.1 L328.2 170.9 L329.2 169.7 L330.3 168.5 L331.3 167.3 L332.4 166.2 L333.5 165 L334.5 163.8 L335.6 162.7 L336.6 161.5 L337.7 160.4 L338.8 159.2 L339.8 158.1 L340.9 156.9 L341.9 155.8 L343 154.7 L344.1 153.6 L345.1 152.5 L346.2 151.3 L347.2 150.2 L348.3 149.1 L349.4 148.1 L350.4 147 L351.5 145.9 L352.5 144.8 L353.6 143.7 L354.7 142.7 L355.7 141.6 L356.8 140.5 L357.8 139.5 L358.9 138.4 L360 137.4 L361 136.4 L362.1 135.3 L363.1 134.3 L364.2 133.3 L365.3 132.3 L366.3 131.4 L367.4 130.4 L368.4 129.4 L369.5 128.5 L370.6 127.6 L371.6 126.7 L372.7 125.8 L373.7 124.9 L374.8 124.1 L375.9 123.2 L376.9 122.4 L378 121.7 L379 120.9 L380.1 120.1 L381.2 119.4 L382.2 118.7 L383.3 118 L384.3 117.3 L385.4 116.7 L386.5 116 L387.5 115.4 L388.6 114.8 L389.6 114.2 L390.7 113.6 L391.8 113.1 L392.8 112.5 L393.9 112 L394.9 111.4 L396 110.9 L397.1 110.4 L398.1 109.9 L399.2 109.4 L400.2 108.9 L401.3 108.4 L402.4 107.9 L403.4 107.4 L404.5 107 L405.5 106.5 L406.6 106.1 L407.7 105.6 L408.7 105.2 L409.8 104.8 L410.8 104.4 L411.9 104 L413 103.6 L414 103.2 L415.1 102.8 L416.1 102.4 L417.2 102.1 L418.3 101.7 L419.3 101.4 L420.4 101.1 L421.4 100.7 L422.5 100.4 L423.6 100.2 L424.6 99.9 L425.7 99.6 L426.7 99.4 L427.8 99.1 L428.9 98.9 L429.9 98.7 L431 98.5 L432 98.3 L433.1 98.1 L434.2 97.9 L435.2 97.7 L436.3 97.6 L437.3 97.4 L438.4 97.3 L439.5 97.1 L440.5 97 L441.6 96.8 L442.6 96.7 L443.7 96.6 L444.8 96.5 L445.8 96.3 L446.9 96.2 L447.9 96.1 L449 96 L450.1 95.9 L451.1 95.8 L452.2 95.6 L453.2 95.5 L454.3 95.4 L455.4 95.3 L456.4 95.2 L457.5 95.1 L458.5 95 L459.6 94.8 L460.7 94.7 L461.7 94.6 L462.8 94.5 L463.8 94.4 L464.9 94.3 L466 94.1 L467 94 L468.1 93.9 L469.1 93.8 L470.2 93.7 L471.3 93.6 L472.3 93.4 L473.4 93.3 L474.4 93.2 L475.5 93.1 L476.6 93 L477.6 92.9 L478.7 92.7 L479.7 92.6 L480.8 92.5 L481.9 92.4 L482.9 92.3 L484 92.2 L485 92.1 L486.1 92 L487.2 91.9 L488.2 91.7 L489.3 91.6 L490.3 91.5 L491.4 91.5 L492.5 91.4 L493.5 91.3 L494.6 91.2 L495.6 91.1 L496.7 91 L497.8 90.9 L498.8 90.9 L499.9 90.8 L500.9 90.7 L502 90.7 L503.1 90.6 L504.1 90.5 L505.2 90.5 L506.2 90.4 L507.3 90.4 L508.4 90.3 L509.4 90.3 L510.5 90.2 L511.5 90.2 L512.6 90.1 L513.7 90.1 L514.7 90.1 L515.8 90 L516.8 90 L517.9 89.9 L519 89.9 L520 89.9 L521.1 89.8 L522.1 89.8 L523.2 89.7 L524.3 89.7 L525.3 89.7 L526.4 89.6 L527.4 89.6 L528.5 89.6 L529.6 89.5 L530.6 89.5 L531.7 89.5 L532.7 89.4 L533.8 89.4 L534.9 89.4 L535.9 89.3 L537 89.3 L538 89.3 L539.1 89.2 L540.2 89.2 L541.2 89.2 L542.3 89.1 L543.3 89.1 L544.4 89.1 L545.5 89 L546.5 89 L547.6 88.9 L548.6 88.9 L549.7 88.9 L550.8 88.8 L551.8 88.8 L552.9 88.8 L553.9 88.7 L555 88.7 L556.1 88.7 L557.1 88.6 L558.2 88.6 L559.2 88.6 L560.3 88.5 L561.4 88.5 L562.4 88.5 L563.5 88.4 L564.5 88.4 L565.6 88.4 L566.7 88.4 L567.7 88.3 L568.8 88.3 L569.8 88.3 L570.9 88.2 L572 88.2 L573 88.2 L574.1 88.2 L575.1 88.1 L576.2 88.1 L577.3 88.1 L578.3 88.1 L579.4 88 L580.4 88 L581.5 88 L582.6 88 L583.6 87.9 L584.7 87.9 L585.7 87.9 L586.8 87.9 L587.9 87.9 L588.9 87.8 L590 87.8 L591 87.8 L592.1 87.8 L593.2 87.8 L594.2 87.7 L595.3 87.7 L596.3 87.7 L597.4 87.7 L598.5 87.7 L599.5 87.6 L600.6 87.6 L601.6 87.6 L602.7 87.6 L603.8 87.6 L604.8 87.6 L605.9 87.5 L606.9 87.5 L608 87.5 L609.1 87.5 L610.1 87.5 L611.2 87.5 L612.2 87.5 L613.3 87.5 L614.4 87.4 L615.4 87.4 L616.5 87.4 L617.5 87.4" fill="none" stroke="#00a400" stroke-width="2.7" stroke-linejoin="round" stroke-linecap="butt"/></g>
<g id="s-red"><path d="M82.71 424.6h1.18v.4h-1.18zM83.77 424.39h1.18v.45h-1.18zM84.83 424.08h1.18v.51h-1.18zM85.89 423.7h1.18v.57h-1.18zM86.95 423.27h1.18v.63h-1.18zM88.01 422.78h1.18v.69h-1.18zM89.07 422.16h1.18v.75h-1.18zM90.13 421.43h1.18v.81h-1.18zM91.19 420.65h1.18v.87h-1.18zM92.25 419.87h1.18v.93h-1.18zM93.31 419.08h1.18v.99h-1.18zM94.37 418.26h1.18v1.05h-1.18zM95.43 417.41h1.18v1.11h-1.18zM96.49 416.5h1.18v1.17h-1.18zM97.55 415.54h1.18v1.23h-1.18zM98.61 414.49h1.18v1.29h-1.18zM99.67 413.36h1.18v1.35h-1.18zM100.73 412.13h1.18v1.41h-1.18zM101.79 410.8h1.18v1.47h-1.18zM102.85 409.36h1.18v1.53h-1.18zM103.91 407.84h1.18v1.59h-1.18zM104.97 406.21h1.18v1.65h-1.18zM106.03 404.5h1.18v1.71h-1.18zM107.09 402.68h1.18v1.77h-1.18zM108.15 400.71h1.18v1.83h-1.18zM109.21 398.61h1.18v1.88h-1.18zM110.27 396.44h1.18v1.94h-1.18zM111.33 394.22h1.18v2h-1.18zM112.39 391.98h1.18v2.06h-1.18zM113.45 389.75h1.18v2.12h-1.18zM114.51 387.53h1.18v2.18h-1.18zM115.57 385.29h1.18v2.24h-1.18zM116.63 383.03h1.18v2.3h-1.18zM117.69 380.75h1.18v2.36h-1.18zM118.75 378.44h1.18v2.41h-1.18zM119.81 376.12h1.18v2.47h-1.18zM120.87 373.77h1.18v2.53h-1.18zM121.93 371.41h1.18v2.59h-1.18zM122.99 369.03h1.18v2.65h-1.18zM124.05 366.65h1.18v2.71h-1.18zM125.11 364.25h1.18v2.76h-1.18zM126.17 361.84h1.18v2.82h-1.18zM127.23 359.43h1.18v2.88h-1.18zM128.29 357h1.18v2.94h-1.18zM129.35 354.56h1.18v3h-1.18zM130.41 352.12h1.18v3.05h-1.18zM131.47 349.67h1.18v3.11h-1.18zM132.53 347.22h1.18v3.17h-1.18zM133.59 344.76h1.18v3.23h-1.18zM134.65 342.3h1.18v3.29h-1.18zM135.71 339.84h1.18v3.34h-1.18zM136.77 337.38h1.18v3.4h-1.18zM137.83 334.92h1.18v3.46h-1.18zM138.89 332.46h1.18v3.52h-1.18zM139.95 330h1.18v3.58h-1.18zM141.01 327.54h1.18v3.63h-1.18zM142.07 325.07h1.18v3.69h-1.18zM143.13 322.61h1.18v3.75h-1.18zM144.19 320.14h1.18v3.81h-1.18zM145.25 317.67h1.18v3.86h-1.18zM146.31 315.2h1.18v3.92h-1.18zM147.37 312.72h1.18v3.98h-1.18zM148.43 310.23h1.18v4.04h-1.18zM149.49 307.74h1.18v4.1h-1.18zM150.55 305.24h1.18v4.15h-1.18zM151.61 302.73h1.18v4.21h-1.18zM152.67 300.21h1.18v4.27h-1.18zM153.73 297.68h1.18v4.33h-1.18zM154.79 295.15h1.18v4.38h-1.18zM155.85 292.6h1.18v4.44h-1.18zM156.91 290.05h1.18v4.5h-1.18zM157.97 287.5h1.18v4.55h-1.18zM159.03 284.94h1.18v4.61h-1.18zM160.09 282.38h1.18v4.67h-1.18zM161.15 279.81h1.18v4.72h-1.18zM162.21 277.25h1.18v4.78h-1.18zM163.27 274.68h1.18v4.84h-1.18zM164.33 272.12h1.18v4.89h-1.18zM165.39 269.57h1.18v4.95h-1.18zM166.45 267.02h1.18v5.01h-1.18zM167.51 264.47h1.18v5.06h-1.18zM168.57 261.94h1.18v5.12h-1.18zM169.63 259.41h1.18v5.18h-1.18zM170.69 256.89h1.18v5.23h-1.18zM171.75 254.39h1.18v5.29h-1.18zM172.81 251.89h1.18v5.34h-1.18zM173.87 249.4h1.18v5.4h-1.18zM174.93 246.92h1.18v5.46h-1.18zM175.99 244.46h1.18v5.51h-1.18zM177.05 242h1.18v5.57h-1.18zM178.11 239.56h1.18v5.62h-1.18zM179.17 237.13h1.18v5.68h-1.18zM180.23 234.71h1.18v5.73h-1.18zM181.29 232.3h1.18v5.79h-1.18zM182.35 229.92h1.18v5.84h-1.18zM183.41 227.55h1.18v5.89h-1.18zM184.47 225.2h1.18v5.95h-1.18zM185.53 222.87h1.18v6h-1.18zM186.59 220.56h1.18v6.06h-1.18zM187.65 218.27h1.18v6.11h-1.18zM188.71 216.01h1.18v6.16h-1.18zM189.77 213.78h1.18v6.22h-1.18zM190.83 211.58h1.18v6.27h-1.18zM191.89 209.4h1.18v6.33h-1.18zM192.95 207.26h1.18v6.38h-1.18zM194.01 205.14h1.18v6.44h-1.18zM195.07 203.04h1.18v6.49h-1.18zM196.13 200.98h1.18v6.55h-1.18zM197.19 198.94h1.18v6.61h-1.18zM198.25 196.93h1.18v6.67h-1.18zM199.31 194.93h1.18v6.72h-1.18zM200.37 192.96h1.18v6.78h-1.18zM201.43 191.01h1.18v6.84h-1.18zM202.49 189.07h1.18v6.9h-1.18zM203.55 187.15h1.18v6.96h-1.18zM204.61 185.24h1.18v7.01h-1.18zM205.67 183.34h1.18v7.07h-1.18zM206.73 181.46h1.18v7.13h-1.18zM207.79 179.58h1.18v7.19h-1.18zM208.85 177.72h1.18v7.25h-1.18zM209.91 175.86h1.18v7.3h-1.18zM210.97 174.01h1.18v7.36h-1.18zM212.03 172.16h1.18v7.42h-1.18zM213.09 170.33h1.18v7.47h-1.18zM214.15 168.5h1.18v7.53h-1.18zM215.21 166.69h1.18v7.59h-1.18zM216.27 164.88h1.18v7.64h-1.18zM217.33 163.09h1.18v7.7h-1.18zM218.39 161.31h1.18v7.75h-1.18zM219.45 159.55h1.18v7.8h-1.18zM220.51 157.8h1.18v7.86h-1.18zM221.57 156.07h1.18v7.91h-1.18zM222.63 154.37h1.18v7.96h-1.18zM223.69 152.69h1.18v8.01h-1.18zM224.75 151.04h1.18v8.06h-1.18zM225.81 149.42h1.18v8.1h-1.18zM226.87 147.82h1.18v8.15h-1.18zM227.93 146.26h1.18v8.19h-1.18zM228.99 144.72h1.18v8.24h-1.18zM230.05 143.22h1.18v8.28h-1.18zM231.11 141.73h1.18v8.32h-1.18zM232.17 140.28h1.18v8.36h-1.18zM233.23 138.84h1.18v8.4h-1.18zM234.29 137.43h1.18v8.44h-1.18zM235.35 136.03h1.18v8.48h-1.18zM236.41 134.65h1.18v8.51h-1.18zM237.47 133.29h1.18v8.54h-1.18zM238.53 131.93h1.18v8.58h-1.18zM239.59 130.6h1.18v8.6h-1.18zM240.65 129.27h1.18v8.63h-1.18zM241.71 127.96h1.18v8.66h-1.18zM242.77 126.66h1.18v8.69h-1.18zM243.83 125.39h1.18v8.72h-1.18zM244.89 124.13h1.18v8.75h-1.18zM245.95 122.89h1.18v8.78h-1.18zM247.01 121.68h1.18v8.81h-1.18zM248.07 120.48h1.18v8.84h-1.18zM249.13 119.32h1.18v8.87h-1.18zM250.19 118.18h1.18v8.9h-1.18zM251.25 117.07h1.18v8.93h-1.18zM252.31 115.99h1.18v8.95h-1.18zM253.37 114.93h1.18v8.98h-1.18zM254.43 113.91h1.18v9h-1.18zM255.49 112.9h1.18v9.03h-1.18zM256.55 111.92h1.18v9.05h-1.18zM257.61 110.97h1.18v9.07h-1.18zM258.67 110.04h1.18v9.09h-1.18zM259.73 109.13h1.18v9.11h-1.18zM260.79 108.25h1.18v9.13h-1.18zM261.85 107.38h1.18v9.14h-1.18zM262.91 106.53h1.18v9.16h-1.18zM263.97 105.7h1.18v9.17h-1.18zM265.03 104.89h1.18v9.18h-1.18zM266.09 104.1h1.18v9.19h-1.18zM267.15 103.32h1.18v9.19h-1.18zM268.21 102.55h1.18v9.2h-1.18zM269.27 101.8h1.18v9.2h-1.18zM270.33 101.07h1.18v9.2h-1.18zM271.39 100.35h1.18v9.19h-1.18zM272.45 99.64h1.18v9.17h-1.18zM273.51 98.95h1.18v9.15h-1.18zM274.57 98.27h1.18v9.12h-1.18zM275.63 97.6h1.18v9.09h-1.18zM276.69 96.95h1.18v9.05h-1.18zM277.75 96.31h1.18v9.01h-1.18zM278.81 95.68h1.18v8.96h-1.18zM279.87 95.07h1.18v8.91h-1.18zM280.93 94.47h1.18v8.85h-1.18zM281.99 93.88h1.18v8.79h-1.18zM283.05 93.3h1.18v8.73h-1.18zM284.11 92.73h1.18v8.66h-1.18zM285.17 92.18h1.18v8.59h-1.18zM286.23 91.65h1.18v8.52h-1.18zM287.29 91.12h1.18v8.45h-1.18zM288.35 90.61h1.18v8.38h-1.18zM289.41 90.11h1.18v8.3h-1.18zM290.47 89.63h1.18v8.23h-1.18zM291.53 89.16h1.18v8.15h-1.18zM292.59 88.7h1.18v8.07h-1.18zM293.65 88.25h1.18v8h-1.18zM294.71 87.82h1.18v7.92h-1.18zM295.77 87.4h1.18v7.85h-1.18zM296.83 86.99h1.18v7.77h-1.18zM297.89 86.59h1.18v7.7h-1.18zM298.95 86.2h1.18v7.63h-1.18zM300.01 85.82h1.18v7.56h-1.18zM301.07 85.46h1.18v7.49h-1.18zM302.13 85.1h1.18v7.42h-1.18zM303.19 84.76h1.18v7.34h-1.18zM304.25 84.42h1.18v7.26h-1.18zM305.31 84.1h1.18v7.18h-1.18zM306.37 83.78h1.18v7.1h-1.18zM307.43 83.46h1.18v7.02h-1.18zM308.49 83.15h1.18v6.93h-1.18zM309.55 82.85h1.18v6.84h-1.18zM310.61 82.55h1.18v6.76h-1.18zM311.67 82.25h1.18v6.67h-1.18zM312.73 81.96h1.18v6.58h-1.18zM313.79 81.67h1.18v6.49h-1.18zM314.85 81.39h1.18v6.4h-1.18zM315.91 81.11h1.18v6.31h-1.18zM316.97 80.83h1.18v6.22h-1.18zM318.03 80.57h1.18v6.13h-1.18zM319.09 80.3h1.18v6.04h-1.18zM320.15 80.05h1.18v5.95h-1.18zM321.21 79.8h1.18v5.86h-1.18zM322.27 79.56h1.18v5.77h-1.18zM323.33 79.32h1.18v5.69h-1.18zM324.39 79.09h1.18v5.6h-1.18zM325.45 78.88h1.18v5.52h-1.18zM326.51 78.67h1.18v5.43h-1.18zM327.57 78.47h1.18v5.33h-1.18zM328.63 78.27h1.18v5.24h-1.18zM329.69 78.09h1.18v5.15h-1.18zM330.75 77.91h1.18v5.05h-1.18zM331.81 77.74h1.18v4.95h-1.18zM332.87 77.58h1.18v4.85h-1.18zM333.93 77.42h1.18v4.75h-1.18zM334.99 77.27h1.18v4.65h-1.18zM336.05 77.12h1.18v4.55h-1.18zM337.11 76.97h1.18v4.44h-1.18zM338.17 76.84h1.18v4.34h-1.18zM339.23 76.7h1.18v4.24h-1.18zM340.29 76.57h1.18v4.14h-1.18zM341.35 76.45h1.18v4.04h-1.18zM342.41 76.33h1.18v3.95h-1.18zM343.47 76.21h1.18v3.85h-1.18zM344.53 76.09h1.18v3.76h-1.18zM345.59 75.98h1.18v3.66h-1.18zM346.65 75.88h1.18v3.58h-1.18zM347.71 75.77h1.18v3.49h-1.18zM348.77 75.67h1.18v3.41h-1.18zM349.83 75.57h1.18v3.33h-1.18zM350.89 75.47h1.18v3.25h-1.18zM351.95 75.38h1.18v3.18h-1.18zM353.01 75.28h1.18v3.11h-1.18zM354.07 75.19h1.18v3.04h-1.18zM355.13 75.1h1.18v2.99h-1.18zM356.19 75.01h1.18v2.93h-1.18zM357.25 74.92h1.18v2.88h-1.18zM358.31 74.83h1.18v2.84h-1.18zM359.37 74.74h1.18v2.8h-1.18zM360.43 74.65h1.18v2.77h-1.18zM361.49 74.57h1.18v2.73h-1.18zM362.55 74.48h1.18v2.7h-1.18zM363.61 74.4h1.18v2.67h-1.18zM364.67 74.32h1.18v2.64h-1.18zM365.73 74.24h1.18v2.62h-1.18zM366.79 74.16h1.18v2.59h-1.18zM367.85 74.09h1.18v2.56h-1.18zM368.91 74.01h1.18v2.54h-1.18zM369.97 73.94h1.18v2.51h-1.18zM371.03 73.87h1.18v2.49h-1.18zM372.09 73.81h1.18v2.47h-1.18zM373.15 73.74h1.18v2.44h-1.18zM374.21 73.68h1.18v2.42h-1.18zM375.27 73.62h1.18v2.4h-1.18zM376.33 73.56h1.18v2.38h-1.18zM377.39 73.51h1.18v2.36h-1.18zM378.45 73.46h1.18v2.34h-1.18zM379.51 73.4h1.18v2.32h-1.18zM380.57 73.35h1.18v2.31h-1.18zM381.63 73.3h1.18v2.29h-1.18zM382.69 73.26h1.18v2.27h-1.18zM383.75 73.21h1.18v2.25h-1.18zM384.81 73.17h1.18v2.24h-1.18zM385.87 73.13h1.18v2.22h-1.18zM386.93 73.09h1.18v2.2h-1.18zM387.99 73.05h1.18v2.19h-1.18zM389.05 73.01h1.18v2.17h-1.18zM390.11 72.97h1.18v2.15h-1.18zM391.17 72.93h1.18v2.14h-1.18zM392.23 72.9h1.18v2.12h-1.18zM393.29 72.86h1.18v2.1h-1.18zM394.35 72.83h1.18v2.08h-1.18zM395.41 72.8h1.18v2.07h-1.18zM396.47 72.77h1.18v2.05h-1.18zM397.53 72.74h1.18v2.03h-1.18zM398.59 72.71h1.18v2.01h-1.18zM399.65 72.68h1.18v2h-1.18zM400.71 72.65h1.18v1.98h-1.18zM401.77 72.63h1.18v1.96h-1.18zM402.83 72.6h1.18v1.94h-1.18zM403.89 72.57h1.18v1.92h-1.18zM404.95 72.55h1.18v1.9h-1.18zM406.01 72.52h1.18v1.89h-1.18zM407.07 72.5h1.18v1.87h-1.18zM408.13 72.47h1.18v1.85h-1.18zM409.19 72.45h1.18v1.83h-1.18zM410.25 72.43h1.18v1.81h-1.18zM411.31 72.4h1.18v1.79h-1.18zM412.37 72.38h1.18v1.78h-1.18zM413.43 72.36h1.18v1.76h-1.18zM414.49 72.34h1.18v1.74h-1.18zM415.55 72.32h1.18v1.72h-1.18zM416.61 72.3h1.18v1.71h-1.18zM417.67 72.28h1.18v1.69h-1.18zM418.73 72.26h1.18v1.67h-1.18zM419.79 72.24h1.18v1.65h-1.18zM420.85 72.22h1.18v1.64h-1.18zM421.91 72.2h1.18v1.62h-1.18zM422.97 72.19h1.18v1.6h-1.18zM424.03 72.17h1.18v1.58h-1.18zM425.09 72.15h1.18v1.57h-1.18zM426.15 72.14h1.18v1.55h-1.18zM427.21 72.12h1.18v1.53h-1.18zM428.27 72.11h1.18v1.52h-1.18zM429.33 72.09h1.18v1.5h-1.18zM430.39 72.08h1.18v1.48h-1.18zM431.45 72.06h1.18v1.47h-1.18zM432.51 72.05h1.18v1.45h-1.18zM433.57 72.04h1.18v1.43h-1.18zM434.63 72.03h1.18v1.42h-1.18zM435.69 72.01h1.18v1.4h-1.18zM436.75 72h1.18v1.38h-1.18zM437.81 71.99h1.18v1.37h-1.18zM438.87 71.98h1.18v1.35h-1.18zM439.93 71.97h1.18v1.34h-1.18zM440.99 71.96h1.18v1.32h-1.18zM442.05 71.95h1.18v1.31h-1.18zM443.11 71.94h1.18v1.29h-1.18zM444.17 71.93h1.18v1.27h-1.18zM445.23 71.92h1.18v1.26h-1.18zM446.29 71.91h1.18v1.24h-1.18zM447.35 71.9h1.18v1.23h-1.18zM448.41 71.89h1.18v1.21h-1.18zM449.47 71.88h1.18v1.2h-1.18zM450.53 71.87h1.18v1.18h-1.18zM451.59 71.87h1.18v1.17h-1.18zM452.65 71.86h1.18v1.15h-1.18zM453.71 71.85h1.18v1.14h-1.18zM454.77 71.85h1.18v1.13h-1.18zM455.83 71.84h1.18v1.11h-1.18zM456.89 71.83h1.18v1.1h-1.18zM457.95 71.83h1.18v1.08h-1.18zM459.01 71.82h1.18v1.07h-1.18zM460.07 71.82h1.18v1.06h-1.18zM461.13 71.81h1.18v1.04h-1.18zM462.19 71.81h1.18v1.03h-1.18zM463.25 71.8h1.18v1.01h-1.18zM463.91 71.8h1.18v1.01h-1.18z" fill="#dc3030" fill-opacity="0.17"/>
<path d="M82.2 424.2h2.2v.8h-2.2zM82.2 424.6h2.2v.8h-2.2zM83.26 423.99h2.2v.8h-2.2zM83.26 424.44h2.2v.8h-2.2zM84.32 423.68h2.2v.8h-2.2zM84.32 424.19h2.2v.8h-2.2zM85.38 423.3h2.2v.8h-2.2zM85.38 423.87h2.2v.8h-2.2zM86.44 422.87h2.2v.8h-2.2zM86.44 423.5h2.2v.8h-2.2zM87.5 422.38h2.2v.8h-2.2zM87.5 423.07h2.2v.8h-2.2zM88.56 421.76h2.2v.8h-2.2zM88.56 422.51h2.2v.8h-2.2zM89.62 421.03h2.2v.8h-2.2zM89.62 421.84h2.2v.8h-2.2zM90.68 420.25h2.2v.8h-2.2zM90.68 421.12h2.2v.8h-2.2zM91.74 419.47h2.2v.8h-2.2zM91.74 420.4h2.2v.8h-2.2zM92.8 418.68h2.2v.8h-2.2zM92.8 419.67h2.2v.8h-2.2zM93.86 417.86h2.2v.8h-2.2zM93.86 418.91h2.2v.8h-2.2zM94.92 417.01h2.2v.8h-2.2zM94.92 418.12h2.2v.8h-2.2zM95.98 416.1h2.2v.8h-2.2zM95.98 417.28h2.2v.8h-2.2zM97.04 415.14h2.2v.8h-2.2zM97.04 416.37h2.2v.8h-2.2zM98.1 414.09h2.2v.8h-2.2zM98.1 415.38h2.2v.8h-2.2zM99.16 412.96h2.2v.8h-2.2zM99.16 414.31h2.2v.8h-2.2zM100.22 411.73h2.2v.8h-2.2zM100.22 413.14h2.2v.8h-2.2zM101.28 410.4h2.2v.8h-2.2zM101.28 411.86h2.2v.8h-2.2zM102.34 408.96h2.2v.8h-2.2zM102.34 410.49h2.2v.8h-2.2zM103.4 407.44h2.2v.8h-2.2zM103.4 409.02h2.2v.8h-2.2zM104.46 405.81h2.2v.8h-2.2zM104.46 407.46h2.2v.8h-2.2zM105.52 404.1h2.2v.8h-2.2zM105.52 405.8h2.2v.8h-2.2zM106.58 402.28h2.2v.8h-2.2zM106.58 404.05h2.2v.8h-2.2zM107.64 400.31h2.2v.8h-2.2zM107.64 402.13h2.2v.8h-2.2zM108.7 398.21h2.2v.8h-2.2zM108.7 400.1h2.2v.8h-2.2zM109.76 396.04h2.2v.8h-2.2zM109.76 397.98h2.2v.8h-2.2zM110.82 393.82h2.2v.8h-2.2zM110.82 395.82h2.2v.8h-2.2zM111.88 391.58h2.2v.8h-2.2zM111.88 393.64h2.2v.8h-2.2zM112.94 389.35h2.2v.8h-2.2zM112.94 391.47h2.2v.8h-2.2zM114 387.13h2.2v.8h-2.2zM114 389.31h2.2v.8h-2.2zM115.06 384.89h2.2v.8h-2.2zM115.06 387.13h2.2v.8h-2.2zM116.12 382.63h2.2v.8h-2.2zM116.12 384.93h2.2v.8h-2.2zM117.18 380.35h2.2v.8h-2.2zM117.18 382.7h2.2v.8h-2.2zM118.24 378.04h2.2v.8h-2.2zM118.24 380.46h2.2v.8h-2.2zM119.3 375.72h2.2v.8h-2.2zM119.3 378.19h2.2v.8h-2.2zM120.36 373.37h2.2v.8h-2.2zM120.36 375.9h2.2v.8h-2.2zM121.42 371.01h2.2v.8h-2.2zM121.42 373.6h2.2v.8h-2.2zM122.48 368.63h2.2v.8h-2.2zM122.48 371.28h2.2v.8h-2.2zM123.54 366.25h2.2v.8h-2.2zM123.54 368.95h2.2v.8h-2.2zM124.6 363.85h2.2v.8h-2.2zM124.6 366.62h2.2v.8h-2.2zM125.66 361.44h2.2v.8h-2.2zM125.66 364.27h2.2v.8h-2.2zM126.72 359.03h2.2v.8h-2.2zM126.72 361.91h2.2v.8h-2.2zM127.78 356.6h2.2v.8h-2.2zM127.78 359.54h2.2v.8h-2.2zM128.84 354.16h2.2v.8h-2.2zM128.84 357.16h2.2v.8h-2.2zM129.9 351.72h2.2v.8h-2.2zM129.9 354.77h2.2v.8h-2.2zM130.96 349.27h2.2v.8h-2.2zM130.96 352.38h2.2v.8h-2.2zM132.02 346.82h2.2v.8h-2.2zM132.02 349.99h2.2v.8h-2.2zM133.08 344.36h2.2v.8h-2.2zM133.08 347.59h2.2v.8h-2.2zM134.14 341.9h2.2v.8h-2.2zM134.14 345.19h2.2v.8h-2.2zM135.2 339.44h2.2v.8h-2.2zM135.2 342.79h2.2v.8h-2.2zM136.26 336.98h2.2v.8h-2.2zM136.26 340.38h2.2v.8h-2.2zM137.32 334.52h2.2v.8h-2.2zM137.32 337.98h2.2v.8h-2.2zM138.38 332.06h2.2v.8h-2.2zM138.38 335.58h2.2v.8h-2.2zM139.44 329.6h2.2v.8h-2.2zM139.44 333.17h2.2v.8h-2.2zM140.5 327.14h2.2v.8h-2.2zM140.5 330.77h2.2v.8h-2.2zM141.56 324.67h2.2v.8h-2.2zM141.56 328.37h2.2v.8h-2.2zM142.62 322.21h2.2v.8h-2.2zM142.62 325.96h2.2v.8h-2.2zM143.68 319.74h2.2v.8h-2.2zM143.68 323.55h2.2v.8h-2.2zM144.74 317.27h2.2v.8h-2.2zM144.74 321.14h2.2v.8h-2.2zM145.8 314.8h2.2v.8h-2.2zM145.8 318.72h2.2v.8h-2.2zM146.86 312.32h2.2v.8h-2.2zM146.86 316.3h2.2v.8h-2.2zM147.92 309.83h2.2v.8h-2.2zM147.92 313.87h2.2v.8h-2.2zM148.98 307.34h2.2v.8h-2.2zM148.98 311.44h2.2v.8h-2.2zM150.04 304.84h2.2v.8h-2.2zM150.04 308.99h2.2v.8h-2.2zM151.1 302.33h2.2v.8h-2.2zM151.1 306.54h2.2v.8h-2.2zM152.16 299.81h2.2v.8h-2.2zM152.16 304.08h2.2v.8h-2.2zM153.22 297.28h2.2v.8h-2.2zM153.22 301.61h2.2v.8h-2.2zM154.28 294.75h2.2v.8h-2.2zM154.28 299.13h2.2v.8h-2.2zM155.34 292.2h2.2v.8h-2.2zM155.34 296.64h2.2v.8h-2.2zM156.4 289.65h2.2v.8h-2.2zM156.4 294.15h2.2v.8h-2.2zM157.46 287.1h2.2v.8h-2.2zM157.46 291.65h2.2v.8h-2.2zM158.52 284.54h2.2v.8h-2.2zM158.52 289.15h2.2v.8h-2.2zM159.58 281.98h2.2v.8h-2.2zM159.58 286.64h2.2v.8h-2.2zM160.64 279.41h2.2v.8h-2.2zM160.64 284.14h2.2v.8h-2.2zM161.7 276.85h2.2v.8h-2.2zM161.7 281.63h2.2v.8h-2.2zM162.76 274.28h2.2v.8h-2.2zM162.76 279.12h2.2v.8h-2.2zM163.82 271.72h2.2v.8h-2.2zM163.82 276.62h2.2v.8h-2.2zM164.88 269.17h2.2v.8h-2.2zM164.88 274.12h2.2v.8h-2.2zM165.94 266.62h2.2v.8h-2.2zM165.94 271.63h2.2v.8h-2.2zM167 264.07h2.2v.8h-2.2zM167 269.14h2.2v.8h-2.2zM168.06 261.54h2.2v.8h-2.2zM168.06 266.66h2.2v.8h-2.2zM169.12 259.01h2.2v.8h-2.2zM169.12 264.19h2.2v.8h-2.2zM170.18 256.49h2.2v.8h-2.2zM170.18 261.73h2.2v.8h-2.2zM171.24 253.99h2.2v.8h-2.2zM171.24 259.27h2.2v.8h-2.2zM172.3 251.49h2.2v.8h-2.2zM172.3 256.83h2.2v.8h-2.2zM173.36 249h2.2v.8h-2.2zM173.36 254.4h2.2v.8h-2.2zM174.42 246.52h2.2v.8h-2.2zM174.42 251.98h2.2v.8h-2.2zM175.48 244.06h2.2v.8h-2.2zM175.48 249.57h2.2v.8h-2.2zM176.54 241.6h2.2v.8h-2.2zM176.54 247.17h2.2v.8h-2.2zM177.6 239.16h2.2v.8h-2.2zM177.6 244.78h2.2v.8h-2.2zM178.66 236.73h2.2v.8h-2.2zM178.66 242.4h2.2v.8h-2.2zM179.72 234.31h2.2v.8h-2.2zM179.72 240.04h2.2v.8h-2.2zM180.78 231.9h2.2v.8h-2.2zM180.78 237.69h2.2v.8h-2.2zM181.84 229.52h2.2v.8h-2.2zM181.84 235.36h2.2v.8h-2.2zM182.9 227.15h2.2v.8h-2.2zM182.9 233.04h2.2v.8h-2.2zM183.96 224.8h2.2v.8h-2.2zM183.96 230.74h2.2v.8h-2.2zM185.02 222.47h2.2v.8h-2.2zM185.02 228.47h2.2v.8h-2.2zM186.08 220.16h2.2v.8h-2.2zM186.08 226.21h2.2v.8h-2.2zM187.14 217.87h2.2v.8h-2.2zM187.14 223.98h2.2v.8h-2.2zM188.2 215.61h2.2v.8h-2.2zM188.2 221.78h2.2v.8h-2.2zM189.26 213.38h2.2v.8h-2.2zM189.26 219.6h2.2v.8h-2.2zM190.32 211.18h2.2v.8h-2.2zM190.32 217.45h2.2v.8h-2.2zM191.38 209h2.2v.8h-2.2zM191.38 215.33h2.2v.8h-2.2zM192.44 206.86h2.2v.8h-2.2zM192.44 213.24h2.2v.8h-2.2zM193.5 204.74h2.2v.8h-2.2zM193.5 211.17h2.2v.8h-2.2zM194.56 202.64h2.2v.8h-2.2zM194.56 209.14h2.2v.8h-2.2zM195.62 200.58h2.2v.8h-2.2zM195.62 207.13h2.2v.8h-2.2zM196.68 198.54h2.2v.8h-2.2zM196.68 205.15h2.2v.8h-2.2zM197.74 196.53h2.2v.8h-2.2zM197.74 203.19h2.2v.8h-2.2zM198.8 194.53h2.2v.8h-2.2zM198.8 201.26h2.2v.8h-2.2zM199.86 192.56h2.2v.8h-2.2zM199.86 199.34h2.2v.8h-2.2zM200.92 190.61h2.2v.8h-2.2zM200.92 197.45h2.2v.8h-2.2zM201.98 188.67h2.2v.8h-2.2zM201.98 195.57h2.2v.8h-2.2zM203.04 186.75h2.2v.8h-2.2zM203.04 193.7h2.2v.8h-2.2zM204.1 184.84h2.2v.8h-2.2zM204.1 191.85h2.2v.8h-2.2zM205.16 182.94h2.2v.8h-2.2zM205.16 190.02h2.2v.8h-2.2zM206.22 181.06h2.2v.8h-2.2zM206.22 188.19h2.2v.8h-2.2zM207.28 179.18h2.2v.8h-2.2zM207.28 186.37h2.2v.8h-2.2zM208.34 177.32h2.2v.8h-2.2zM208.34 184.56h2.2v.8h-2.2zM209.4 175.46h2.2v.8h-2.2zM209.4 182.76h2.2v.8h-2.2zM210.46 173.61h2.2v.8h-2.2zM210.46 180.97h2.2v.8h-2.2zM211.52 171.76h2.2v.8h-2.2zM211.52 179.18h2.2v.8h-2.2zM212.58 169.93h2.2v.8h-2.2zM212.58 177.4h2.2v.8h-2.2zM213.64 168.1h2.2v.8h-2.2zM213.64 175.63h2.2v.8h-2.2zM214.7 166.29h2.2v.8h-2.2zM214.7 173.87h2.2v.8h-2.2zM215.76 164.48h2.2v.8h-2.2zM215.76 172.12h2.2v.8h-2.2zM216.82 162.69h2.2v.8h-2.2zM216.82 170.39h2.2v.8h-2.2zM217.88 160.91h2.2v.8h-2.2zM217.88 168.66h2.2v.8h-2.2zM218.94 159.15h2.2v.8h-2.2zM218.94 166.95h2.2v.8h-2.2zM220 157.4h2.2v.8h-2.2zM220 165.25h2.2v.8h-2.2zM221.06 155.67h2.2v.8h-2.2zM221.06 163.58h2.2v.8h-2.2zM222.12 153.97h2.2v.8h-2.2zM222.12 161.93h2.2v.8h-2.2zM223.18 152.29h2.2v.8h-2.2zM223.18 160.3h2.2v.8h-2.2zM224.24 150.64h2.2v.8h-2.2zM224.24 158.7h2.2v.8h-2.2zM225.3 149.02h2.2v.8h-2.2zM225.3 157.12h2.2v.8h-2.2zM226.36 147.42h2.2v.8h-2.2zM226.36 155.57h2.2v.8h-2.2zM227.42 145.86h2.2v.8h-2.2zM227.42 154.05h2.2v.8h-2.2zM228.48 144.32h2.2v.8h-2.2zM228.48 152.56h2.2v.8h-2.2zM229.54 142.82h2.2v.8h-2.2zM229.54 151.1h2.2v.8h-2.2zM230.6 141.33h2.2v.8h-2.2zM230.6 149.66h2.2v.8h-2.2zM231.66 139.88h2.2v.8h-2.2zM231.66 148.24h2.2v.8h-2.2zM232.72 138.44h2.2v.8h-2.2zM232.72 146.85h2.2v.8h-2.2zM233.78 137.03h2.2v.8h-2.2zM233.78 145.47h2.2v.8h-2.2zM234.84 135.63h2.2v.8h-2.2zM234.84 144.11h2.2v.8h-2.2zM235.9 134.25h2.2v.8h-2.2zM235.9 142.76h2.2v.8h-2.2zM236.96 132.89h2.2v.8h-2.2zM236.96 141.43h2.2v.8h-2.2zM238.02 131.53h2.2v.8h-2.2zM238.02 140.11h2.2v.8h-2.2zM239.08 130.2h2.2v.8h-2.2zM239.08 138.8h2.2v.8h-2.2zM240.14 128.87h2.2v.8h-2.2zM240.14 137.51h2.2v.8h-2.2zM241.2 127.56h2.2v.8h-2.2zM241.2 136.22h2.2v.8h-2.2zM242.26 126.26h2.2v.8h-2.2zM242.26 134.96h2.2v.8h-2.2zM243.32 124.99h2.2v.8h-2.2zM243.32 133.71h2.2v.8h-2.2zM244.38 123.73h2.2v.8h-2.2zM244.38 132.48h2.2v.8h-2.2zM245.44 122.49h2.2v.8h-2.2zM245.44 131.27h2.2v.8h-2.2zM246.5 121.28h2.2v.8h-2.2zM246.5 130.09h2.2v.8h-2.2zM247.56 120.08h2.2v.8h-2.2zM247.56 128.93h2.2v.8h-2.2zM248.62 118.92h2.2v.8h-2.2zM248.62 127.79h2.2v.8h-2.2zM249.68 117.78h2.2v.8h-2.2zM249.68 126.68h2.2v.8h-2.2zM250.74 116.67h2.2v.8h-2.2zM250.74 125.6h2.2v.8h-2.2zM251.8 115.59h2.2v.8h-2.2zM251.8 124.54h2.2v.8h-2.2zM252.86 114.53h2.2v.8h-2.2zM252.86 123.51h2.2v.8h-2.2zM253.92 113.51h2.2v.8h-2.2zM253.92 122.51h2.2v.8h-2.2zM254.98 112.5h2.2v.8h-2.2zM254.98 121.53h2.2v.8h-2.2zM256.04 111.52h2.2v.8h-2.2zM256.04 120.57h2.2v.8h-2.2zM257.1 110.57h2.2v.8h-2.2zM257.1 119.64h2.2v.8h-2.2zM258.16 109.64h2.2v.8h-2.2zM258.16 118.73h2.2v.8h-2.2zM259.22 108.73h2.2v.8h-2.2zM259.22 117.84h2.2v.8h-2.2zM260.28 107.85h2.2v.8h-2.2zM260.28 116.97h2.2v.8h-2.2zM261.34 106.98h2.2v.8h-2.2zM261.34 116.12h2.2v.8h-2.2zM262.4 106.13h2.2v.8h-2.2zM262.4 115.29h2.2v.8h-2.2zM263.46 105.3h2.2v.8h-2.2zM263.46 114.47h2.2v.8h-2.2zM264.52 104.49h2.2v.8h-2.2zM264.52 113.67h2.2v.8h-2.2zM265.58 103.7h2.2v.8h-2.2zM265.58 112.88h2.2v.8h-2.2zM266.64 102.92h2.2v.8h-2.2zM266.64 112.11h2.2v.8h-2.2zM267.7 102.15h2.2v.8h-2.2zM267.7 111.35h2.2v.8h-2.2zM268.76 101.4h2.2v.8h-2.2zM268.76 110.6h2.2v.8h-2.2zM269.82 100.67h2.2v.8h-2.2zM269.82 109.86h2.2v.8h-2.2zM270.88 99.95h2.2v.8h-2.2zM270.88 109.13h2.2v.8h-2.2zM271.94 99.24h2.2v.8h-2.2zM271.94 108.41h2.2v.8h-2.2zM273 98.55h2.2v.8h-2.2zM273 107.7h2.2v.8h-2.2zM274.06 97.87h2.2v.8h-2.2zM274.06 106.99h2.2v.8h-2.2zM275.12 97.2h2.2v.8h-2.2zM275.12 106.29h2.2v.8h-2.2zM276.18 96.55h2.2v.8h-2.2zM276.18 105.6h2.2v.8h-2.2zM277.24 95.91h2.2v.8h-2.2zM277.24 104.92h2.2v.8h-2.2zM278.3 95.28h2.2v.8h-2.2zM278.3 104.24h2.2v.8h-2.2zM279.36 94.67h2.2v.8h-2.2zM279.36 103.57h2.2v.8h-2.2zM280.42 94.07h2.2v.8h-2.2zM280.42 102.91h2.2v.8h-2.2zM281.48 93.48h2.2v.8h-2.2zM281.48 102.26h2.2v.8h-2.2zM282.54 92.9h2.2v.8h-2.2zM282.54 101.62h2.2v.8h-2.2zM283.6 92.33h2.2v.8h-2.2zM283.6 101h2.2v.8h-2.2zM284.66 91.78h2.2v.8h-2.2zM284.66 100.38h2.2v.8h-2.2zM285.72 91.25h2.2v.8h-2.2zM285.72 99.77h2.2v.8h-2.2zM286.78 90.72h2.2v.8h-2.2zM286.78 99.17h2.2v.8h-2.2zM287.84 90.21h2.2v.8h-2.2zM287.84 98.59h2.2v.8h-2.2zM288.9 89.71h2.2v.8h-2.2zM288.9 98.01h2.2v.8h-2.2zM289.96 89.23h2.2v.8h-2.2zM289.96 97.45h2.2v.8h-2.2zM291.02 88.76h2.2v.8h-2.2zM291.02 96.91h2.2v.8h-2.2zM292.08 88.3h2.2v.8h-2.2zM292.08 96.37h2.2v.8h-2.2zM293.14 87.85h2.2v.8h-2.2zM293.14 95.85h2.2v.8h-2.2zM294.2 87.42h2.2v.8h-2.2zM294.2 95.34h2.2v.8h-2.2zM295.26 87h2.2v.8h-2.2zM295.26 94.84h2.2v.8h-2.2zM296.32 86.59h2.2v.8h-2.2zM296.32 94.36h2.2v.8h-2.2zM297.38 86.19h2.2v.8h-2.2zM297.38 93.89h2.2v.8h-2.2zM298.44 85.8h2.2v.8h-2.2zM298.44 93.43h2.2v.8h-2.2zM299.5 85.42h2.2v.8h-2.2zM299.5 92.98h2.2v.8h-2.2zM300.56 85.06h2.2v.8h-2.2zM300.56 92.55h2.2v.8h-2.2zM301.62 84.7h2.2v.8h-2.2zM301.62 92.12h2.2v.8h-2.2zM302.68 84.36h2.2v.8h-2.2zM302.68 91.7h2.2v.8h-2.2zM303.74 84.02h2.2v.8h-2.2zM303.74 91.29h2.2v.8h-2.2zM304.8 83.7h2.2v.8h-2.2zM304.8 90.88h2.2v.8h-2.2zM305.86 83.38h2.2v.8h-2.2zM305.86 90.48h2.2v.8h-2.2zM306.92 83.06h2.2v.8h-2.2zM306.92 90.08h2.2v.8h-2.2zM307.98 82.75h2.2v.8h-2.2zM307.98 89.69h2.2v.8h-2.2zM309.04 82.45h2.2v.8h-2.2zM309.04 89.29h2.2v.8h-2.2zM310.1 82.15h2.2v.8h-2.2zM310.1 88.91h2.2v.8h-2.2zM311.16 81.85h2.2v.8h-2.2zM311.16 88.52h2.2v.8h-2.2zM312.22 81.56h2.2v.8h-2.2zM312.22 88.14h2.2v.8h-2.2zM313.28 81.27h2.2v.8h-2.2zM313.28 87.76h2.2v.8h-2.2zM314.34 80.99h2.2v.8h-2.2zM314.34 87.39h2.2v.8h-2.2zM315.4 80.71h2.2v.8h-2.2zM315.4 87.02h2.2v.8h-2.2zM316.46 80.43h2.2v.8h-2.2zM316.46 86.65h2.2v.8h-2.2zM317.52 80.17h2.2v.8h-2.2zM317.52 86.29h2.2v.8h-2.2zM318.58 79.9h2.2v.8h-2.2zM318.58 85.94h2.2v.8h-2.2zM319.64 79.65h2.2v.8h-2.2zM319.64 85.6h2.2v.8h-2.2zM320.7 79.4h2.2v.8h-2.2zM320.7 85.26h2.2v.8h-2.2zM321.76 79.16h2.2v.8h-2.2zM321.76 84.93h2.2v.8h-2.2zM322.82 78.92h2.2v.8h-2.2zM322.82 84.61h2.2v.8h-2.2zM323.88 78.69h2.2v.8h-2.2zM323.88 84.3h2.2v.8h-2.2zM324.94 78.48h2.2v.8h-2.2zM324.94 83.99h2.2v.8h-2.2zM326 78.27h2.2v.8h-2.2zM326 83.69h2.2v.8h-2.2zM327.06 78.07h2.2v.8h-2.2zM327.06 83.4h2.2v.8h-2.2zM328.12 77.87h2.2v.8h-2.2zM328.12 83.11h2.2v.8h-2.2zM329.18 77.69h2.2v.8h-2.2zM329.18 82.83h2.2v.8h-2.2zM330.24 77.51h2.2v.8h-2.2zM330.24 82.56h2.2v.8h-2.2zM331.3 77.34h2.2v.8h-2.2zM331.3 82.29h2.2v.8h-2.2zM332.36 77.18h2.2v.8h-2.2zM332.36 82.03h2.2v.8h-2.2zM333.42 77.02h2.2v.8h-2.2zM333.42 81.77h2.2v.8h-2.2zM334.48 76.87h2.2v.8h-2.2zM334.48 81.51h2.2v.8h-2.2zM335.54 76.72h2.2v.8h-2.2zM335.54 81.26h2.2v.8h-2.2zM336.6 76.57h2.2v.8h-2.2zM336.6 81.02h2.2v.8h-2.2zM337.66 76.44h2.2v.8h-2.2zM337.66 80.78h2.2v.8h-2.2zM338.72 76.3h2.2v.8h-2.2zM338.72 80.54h2.2v.8h-2.2zM339.78 76.17h2.2v.8h-2.2zM339.78 80.32h2.2v.8h-2.2zM340.84 76.05h2.2v.8h-2.2zM340.84 80.09h2.2v.8h-2.2zM341.9 75.93h2.2v.8h-2.2zM341.9 79.87h2.2v.8h-2.2zM342.96 75.81h2.2v.8h-2.2zM342.96 79.66h2.2v.8h-2.2zM344.02 75.69h2.2v.8h-2.2zM344.02 79.45h2.2v.8h-2.2zM345.08 75.58h2.2v.8h-2.2zM345.08 79.25h2.2v.8h-2.2zM346.14 75.48h2.2v.8h-2.2zM346.14 79.05h2.2v.8h-2.2zM347.2 75.37h2.2v.8h-2.2zM347.2 78.86h2.2v.8h-2.2zM348.26 75.27h2.2v.8h-2.2zM348.26 78.68h2.2v.8h-2.2zM349.32 75.17h2.2v.8h-2.2zM349.32 78.5h2.2v.8h-2.2zM350.38 75.07h2.2v.8h-2.2zM350.38 78.32h2.2v.8h-2.2zM351.44 74.98h2.2v.8h-2.2zM351.44 78.16h2.2v.8h-2.2zM352.5 74.88h2.2v.8h-2.2zM352.5 77.99h2.2v.8h-2.2zM353.56 74.79h2.2v.8h-2.2zM353.56 77.84h2.2v.8h-2.2zM354.62 74.7h2.2v.8h-2.2zM354.62 77.69h2.2v.8h-2.2zM355.68 74.61h2.2v.8h-2.2zM355.68 77.54h2.2v.8h-2.2zM356.74 74.52h2.2v.8h-2.2zM356.74 77.4h2.2v.8h-2.2zM357.8 74.43h2.2v.8h-2.2zM357.8 77.27h2.2v.8h-2.2zM358.86 74.34h2.2v.8h-2.2zM358.86 77.14h2.2v.8h-2.2zM359.92 74.25h2.2v.8h-2.2zM359.92 77.02h2.2v.8h-2.2zM360.98 74.17h2.2v.8h-2.2zM360.98 76.9h2.2v.8h-2.2zM362.04 74.08h2.2v.8h-2.2zM362.04 76.78h2.2v.8h-2.2zM363.1 74h2.2v.8h-2.2zM363.1 76.67h2.2v.8h-2.2zM364.16 73.92h2.2v.8h-2.2zM364.16 76.56h2.2v.8h-2.2zM365.22 73.84h2.2v.8h-2.2zM365.22 76.45h2.2v.8h-2.2zM366.28 73.76h2.2v.8h-2.2zM366.28 76.35h2.2v.8h-2.2zM367.34 73.69h2.2v.8h-2.2zM367.34 76.25h2.2v.8h-2.2zM368.4 73.61h2.2v.8h-2.2zM368.4 76.15h2.2v.8h-2.2zM369.46 73.54h2.2v.8h-2.2zM369.46 76.06h2.2v.8h-2.2zM370.52 73.47h2.2v.8h-2.2zM370.52 75.96h2.2v.8h-2.2zM371.58 73.41h2.2v.8h-2.2zM371.58 75.87h2.2v.8h-2.2zM372.64 73.34h2.2v.8h-2.2zM372.64 75.79h2.2v.8h-2.2zM373.7 73.28h2.2v.8h-2.2zM373.7 75.7h2.2v.8h-2.2zM374.76 73.22h2.2v.8h-2.2zM374.76 75.62h2.2v.8h-2.2zM375.82 73.16h2.2v.8h-2.2zM375.82 75.55h2.2v.8h-2.2zM376.88 73.11h2.2v.8h-2.2zM376.88 75.47h2.2v.8h-2.2zM377.94 73.06h2.2v.8h-2.2zM377.94 75.4h2.2v.8h-2.2zM379 73h2.2v.8h-2.2zM379 75.33h2.2v.8h-2.2zM380.06 72.95h2.2v.8h-2.2zM380.06 75.26h2.2v.8h-2.2zM381.12 72.9h2.2v.8h-2.2zM381.12 75.19h2.2v.8h-2.2zM382.18 72.86h2.2v.8h-2.2zM382.18 75.13h2.2v.8h-2.2zM383.24 72.81h2.2v.8h-2.2zM383.24 75.07h2.2v.8h-2.2zM384.3 72.77h2.2v.8h-2.2zM384.3 75h2.2v.8h-2.2zM385.36 72.73h2.2v.8h-2.2zM385.36 74.95h2.2v.8h-2.2zM386.42 72.69h2.2v.8h-2.2zM386.42 74.89h2.2v.8h-2.2zM387.48 72.65h2.2v.8h-2.2zM387.48 74.83h2.2v.8h-2.2zM388.54 72.61h2.2v.8h-2.2zM388.54 74.78h2.2v.8h-2.2zM389.6 72.57h2.2v.8h-2.2zM389.6 74.72h2.2v.8h-2.2zM390.66 72.53h2.2v.8h-2.2zM390.66 74.67h2.2v.8h-2.2zM391.72 72.5h2.2v.8h-2.2zM391.72 74.62h2.2v.8h-2.2zM392.78 72.46h2.2v.8h-2.2zM392.78 74.57h2.2v.8h-2.2zM393.84 72.43h2.2v.8h-2.2zM393.84 74.52h2.2v.8h-2.2zM394.9 72.4h2.2v.8h-2.2zM394.9 74.47h2.2v.8h-2.2zM395.96 72.37h2.2v.8h-2.2zM395.96 74.42h2.2v.8h-2.2zM397.02 72.34h2.2v.8h-2.2zM397.02 74.37h2.2v.8h-2.2zM398.08 72.31h2.2v.8h-2.2zM398.08 74.32h2.2v.8h-2.2zM399.14 72.28h2.2v.8h-2.2zM399.14 74.28h2.2v.8h-2.2zM400.2 72.25h2.2v.8h-2.2zM400.2 74.23h2.2v.8h-2.2zM401.26 72.23h2.2v.8h-2.2zM401.26 74.18h2.2v.8h-2.2zM402.32 72.2h2.2v.8h-2.2zM402.32 74.14h2.2v.8h-2.2zM403.38 72.17h2.2v.8h-2.2zM403.38 74.1h2.2v.8h-2.2zM404.44 72.15h2.2v.8h-2.2zM404.44 74.05h2.2v.8h-2.2zM405.5 72.12h2.2v.8h-2.2zM405.5 74.01h2.2v.8h-2.2zM406.56 72.1h2.2v.8h-2.2zM406.56 73.96h2.2v.8h-2.2zM407.62 72.07h2.2v.8h-2.2zM407.62 73.92h2.2v.8h-2.2zM408.68 72.05h2.2v.8h-2.2zM408.68 73.88h2.2v.8h-2.2zM409.74 72.03h2.2v.8h-2.2zM409.74 73.84h2.2v.8h-2.2zM410.8 72h2.2v.8h-2.2zM410.8 73.8h2.2v.8h-2.2zM411.86 71.98h2.2v.8h-2.2zM411.86 73.76h2.2v.8h-2.2zM412.92 71.96h2.2v.8h-2.2zM412.92 73.72h2.2v.8h-2.2zM413.98 71.94h2.2v.8h-2.2zM413.98 73.68h2.2v.8h-2.2zM415.04 71.92h2.2v.8h-2.2zM415.04 73.64h2.2v.8h-2.2zM416.1 71.9h2.2v.8h-2.2zM416.1 73.6h2.2v.8h-2.2zM417.16 71.88h2.2v.8h-2.2zM417.16 73.57h2.2v.8h-2.2zM418.22 71.86h2.2v.8h-2.2zM418.22 73.53h2.2v.8h-2.2zM419.28 71.84h2.2v.8h-2.2zM419.28 73.49h2.2v.8h-2.2zM420.34 71.82h2.2v.8h-2.2zM420.34 73.46h2.2v.8h-2.2zM421.4 71.8h2.2v.8h-2.2zM421.4 73.42h2.2v.8h-2.2zM422.46 71.79h2.2v.8h-2.2zM422.46 73.39h2.2v.8h-2.2zM423.52 71.77h2.2v.8h-2.2zM423.52 73.35h2.2v.8h-2.2zM424.58 71.75h2.2v.8h-2.2zM424.58 73.32h2.2v.8h-2.2zM425.64 71.74h2.2v.8h-2.2zM425.64 73.29h2.2v.8h-2.2zM426.7 71.72h2.2v.8h-2.2zM426.7 73.25h2.2v.8h-2.2zM427.76 71.71h2.2v.8h-2.2zM427.76 73.22h2.2v.8h-2.2zM428.82 71.69h2.2v.8h-2.2zM428.82 73.19h2.2v.8h-2.2zM429.88 71.68h2.2v.8h-2.2zM429.88 73.16h2.2v.8h-2.2zM430.94 71.66h2.2v.8h-2.2zM430.94 73.13h2.2v.8h-2.2zM432 71.65h2.2v.8h-2.2zM432 73.1h2.2v.8h-2.2zM433.06 71.64h2.2v.8h-2.2zM433.06 73.07h2.2v.8h-2.2zM434.12 71.63h2.2v.8h-2.2zM434.12 73.04h2.2v.8h-2.2zM435.18 71.61h2.2v.8h-2.2zM435.18 73.02h2.2v.8h-2.2zM436.24 71.6h2.2v.8h-2.2zM436.24 72.99h2.2v.8h-2.2zM437.3 71.59h2.2v.8h-2.2zM437.3 72.96h2.2v.8h-2.2zM438.36 71.58h2.2v.8h-2.2zM438.36 72.93h2.2v.8h-2.2zM439.42 71.57h2.2v.8h-2.2zM439.42 72.91h2.2v.8h-2.2zM440.48 71.56h2.2v.8h-2.2zM440.48 72.88h2.2v.8h-2.2zM441.54 71.55h2.2v.8h-2.2zM441.54 72.85h2.2v.8h-2.2zM442.6 71.54h2.2v.8h-2.2zM442.6 72.83h2.2v.8h-2.2zM443.66 71.53h2.2v.8h-2.2zM443.66 72.8h2.2v.8h-2.2zM444.72 71.52h2.2v.8h-2.2zM444.72 72.78h2.2v.8h-2.2zM445.78 71.51h2.2v.8h-2.2zM445.78 72.75h2.2v.8h-2.2zM446.84 71.5h2.2v.8h-2.2zM446.84 72.73h2.2v.8h-2.2zM447.9 71.49h2.2v.8h-2.2zM447.9 72.7h2.2v.8h-2.2zM448.96 71.48h2.2v.8h-2.2zM448.96 72.68h2.2v.8h-2.2zM450.02 71.47h2.2v.8h-2.2zM450.02 72.66h2.2v.8h-2.2zM451.08 71.47h2.2v.8h-2.2zM451.08 72.64h2.2v.8h-2.2zM452.14 71.46h2.2v.8h-2.2zM452.14 72.61h2.2v.8h-2.2zM453.2 71.45h2.2v.8h-2.2zM453.2 72.59h2.2v.8h-2.2zM454.26 71.45h2.2v.8h-2.2zM454.26 72.57h2.2v.8h-2.2zM455.32 71.44h2.2v.8h-2.2zM455.32 72.55h2.2v.8h-2.2zM456.38 71.43h2.2v.8h-2.2zM456.38 72.53h2.2v.8h-2.2zM457.44 71.43h2.2v.8h-2.2zM457.44 72.51h2.2v.8h-2.2zM458.5 71.42h2.2v.8h-2.2zM458.5 72.49h2.2v.8h-2.2zM459.56 71.42h2.2v.8h-2.2zM459.56 72.47h2.2v.8h-2.2zM460.62 71.41h2.2v.8h-2.2zM460.62 72.45h2.2v.8h-2.2zM461.68 71.41h2.2v.8h-2.2zM461.68 72.44h2.2v.8h-2.2zM462.74 71.4h2.2v.8h-2.2zM462.74 72.42h2.2v.8h-2.2zM463.4 71.4h2.2v.8h-2.2zM463.4 72.4h2.2v.8h-2.2z" fill="#d42020" fill-opacity="0.7"/>
<path d="M83.3 424.8h0M84.4 424.6h0M85.4 424.3h0M86.5 424h0M87.5 423.6h0M88.6 423.1h0M89.7 422.5h0M90.7 421.8h0M91.8 421.1h0M92.8 420.3h0M93.9 419.6h0M95 418.8h0M96 418h0M97.1 417.1h0M98.1 416.2h0M99.2 415.1h0M100.3 414h0M101.3 412.8h0M102.4 411.5h0M103.4 410.1h0M104.5 408.6h0M105.6 407h0M106.6 405.4h0M107.7 403.6h0M108.7 401.6h0M109.8 399.6h0M110.9 397.4h0M111.9 395.2h0M113 393h0M114 390.8h0M115.1 388.6h0M116.2 386.4h0M117.2 384.2h0M118.3 381.9h0M119.3 379.7h0M120.4 377.4h0M121.5 375h0M122.5 372.7h0M123.6 370.4h0M124.6 368h0M125.7 365.6h0M126.8 363.3h0M127.8 360.9h0M128.9 358.5h0M129.9 356.1h0M131 353.6h0M132.1 351.2h0M133.1 348.8h0M134.2 346.4h0M135.2 343.9h0M136.3 341.5h0M137.4 339.1h0M138.4 336.7h0M139.5 334.2h0M140.5 331.8h0M141.6 329.4h0M142.7 326.9h0M143.7 324.5h0M144.8 322h0M145.8 319.6h0M146.9 317.2h0M148 314.7h0M149 312.3h0M150.1 309.8h0M151.1 307.3h0M152.2 304.8h0M153.3 302.3h0M154.3 299.8h0M155.4 297.3h0M156.4 294.8h0M157.5 292.3h0M158.6 289.8h0M159.6 287.2h0M160.7 284.7h0M161.7 282.2h0M162.8 279.6h0M163.9 277.1h0M164.9 274.6h0M166 272h0M167 269.5h0M168.1 267h0M169.2 264.5h0M170.2 262h0M171.3 259.5h0M172.3 257h0M173.4 254.6h0M174.5 252.1h0M175.5 249.6h0M176.6 247.2h0M177.6 244.8h0M178.7 242.4h0M179.8 240h0M180.8 237.6h0M181.9 235.2h0M182.9 232.8h0M184 230.5h0M185.1 228.2h0M186.1 225.9h0M187.2 223.6h0M188.2 221.3h0M189.3 219.1h0M190.4 216.9h0M191.4 214.7h0M192.5 212.6h0M193.5 210.4h0M194.6 208.4h0M195.7 206.3h0M196.7 204.3h0M197.8 202.2h0M198.8 200.3h0M199.9 198.3h0M201 196.4h0M202 194.4h0M203.1 192.5h0M204.1 190.6h0M205.2 188.7h0M206.3 186.9h0M207.3 185h0M208.4 183.2h0M209.4 181.3h0M210.5 179.5h0M211.6 177.7h0M212.6 175.9h0M213.7 174.1h0M214.7 172.3h0M215.8 170.5h0M216.9 168.7h0M217.9 166.9h0M219 165.2h0M220 163.4h0M221.1 161.7h0M222.2 160h0M223.2 158.3h0M224.3 156.7h0M225.3 155.1h0M226.4 153.5h0M227.5 151.9h0M228.5 150.4h0M229.6 148.8h0M230.6 147.4h0M231.7 145.9h0M232.8 144.5h0M233.8 143h0M234.9 141.6h0M235.9 140.3h0M237 138.9h0M238.1 137.6h0M239.1 136.2h0M240.2 134.9h0M241.2 133.6h0M242.3 132.3h0M243.4 131h0M244.4 129.7h0M245.5 128.5h0M246.5 127.3h0M247.6 126.1h0M248.7 124.9h0M249.7 123.8h0M250.8 122.6h0M251.8 121.5h0M252.9 120.5h0M254 119.4h0M255 118.4h0M256.1 117.4h0M257.1 116.4h0M258.2 115.5h0M259.3 114.6h0M260.3 113.7h0M261.4 112.8h0M262.4 112h0M263.5 111.1h0M264.6 110.3h0M265.6 109.5h0M266.7 108.7h0M267.7 107.9h0M268.8 107.2h0M269.9 106.4h0M270.9 105.7h0M272 104.9h0M273 104.2h0M274.1 103.5h0M275.2 102.8h0M276.2 102.1h0M277.3 101.5h0M278.3 100.8h0M279.4 100.2h0M280.5 99.5h0M281.5 98.9h0M282.6 98.3h0M283.6 97.7h0M284.7 97.1h0M285.8 96.5h0M286.8 95.9h0M287.9 95.3h0M288.9 94.8h0M290 94.3h0M291.1 93.7h0M292.1 93.2h0M293.2 92.7h0M294.2 92.3h0M295.3 91.8h0M296.4 91.3h0M297.4 90.9h0M298.5 90.4h0M299.5 90h0M300.6 89.6h0M301.7 89.2h0M302.7 88.8h0M303.8 88.4h0M304.8 88.1h0M305.9 87.7h0M307 87.3h0M308 87h0M309.1 86.6h0M310.1 86.3h0M311.2 85.9h0M312.3 85.6h0M313.3 85.3h0M314.4 84.9h0M315.4 84.6h0M316.5 84.3h0M317.6 83.9h0M318.6 83.6h0M319.7 83.3h0M320.7 83h0M321.8 82.7h0M322.9 82.4h0M323.9 82.2h0M325 81.9h0M326 81.6h0M327.1 81.4h0M328.2 81.1h0M329.2 80.9h0M330.3 80.7h0M331.3 80.4h0M332.4 80.2h0M333.5 80h0M334.5 79.8h0M335.6 79.6h0M336.6 79.4h0M337.7 79.2h0M338.8 79h0M339.8 78.8h0M340.9 78.6h0M341.9 78.5h0M343 78.3h0M344.1 78.1h0M345.1 78h0M346.2 77.8h0M347.2 77.7h0M348.3 77.5h0M349.4 77.4h0M350.4 77.2h0M351.5 77.1h0M352.5 77h0M353.6 76.8h0M354.7 76.7h0M355.7 76.6h0M356.8 76.5h0M357.8 76.4h0M358.9 76.3h0M360 76.1h0M361 76h0M362.1 75.9h0M363.1 75.8h0M364.2 75.7h0M365.3 75.6h0M366.3 75.5h0M367.4 75.5h0M368.4 75.4h0M369.5 75.3h0M370.6 75.2h0M371.6 75.1h0M372.7 75h0M373.7 75h0M374.8 74.9h0M375.9 74.8h0M376.9 74.8h0M378 74.7h0M379 74.6h0M380.1 74.6h0M381.2 74.5h0M382.2 74.4h0M383.3 74.4h0M384.3 74.3h0M385.4 74.3h0M386.5 74.2h0M387.5 74.2h0M388.6 74.1h0M389.6 74.1h0M390.7 74h0M391.8 74h0M392.8 74h0M393.9 73.9h0M394.9 73.9h0M396 73.8h0M397.1 73.8h0M398.1 73.8h0M399.2 73.7h0M400.2 73.7h0M401.3 73.6h0M402.4 73.6h0M403.4 73.6h0M404.5 73.5h0M405.5 73.5h0M406.6 73.5h0M407.7 73.4h0M408.7 73.4h0M409.8 73.4h0M410.8 73.3h0M411.9 73.3h0M413 73.3h0M414 73.2h0M415.1 73.2h0M416.1 73.2h0M417.2 73.2h0M418.3 73.1h0M419.3 73.1h0M420.4 73.1h0M421.4 73h0M422.5 73h0M423.6 73h0M424.6 73h0M425.7 72.9h0M426.7 72.9h0M427.8 72.9h0M428.9 72.9h0M429.9 72.8h0M431 72.8h0M432 72.8h0M433.1 72.8h0M434.2 72.8h0M435.2 72.7h0M436.3 72.7h0M437.3 72.7h0M438.4 72.7h0M439.5 72.7h0M440.5 72.6h0M441.6 72.6h0M442.6 72.6h0M443.7 72.6h0M444.8 72.6h0M445.8 72.5h0M446.9 72.5h0M447.9 72.5h0M449 72.5h0M450.1 72.5h0M451.1 72.5h0M452.2 72.5h0M453.2 72.4h0M454.3 72.4h0M455.4 72.4h0M456.4 72.4h0M457.5 72.4h0M458.5 72.4h0M459.6 72.4h0M460.7 72.3h0M461.7 72.3h0M462.8 72.3h0M463.8 72.3h0M464.5 72.3h0" fill="none" stroke="#c80000" stroke-width="2.3" stroke-linecap="round"/></g>
<g id="labels" opacity="0.999">
<g id="ticklabels"><text transform="translate(83.2 453.7) scale(0.96 1.0)" text-anchor="middle" font-size="18.7" fill="#1a1a1a">0</text>
<text transform="translate(164.32 453.7) scale(0.96 1.0)" text-anchor="middle" font-size="18.7" fill="#1a1a1a">100</text>
<text transform="translate(245.44 453.7) scale(0.96 1.0)" text-anchor="middle" font-size="18.7" fill="#1a1a1a">200</text>
<text transform="translate(326.56 453.7) scale(0.96 1.0)" text-anchor="middle" font-size="18.7" fill="#1a1a1a">300</text>
<text transform="translate(407.68 453.7) scale(0.96 1.0)" text-anchor="middle" font-size="18.7" fill="#1a1a1a">400</text>
<text transform="translate(488.8 453.7) scale(0.96 1.0)" text-anchor="middle" font-size="18.7" fill="#1a1a1a">500</text>
<text transform="translate(569.92 453.7) scale(0.96 1.0)" text-anchor="middle" font-size="18.7" fill="#1a1a1a">600</text>
<text transform="translate(651.04 453.7) scale(0.96 1.0)" text-anchor="middle" font-size="18.7" fill="#1a1a1a">700</text>
<text transform="translate(69.2 430.25) scale(0.96 1.0)" text-anchor="end" font-size="18.7" fill="#1a1a1a">0.00</text>
<text transform="translate(69.2 291.9) scale(0.96 1.0)" text-anchor="end" font-size="18.7" fill="#1a1a1a">0.01</text>
<text transform="translate(69.2 153.55) scale(0.96 1.0)" text-anchor="end" font-size="18.7" fill="#1a1a1a">0.02</text>
<text transform="translate(69.2 15.2) scale(0.96 1.0)" text-anchor="end" font-size="18.7" fill="#1a1a1a">0.03</text></g>
<text transform="translate(367.9 488.6) scale(0.945 1.0)" text-anchor="middle" font-size="24" fill="#1a1a1a">Time (min)</text>
<text transform="translate(17.9 303.3) rotate(-90) scale(1.0 0.96)" text-anchor="start" font-size="22.4" fill="#1a1a1a">Hydrogen</text>
<text transform="translate(17.9 129.9) rotate(-90) scale(1.06 0.96)" text-anchor="end" font-size="22.4" fill="#1a1a1a">(mmol)</text>
<text transform="translate(651.3 326.1) scale(0.955 1.0)" text-anchor="end" font-size="23.3" fill="#000000">HCOOH</text>
<text transform="translate(651.3 353.8) scale(0.955 1.0)" text-anchor="end" font-size="23.3" fill="#c80000">HCOOD</text>
<text transform="translate(651.3 381.6) scale(0.955 1.0)" text-anchor="end" font-size="23.3" fill="#00a000">DCOOH</text>
<text transform="translate(651.3 409.4) scale(0.955 1.0)" text-anchor="end" font-size="23.3" fill="#0000c8">DCOOD</text>
</g>
</svg>
</body>
</html>
